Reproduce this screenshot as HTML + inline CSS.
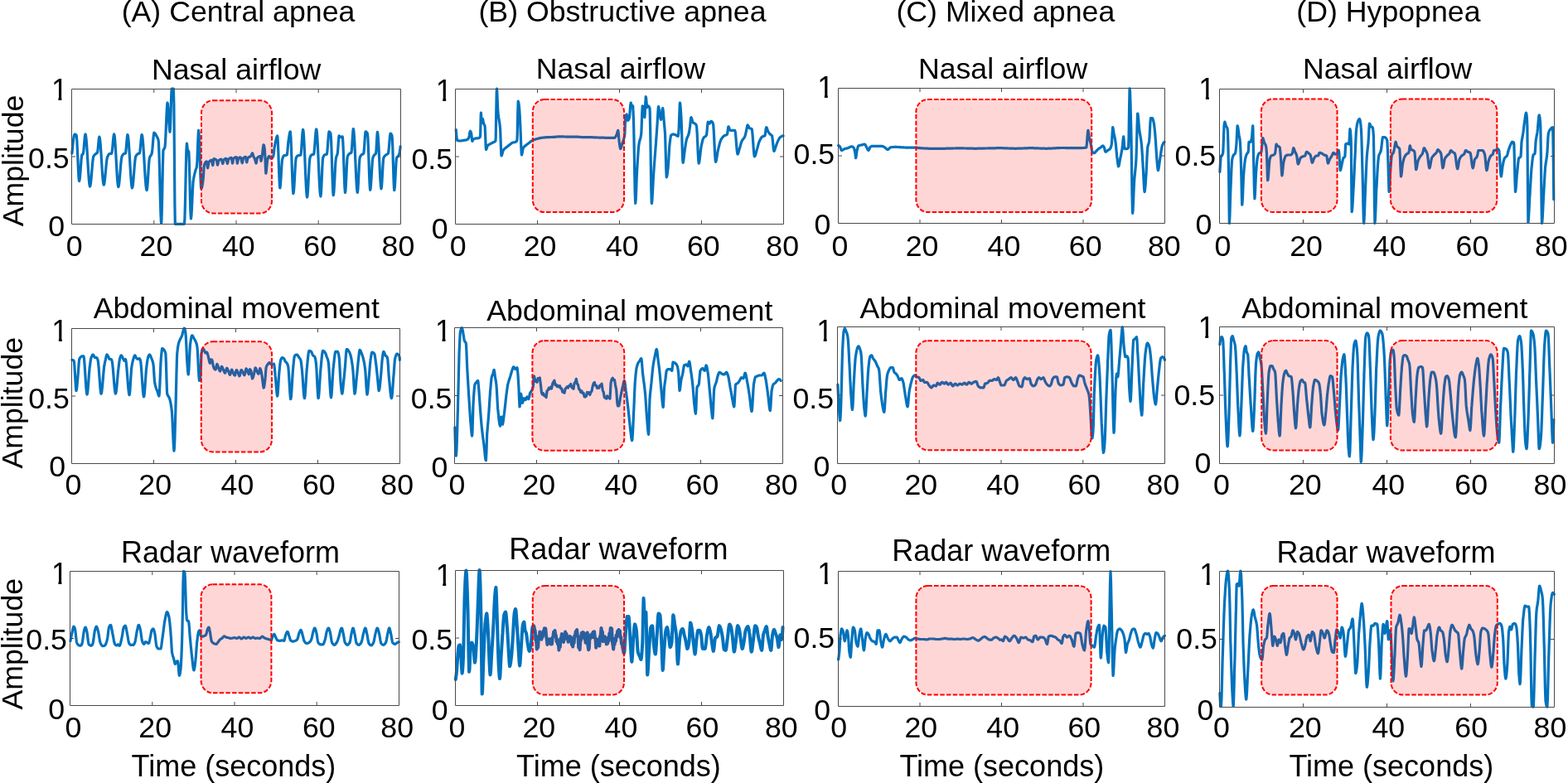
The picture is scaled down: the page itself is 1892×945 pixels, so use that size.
<!DOCTYPE html><html><head><meta charset="utf-8"><title>Apnea waveforms</title><style>html,body{margin:0;padding:0;background:#fff;}svg{display:block;}text{font-family:"Liberation Sans",sans-serif;font-size:35.7px;fill:#000;}</style></head><body>
<svg width="1892" height="945" viewBox="0 0 1892 945">
<rect width="1892" height="945" fill="#fff"/>
<g><path d="M86.9,185.2 87.4,179.5 87.9,174.4 88.4,170.0 88.9,166.4 89.4,163.8 89.9,162.3 90.2,162.0 90.4,162.0 90.9,162.2 91.4,162.4 91.9,162.8 92.0,163.0 92.4,164.4 92.9,170.9 93.4,180.9 93.9,192.4 94.4,203.7 94.9,212.8 95.4,218.0 95.6,218.5 95.9,217.9 96.4,214.3 96.9,208.5 97.4,201.8 97.9,195.2 98.4,189.9 98.9,187.1 98.9,187.0 99.4,186.5 99.9,186.0 100.2,185.6 100.4,185.0 100.9,181.4 101.4,175.9 101.9,169.8 102.4,164.8 102.9,162.1 103.0,162.0 103.4,162.9 103.9,166.4 104.4,171.9 104.9,178.9 105.4,187.0 105.9,195.4 106.4,203.7 106.9,211.4 107.4,217.8 107.9,222.5 108.4,224.8 108.5,225.0 108.9,224.4 109.4,221.7 109.9,217.2 110.4,211.6 110.9,205.5 111.4,199.6 111.9,194.4 112.4,190.6 112.8,188.9 112.9,188.7 113.4,187.9 113.9,187.2 114.4,186.6 114.9,186.2 115.4,185.7 115.6,185.6 115.9,185.3 116.4,185.1 116.9,184.8 117.4,184.3 117.4,184.3 117.9,182.2 118.4,177.3 118.9,171.6 119.4,166.9 119.8,165.2 119.9,165.2 120.4,166.8 120.9,170.8 121.4,176.7 121.9,183.9 122.4,191.8 122.9,199.8 123.4,207.5 123.9,214.2 124.4,219.4 124.9,222.5 125.2,223.1 125.4,223.0 125.9,221.2 126.4,217.6 126.9,212.8 127.4,207.4 127.9,201.8 128.4,196.7 128.9,192.6 129.4,190.1 129.4,189.8 129.9,188.9 130.4,187.8 130.9,186.9 131.4,186.2 131.9,185.7 132.2,185.6 132.4,185.5 132.9,185.4 133.4,185.4 133.9,185.3 134.4,185.3 134.6,185.2 134.9,184.8 135.4,181.6 135.9,176.5 136.4,170.7 136.9,165.6 137.4,162.5 137.6,162.0 137.9,162.5 138.4,165.7 138.9,171.5 139.4,179.0 139.9,187.7 140.4,196.9 140.9,205.8 141.4,213.8 141.9,220.2 142.4,224.3 142.8,225.6 142.9,225.5 143.4,223.9 143.9,220.2 144.4,215.1 144.9,209.1 145.4,202.9 145.9,197.2 146.4,192.5 146.9,189.5 147.0,188.9 147.4,188.2 147.9,187.3 148.4,186.5 148.9,185.9 149.4,185.6 149.4,185.6 149.9,185.5 150.4,185.4 150.9,185.3 151.3,185.2 151.4,185.1 151.9,182.4 152.4,176.9 152.9,170.5 153.4,165.1 153.9,162.6 153.9,162.6 154.4,163.9 154.9,167.7 155.4,173.6 155.9,181.0 156.4,189.3 156.9,197.9 157.4,206.4 157.9,214.0 158.4,220.4 158.9,224.8 159.4,226.8 159.4,226.9 159.9,225.9 160.4,222.7 160.9,217.8 161.4,211.8 161.9,205.4 162.4,199.2 162.9,193.9 163.4,190.2 163.7,188.9 163.9,188.6 164.4,187.7 164.9,187.0 165.4,186.4 165.9,186.0 166.4,185.6 166.5,185.6 166.9,185.4 167.4,185.2 167.9,185.1 168.3,184.8 168.4,184.8 168.9,182.5 169.4,177.7 169.9,171.9 170.4,166.6 170.9,163.1 171.1,162.6 171.4,162.9 171.9,165.5 172.4,170.2 172.9,176.5 173.4,184.1 173.9,192.3 174.4,200.8 174.9,209.0 175.4,216.4 175.9,222.7 176.4,227.1 176.9,229.4 177.0,229.6 177.4,228.7 177.9,224.3 178.4,217.3 178.9,209.1 179.4,201.1 179.9,194.5 180.4,190.8 180.4,190.7 180.9,189.4 181.4,188.5 181.9,187.8 182.4,187.1 182.9,186.0 183.1,185.2 183.4,184.2 183.9,179.9 184.4,173.9 184.9,167.7 185.4,162.6 185.9,160.2 185.9,160.2 186.4,160.3 186.9,160.8 187.4,161.5 187.9,162.4 188.4,163.3 188.7,163.9 188.9,164.1 189.4,165.0 189.9,165.8 190.4,167.0 190.9,168.5 191.1,169.4 191.4,171.6 191.9,182.7 192.4,200.1 192.9,220.5 193.4,240.7 193.9,257.5 194.4,267.8 194.6,269.4 194.9,267.4 195.4,251.0 195.9,225.6 196.4,200.1 196.9,183.5 197.0,181.5 197.4,180.6 197.9,179.7 198.4,179.0 198.9,177.9 198.9,177.8 199.4,173.5 199.9,164.2 200.4,152.4 200.9,140.2 201.4,130.2 201.9,124.6 202.0,124.1 202.4,125.2 202.9,130.6 203.4,138.7 203.9,147.5 204.4,154.9 204.9,159.0 205.0,159.3 205.4,155.7 205.9,142.1 206.4,124.8 206.9,110.9 207.2,107.0 207.4,107.0 207.9,107.0 208.4,107.0 208.9,107.0 209.4,107.0 209.4,107.0 209.9,127.3 210.4,186.3 210.9,246.7 211.3,270.4 211.4,270.4 211.9,270.4 212.4,270.4 212.9,270.4 213.4,270.4 213.9,270.4 214.4,270.4 214.9,270.4 215.4,270.4 215.9,270.4 216.4,270.4 216.9,270.4 217.4,270.4 217.9,270.4 218.4,270.4 218.9,270.4 219.4,270.4 219.9,270.4 220.4,270.4 220.9,270.4 221.4,270.4 221.9,270.4 222.4,270.4 222.4,270.4 222.9,264.5 223.4,247.0 223.9,223.6 224.4,199.7 224.9,181.0 225.4,173.2 225.4,173.1 225.9,176.3 226.4,181.8 226.7,183.3 226.9,183.2 227.4,182.6 227.6,182.4 227.9,184.4 228.4,197.3 228.9,217.5 229.4,239.1 229.9,256.4 230.4,263.9 230.4,263.9 230.9,260.8 231.4,252.5 231.9,241.6 232.4,230.5 232.9,221.7 233.1,218.5 233.4,217.1 233.9,214.1 234.4,211.6 234.9,209.5 235.4,207.6 235.9,205.8 235.9,205.6 236.4,204.3 236.9,203.0 237.4,201.2 237.4,200.9 237.9,194.9 238.4,182.4 238.9,168.8 239.4,159.1 239.6,157.4 239.9,158.4 240.4,166.8 240.9,181.0 241.4,197.5 241.9,213.1 242.4,224.3 242.8,227.8 242.9,227.8 243.4,226.9 243.9,224.9 244.4,222.2 244.9,218.8 245.0,217.6 245.4,213.8 245.9,205.1 246.3,199.6 246.4,199.6 246.9,198.1 247.4,196.9 247.9,196.0 248.4,195.3 248.9,195.0 249.3,194.9 249.4,195.0 249.9,198.2 250.4,202.2 250.6,202.8 250.9,202.1 251.4,198.8 251.9,196.0 251.9,195.9 252.4,195.3 252.9,194.7 253.4,194.2 253.9,193.8 254.4,193.5 254.9,193.3 255.3,193.3 255.4,193.3 255.9,195.4 256.4,198.7 256.7,199.6 256.9,199.2 257.4,195.4 257.9,191.9 258.0,191.7 258.4,191.7 258.9,191.8 259.4,192.0 259.9,192.2 260.4,192.6 260.9,193.0 261.2,193.3 261.4,193.7 261.9,196.5 262.4,198.9 262.5,199.1 262.9,198.2 263.4,195.5 263.8,193.8 263.9,193.8 264.4,193.3 264.9,192.9 265.4,192.6 265.9,192.4 266.4,192.3 266.9,192.2 267.0,192.2 267.4,192.8 267.9,194.6 268.4,196.6 268.8,197.5 268.9,197.5 269.4,196.0 269.9,193.6 270.2,192.8 270.4,192.6 270.9,192.2 271.4,191.8 271.9,191.6 272.4,191.5 272.8,191.4 272.9,191.4 273.4,193.1 273.9,195.9 274.4,197.5 274.4,197.5 274.9,196.1 275.4,193.4 275.7,192.2 275.9,192.1 276.4,191.6 276.9,191.2 277.4,190.9 277.9,190.6 278.4,190.5 278.9,190.4 279.2,190.4 279.4,190.8 279.9,194.0 280.4,196.8 280.5,197.0 280.9,196.0 281.4,193.1 281.8,191.4 281.9,191.4 282.4,190.9 282.9,190.5 283.4,190.1 283.9,189.9 284.4,189.7 284.9,189.6 285.2,189.6 285.4,189.8 285.9,194.3 286.3,197.2 286.4,197.2 286.9,195.1 287.4,192.0 287.6,191.2 287.9,190.9 288.4,190.5 288.9,190.2 289.4,189.9 289.9,189.8 290.0,189.8 290.4,190.2 290.9,191.9 291.4,194.0 291.9,195.9 292.4,196.7 292.4,196.7 292.9,194.5 293.4,191.4 293.4,191.2 293.9,190.7 294.4,190.2 294.9,189.8 295.4,189.5 295.9,189.4 296.3,189.3 296.4,189.3 296.9,191.5 297.4,195.0 297.7,195.9 297.9,195.7 298.4,193.4 298.9,190.9 299.0,190.6 299.4,190.3 299.9,189.9 300.4,189.6 300.9,189.4 301.4,189.2 301.9,189.0 302.4,188.6 302.4,188.5 302.9,187.9 303.4,186.8 303.9,185.6 304.4,184.9 304.6,184.8 304.9,185.3 305.4,187.2 305.9,189.0 305.9,189.0 306.4,189.9 306.9,190.6 307.2,191.2 307.4,191.6 307.9,193.4 308.4,195.5 308.9,196.8 309.0,197.0 309.4,196.2 309.9,193.0 310.4,190.7 310.4,190.6 310.9,190.1 311.4,189.6 311.9,189.3 312.4,189.0 312.9,188.7 313.4,188.6 313.9,188.5 314.1,188.5 314.4,190.2 314.9,194.3 314.9,194.3 315.4,193.2 315.9,190.5 316.2,188.5 316.4,187.5 316.9,183.0 317.4,178.2 317.9,175.1 318.0,174.8 318.4,175.2 318.9,177.3 319.4,180.5 319.4,180.6 319.9,189.4 320.4,202.5 320.8,209.2 320.9,209.2 321.4,206.3 321.9,200.3 322.4,194.9 322.5,193.8 322.9,192.6 323.4,190.8 323.9,189.5 324.4,188.7 324.7,188.5 324.9,188.6 325.4,189.0 325.9,189.7 326.4,190.4 326.9,191.0 327.3,191.2 327.4,191.2 327.9,191.0 328.4,190.7 328.9,190.1 329.4,189.2 329.9,188.2 329.9,188.0 330.4,185.2 330.9,180.2 330.9,179.6 331.4,176.8 331.9,174.0 332.2,172.2 332.4,171.6 332.9,169.3 333.4,167.0 333.9,165.2 334.4,164.1 334.6,163.9 334.9,164.8 335.4,172.3 335.9,185.0 336.4,199.8 336.9,213.7 337.4,223.7 337.8,226.9 337.9,226.8 338.4,223.4 338.9,216.5 339.4,207.9 339.9,199.6 340.4,193.8 340.6,192.6 340.9,191.5 341.4,189.8 341.9,188.6 342.4,188.0 342.4,188.0 342.9,187.8 343.4,187.6 343.9,187.6 344.4,187.5 344.9,187.4 345.4,187.3 345.9,187.2 346.1,187.0 346.4,186.3 346.9,182.2 347.4,176.4 347.9,171.2 348.0,170.4 348.4,167.7 348.9,164.2 349.4,161.2 349.9,159.3 350.2,158.9 350.4,159.3 350.9,165.3 351.4,176.5 351.9,190.7 352.4,205.7 352.9,219.4 353.4,229.4 353.9,233.7 353.9,233.7 354.4,231.6 354.9,225.5 355.4,217.0 355.9,207.7 356.4,199.2 356.9,192.9 357.2,190.7 357.4,190.4 357.9,189.4 358.4,188.6 358.9,188.1 359.1,188.0 359.4,187.8 359.9,187.7 360.4,187.6 360.9,187.5 361.4,187.5 361.9,187.4 362.4,187.2 362.8,187.0 362.9,186.9 363.4,183.5 363.9,176.7 364.4,168.6 364.9,161.3 365.4,156.9 365.6,156.5 365.9,157.3 366.4,162.0 366.9,170.1 367.4,180.5 367.9,192.3 368.4,204.4 368.9,216.0 369.4,226.1 369.9,233.6 370.4,237.6 370.6,238.0 370.9,237.0 371.4,231.6 371.9,223.1 372.4,213.1 372.9,203.2 373.4,195.3 373.9,190.9 373.9,190.7 374.4,189.4 374.9,188.2 375.4,187.4 375.7,187.0 375.9,187.0 376.4,186.8 376.9,186.6 377.4,186.5 377.9,186.4 378.4,186.2 378.5,186.1 378.9,185.0 379.4,180.6 379.9,174.2 380.4,167.1 380.9,160.8 381.4,156.8 381.7,155.9 381.9,156.2 382.4,159.8 382.9,166.7 383.4,176.1 383.9,187.0 384.4,198.7 384.9,210.1 385.4,220.6 385.9,229.2 386.4,234.9 386.9,237.0 387.4,233.3 387.9,224.1 388.4,212.4 388.9,201.0 389.4,192.8 389.6,190.7 389.9,190.0 390.4,188.7 390.9,187.7 391.4,187.1 391.5,187.0 391.9,186.9 392.4,186.7 392.9,186.6 393.4,186.5 393.9,186.3 394.3,186.1 394.4,186.0 394.9,182.7 395.4,176.5 395.9,169.3 396.4,163.0 396.9,159.2 397.0,158.9 397.4,159.0 397.9,159.4 398.4,160.1 398.9,161.0 398.9,161.1 399.4,165.8 399.9,177.2 400.4,192.6 400.9,209.0 401.4,223.5 401.9,233.3 402.2,235.7 402.4,235.5 402.9,231.5 403.4,223.7 403.9,214.0 404.4,204.0 404.9,195.7 405.4,190.8 405.4,190.7 405.9,189.0 406.4,187.9 406.9,186.6 407.2,185.2 407.4,184.4 407.9,178.2 408.4,170.3 408.9,164.6 409.1,163.9 409.4,164.0 409.9,164.6 410.4,165.3 410.9,165.7 410.9,165.7 411.4,165.7 411.9,165.4 412.4,165.1 412.9,164.9 413.1,164.8 413.4,165.5 413.9,172.6 414.4,184.9 414.9,199.7 415.4,214.4 415.9,226.1 416.4,232.1 416.5,232.4 416.9,230.4 417.4,222.7 417.9,211.9 418.4,200.8 418.9,192.2 419.3,188.9 419.4,188.7 419.9,187.6 420.4,186.8 420.9,186.2 421.4,185.7 421.9,185.3 422.0,185.2 422.4,185.0 422.9,184.8 423.4,184.6 423.9,184.3 423.9,184.3 424.4,181.2 424.9,173.8 425.4,165.1 425.9,158.1 426.3,155.6 426.4,155.6 426.9,158.2 427.4,164.4 427.9,173.2 428.4,183.8 428.9,195.3 429.4,206.6 429.9,216.9 430.4,225.2 430.9,230.7 431.3,232.4 431.4,232.4 431.9,228.4 432.4,219.8 432.9,209.1 433.4,199.1 433.9,192.1 434.1,190.7 434.4,189.9 434.9,188.6 435.4,187.8 435.9,187.1 435.9,187.0 436.4,186.7 436.9,186.4 437.4,186.2 437.9,185.9 438.4,185.6 438.7,185.2 438.9,184.7 439.4,180.0 439.9,172.5 440.4,164.9 440.9,159.7 441.1,158.9 441.4,158.9 441.9,159.2 442.4,159.6 442.9,160.3 443.3,161.1 443.4,161.2 443.9,166.2 444.4,177.2 444.9,191.5 445.4,206.4 445.9,219.3 446.4,227.6 446.7,229.3 446.9,228.9 447.4,225.0 447.9,217.9 448.4,209.3 448.9,200.8 449.4,194.1 449.8,190.7 449.9,190.6 450.4,189.3 450.9,188.2 451.4,187.5 451.7,187.0 451.9,186.8 452.4,186.4 452.9,186.0 453.4,185.5 453.5,185.2 453.9,182.5 454.4,173.7 454.9,164.0 455.4,159.3 455.4,159.3 455.9,161.3 456.4,167.2 456.9,175.8 457.4,186.2 457.9,197.2 458.4,207.9 458.9,217.2 459.4,224.1 459.9,227.6 460.0,227.8 460.4,226.2 460.9,219.9 461.4,210.8 461.9,201.3 462.4,193.8 462.8,190.7 462.9,190.6 463.4,189.5 463.9,188.8 464.4,188.1 464.9,187.7 465.4,187.2 465.6,187.0 465.9,186.8 466.4,186.5 466.9,186.3 467.4,186.0 467.9,185.7 468.3,185.2 468.4,185.2 468.9,182.6 469.4,177.3 469.9,171.1 470.4,165.3 470.9,161.7 471.1,161.1 471.4,161.2 471.9,161.6 472.4,162.5 472.9,163.6 473.0,163.9 473.4,168.2 473.9,180.9 474.4,197.7 474.9,214.3 475.4,226.2 475.7,229.6 475.9,229.5 476.4,225.1 476.9,216.6 477.4,206.5 477.9,197.3 478.4,191.5 478.5,190.7 478.9,190.0 479.4,189.3 479.9,188.9 480.4,188.4 480.9,187.8 481.3,187.0 481.4,186.9 481.9,185.1 482.4,182.3 482.9,179.0 483.1,176.9" fill="none" stroke="#0072BD" stroke-width="3.2" stroke-linejoin="round" stroke-linecap="round"/><rect x="243.0" y="121.2" width="85.0" height="136.2" rx="14" ry="15" fill="#ff0000" fill-opacity="0.16" stroke="#ff0000" stroke-width="2" stroke-dasharray="5.5 2.2"/><path d="M86.5,107.5H483.5V270.5H86.5ZM185.8,270.5v-4.5M185.8,107.5v4.5M285.0,270.5v-4.5M285.0,107.5v4.5M384.2,270.5v-4.5M384.2,107.5v4.5M86.5,189.0h4.5M483.5,189.0h-4.5" fill="none" stroke="#4a4a4a" stroke-width="1"/><text x="79.80" y="308.50">0</text><text x="168.60" y="308.50">20</text><text x="267.90" y="308.50">40</text><text x="366.30" y="308.50">60</text><text x="460.62" y="308.50">80</text><text transform="translate(61.88,121.10) scale(1,1.05)" clip-path="url(#one)">1</text><text x="34.10" y="202.97">0.5</text><text x="58.30" y="285.27">0</text></g>
<g><path d="M550.2,156.5 550.7,162.3 551.2,167.3 551.7,169.4 551.7,169.5 552.2,169.6 552.7,169.7 553.2,169.8 553.7,169.9 554.2,170.0 554.7,170.0 555.2,170.0 555.4,170.0 555.7,170.0 556.2,170.0 556.7,169.9 557.2,169.8 557.7,169.7 558.2,169.6 558.7,169.5 559.1,169.4 559.2,169.4 559.7,169.4 560.2,169.3 560.7,169.2 561.2,169.2 561.7,169.1 562.2,169.0 562.7,168.9 562.8,168.9 563.2,168.8 563.7,168.5 564.2,168.2 564.7,167.7 565.2,167.2 565.6,166.7 565.7,166.4 566.2,164.0 566.7,160.9 567.2,158.6 567.4,158.3 567.7,158.5 568.2,159.5 568.7,161.0 568.7,161.1 569.2,165.4 569.7,170.1 569.9,170.4 570.2,170.0 570.7,168.8 571.1,168.1 571.2,168.1 571.7,167.8 572.2,167.5 572.7,167.3 573.2,167.2 573.7,167.1 573.9,167.0 574.2,167.0 574.7,166.9 575.2,166.9 575.7,166.9 576.2,166.8 576.7,166.8 577.2,166.7 577.6,166.7 577.7,166.6 578.2,166.4 578.7,166.0 579.2,165.3 579.5,164.8 579.7,159.7 580.2,139.0 580.4,136.1 580.7,139.3 581.2,147.7 581.3,148.1 581.7,146.8 582.2,144.0 582.4,143.5 582.7,144.2 583.2,147.4 583.6,149.1 583.7,149.5 584.2,150.3 584.7,151.0 585.0,151.9 585.2,153.6 585.7,165.3 586.2,177.7 586.5,180.6 586.7,180.4 587.2,179.2 587.7,177.5 588.2,176.2 588.4,175.9 588.7,175.5 589.2,175.1 589.7,174.7 590.2,174.4 590.7,174.2 591.2,173.9 591.5,173.7 591.7,173.6 592.2,173.3 592.7,173.0 593.2,172.8 593.7,172.5 594.2,172.3 594.3,172.2 594.7,172.0 595.2,171.8 595.7,171.6 596.2,171.5 596.7,171.2 597.2,170.8 597.7,170.4 598.0,170.0 598.2,165.9 598.7,139.2 599.2,111.6 599.5,107.1 599.7,108.5 600.2,120.6 600.7,132.6 600.8,133.3 601.2,137.9 601.7,141.7 602.2,144.7 602.7,147.9 603.2,151.9 603.6,155.6 603.7,158.3 604.2,171.8 604.7,184.8 605.0,188.0 605.2,187.9 605.7,186.7 606.2,184.9 606.7,182.9 607.2,181.5 607.3,181.5 607.7,180.8 608.2,180.2 608.7,179.7 609.2,179.2 609.7,178.8 610.2,178.4 610.7,178.0 611.0,177.8 611.2,177.6 611.7,177.2 612.2,176.8 612.7,176.4 613.2,176.0 613.7,175.7 614.2,175.3 614.7,175.0 614.7,175.0 615.2,174.6 615.7,174.1 616.2,173.7 616.7,173.3 617.2,172.9 617.7,172.5 618.2,172.3 618.4,172.2 618.7,172.1 619.2,172.0 619.7,171.9 620.2,171.8 620.7,171.7 621.2,171.6 621.7,171.4 622.1,171.3 622.2,171.2 622.7,171.0 623.2,170.5 623.7,169.8 623.9,169.4 624.2,162.8 624.7,137.6 625.2,122.2 625.7,123.6 626.2,127.1 626.7,131.5 626.7,131.7 627.2,139.3 627.7,149.8 628.0,155.6 628.2,160.6 628.7,174.5 629.2,185.2 629.5,187.0 629.7,186.7 630.2,184.4 630.7,181.3 631.2,179.0 631.3,178.7 631.7,178.1 632.2,177.4 632.7,176.9 633.2,176.4 633.7,176.0 634.2,175.6 634.7,175.3 635.0,175.0 635.2,174.8 635.7,174.4 636.2,174.1 636.7,173.7 637.2,173.3 637.7,173.0 638.2,172.6 638.7,172.2 638.7,172.2 639.2,171.8 639.7,171.4 640.2,171.0 640.7,170.6 641.2,170.2 641.7,169.9 642.2,169.6 642.4,169.4 642.7,169.3 643.2,169.1 643.7,168.9 644.2,168.7 644.7,168.5 645.2,168.4 645.7,168.2 646.2,168.1 646.7,167.9 647.2,167.8 647.7,167.7 648.0,167.6 648.2,167.5 648.7,167.4 649.2,167.3 649.7,167.1 650.2,167.0 650.7,166.9 651.2,166.7 651.7,166.6 652.2,166.5 652.7,166.4 653.2,166.3 653.6,166.3 653.7,166.3 654.2,166.2 654.7,166.1 655.2,166.1 655.7,166.0 656.2,166.0 656.7,165.9 657.2,165.9 657.7,165.8 658.2,165.8 658.7,165.8 659.1,165.7 659.2,165.7 659.7,165.7 660.2,165.7 660.7,165.7 661.2,165.6 661.7,165.6 662.2,165.6 662.7,165.6 663.2,165.6 663.7,165.5 664.2,165.5 664.7,165.5 665.2,165.5 665.7,165.5 666.2,165.5 666.7,165.4 667.2,165.4 667.7,165.4 668.2,165.4 668.4,165.4 668.7,165.3 669.2,165.3 669.7,165.3 670.2,165.2 670.7,165.2 671.2,165.1 671.7,165.1 672.2,165.0 672.7,165.0 673.2,164.9 673.7,164.9 674.2,164.9 674.7,164.8 675.2,164.8 675.7,164.8 675.8,164.8 676.2,164.8 676.7,164.8 677.2,164.8 677.7,164.8 678.2,164.9 678.7,164.9 679.2,164.9 679.7,164.9 680.2,164.9 680.7,165.0 681.2,165.0 681.7,165.0 682.2,165.0 682.7,165.1 683.2,165.1 683.7,165.1 684.2,165.1 684.7,165.1 685.2,165.2 685.7,165.2 686.2,165.2 686.7,165.2 686.9,165.2 687.2,165.2 687.7,165.2 688.2,165.2 688.7,165.2 689.2,165.2 689.7,165.2 690.2,165.2 690.7,165.2 691.2,165.2 691.7,165.2 692.2,165.2 692.7,165.2 693.2,165.2 693.7,165.2 694.2,165.2 694.7,165.2 695.2,165.2 695.7,165.2 696.1,165.2 696.2,165.2 696.7,165.2 697.2,165.2 697.7,165.2 698.2,165.3 698.7,165.3 699.2,165.3 699.7,165.4 700.2,165.4 700.7,165.5 701.2,165.5 701.7,165.5 702.2,165.6 702.7,165.6 703.2,165.7 703.7,165.7 704.2,165.7 704.7,165.7 705.2,165.7 705.4,165.7 705.7,165.7 706.2,165.7 706.7,165.7 707.2,165.7 707.7,165.7 708.2,165.7 708.7,165.7 709.2,165.7 709.7,165.7 710.2,165.7 710.7,165.7 711.2,165.7 711.7,165.7 712.2,165.7 712.7,165.7 713.2,165.7 713.7,165.7 714.2,165.7 714.7,165.7 714.7,165.7 715.2,165.7 715.7,165.8 716.2,165.8 716.7,165.8 717.2,165.8 717.7,165.8 718.2,165.8 718.7,165.9 719.2,165.9 719.7,165.9 720.2,165.9 720.7,166.0 721.2,166.0 721.7,166.0 722.2,166.0 722.7,166.1 723.2,166.1 723.7,166.1 723.9,166.1 724.2,166.1 724.7,166.1 725.2,166.1 725.7,166.2 726.2,166.2 726.7,166.2 727.2,166.2 727.7,166.2 728.2,166.2 728.7,166.2 729.2,166.2 729.7,166.3 730.2,166.3 730.7,166.3 731.2,166.3 731.7,166.3 732.2,166.3 732.7,166.3 733.2,166.3 733.2,166.3 733.7,166.3 734.2,166.3 734.7,166.3 735.2,166.3 735.7,166.3 736.2,166.3 736.7,166.3 737.2,166.3 737.7,166.3 738.2,166.3 738.7,166.3 739.2,166.3 739.7,166.3 740.2,166.3 740.7,166.3 741.2,166.3 741.5,166.3 741.7,166.3 742.2,165.9 742.7,165.2 743.2,164.3 743.7,163.4 743.9,163.0 744.2,162.2 744.7,160.3 745.2,158.4 745.7,157.4 745.8,157.4 746.2,160.2 746.7,166.7 747.1,170.4 747.2,171.4 747.7,175.1 748.2,178.2 748.7,179.6 748.8,179.6 749.2,179.1 749.7,177.5 750.2,175.5 750.6,174.1 750.7,173.8 751.2,172.4 751.7,170.9 752.2,169.4 752.5,168.5 752.7,167.7 753.2,166.0 753.7,163.3 753.8,163.0 754.2,154.4 754.7,142.4 754.9,140.7 755.2,139.6 755.7,138.4 756.2,138.0 756.2,138.0 756.7,140.7 757.2,144.6 757.5,145.4 757.7,145.3 758.2,144.9 758.7,144.0 759.2,142.9 759.3,142.6 759.7,139.9 760.2,133.3 760.7,126.7 761.2,124.1 761.2,124.1 761.7,125.7 762.2,128.4 762.7,129.6 762.7,129.6 763.2,128.4 763.6,127.8 763.7,128.4 764.2,138.2 764.5,146.3 764.7,153.1 765.2,178.4 765.7,208.6 766.2,234.1 766.7,245.4 766.7,245.4 767.2,240.6 767.7,228.8 768.2,215.3 768.6,207.4 768.7,205.2 769.2,196.9 769.7,189.0 770.2,181.9 770.7,176.4 771.0,174.1 771.2,172.6 771.7,170.3 772.2,168.5 772.7,166.9 773.2,164.8 773.7,161.6 773.8,161.1 774.2,152.1 774.7,136.7 775.2,127.8 775.3,127.8 775.7,128.2 776.2,129.5 776.6,130.6 776.7,131.5 777.2,136.9 777.7,141.4 777.9,141.7 778.2,137.8 778.7,125.9 779.2,117.1 779.3,116.7 779.7,118.9 780.2,125.1 780.7,129.5 780.8,129.6 781.2,129.2 781.7,128.2 782.1,127.8 782.2,127.8 782.7,128.1 783.2,128.8 783.7,129.9 784.0,130.6 784.2,134.8 784.7,158.6 785.2,192.7 785.7,225.2 786.2,244.1 786.4,245.4 786.7,243.7 787.2,237.0 787.7,227.4 788.2,217.3 788.6,211.1 788.7,209.3 789.2,202.4 789.7,195.7 790.2,189.2 790.7,182.7 791.2,176.1 791.4,174.1 791.7,169.2 792.2,162.3 792.7,155.3 793.2,148.1 793.7,139.0 794.2,130.5 794.5,128.7 794.7,129.0 795.2,131.2 795.7,134.5 796.0,136.1 796.2,137.5 796.7,141.1 797.2,144.0 797.5,144.4 797.7,144.0 798.2,140.8 798.7,136.3 799.2,132.2 799.7,130.6 799.7,130.6 800.2,133.7 800.7,140.2 801.2,146.3 801.2,146.7 801.7,151.8 802.2,157.4 802.5,161.1 802.7,166.5 803.2,183.9 803.7,202.6 804.2,213.4 804.3,213.9 804.7,213.1 805.2,210.2 805.7,206.1 806.2,201.9 806.2,201.5 806.7,194.7 807.2,185.8 807.7,177.7 808.0,174.1 808.2,172.5 808.7,168.4 809.2,165.1 809.7,163.2 809.9,163.0 810.2,162.8 810.7,162.5 811.2,162.3 811.7,162.1 812.2,162.1 812.7,162.0 812.7,162.0 813.2,162.1 813.7,162.2 814.2,162.4 814.7,162.6 815.2,162.9 815.4,163.0 815.7,163.1 816.2,163.4 816.7,163.8 817.2,164.1 817.7,164.3 818.2,164.4 818.7,161.1 819.1,155.6 819.2,154.4 819.7,140.1 820.2,126.1 820.4,124.1 820.7,125.0 821.2,130.1 821.7,137.6 821.9,140.7 822.2,146.8 822.7,162.0 823.2,178.8 823.7,192.0 824.1,196.3 824.2,196.3 824.7,194.1 825.2,190.0 825.7,185.4 826.0,183.3 826.2,181.8 826.7,178.4 827.2,175.0 827.7,171.8 828.2,169.3 828.4,168.5 828.7,167.4 829.2,166.1 829.7,165.0 830.2,163.9 830.7,162.7 831.2,161.1 831.2,161.0 831.7,158.4 832.2,155.0 832.7,151.9 832.7,151.4 833.2,146.6 833.7,142.3 834.0,141.7 834.2,141.9 834.7,143.1 835.2,144.9 835.7,146.7 836.2,148.0 836.4,148.1 836.7,148.4 837.2,148.5 837.7,148.7 838.2,148.9 838.6,149.1 838.7,149.2 839.2,149.6 839.7,150.3 840.2,151.3 840.4,151.9 840.7,153.7 841.2,161.6 841.7,172.8 842.2,184.4 842.7,193.5 843.2,197.2 843.7,195.9 844.2,192.6 844.7,188.2 845.2,183.6 845.7,179.5 846.0,177.8 846.2,176.6 846.7,174.1 847.2,171.8 847.7,169.7 848.2,168.0 848.7,166.8 848.8,166.7 849.2,166.0 849.7,165.6 850.2,165.2 850.7,164.9 851.2,164.6 851.7,164.1 852.2,163.4 852.5,163.0 852.7,161.9 853.2,156.9 853.7,151.0 854.2,147.4 854.3,147.2 854.7,147.4 855.2,148.1 855.7,148.8 856.2,149.1 856.2,149.1 856.7,148.5 857.2,147.4 857.7,146.5 858.0,146.3 858.2,146.3 858.7,146.6 859.2,147.0 859.7,147.7 860.2,148.6 860.4,149.1 860.7,150.6 861.2,157.1 861.7,166.7 862.2,177.4 862.7,187.1 863.2,193.7 863.6,195.4 863.7,195.3 864.2,194.0 864.7,191.5 865.2,188.3 865.7,185.0 866.2,182.1 866.4,181.5 866.7,180.0 867.2,177.9 867.7,175.9 868.2,173.9 868.7,172.1 869.2,170.6 869.7,169.3 870.1,168.5 870.2,168.2 870.7,167.4 871.2,166.6 871.7,165.9 872.2,165.3 872.7,164.8 873.2,164.3 873.7,163.9 873.8,163.9 874.2,163.6 874.7,163.4 875.2,163.2 875.7,163.1 876.2,162.9 876.7,162.7 877.2,162.3 877.5,162.0 877.7,161.2 878.2,157.2 878.7,153.4 879.0,152.8 879.2,153.0 879.7,154.0 880.2,155.6 880.7,156.9 881.2,157.4 881.2,157.4 881.7,157.4 882.2,157.4 882.7,157.4 883.2,157.4 883.7,157.4 884.0,157.4 884.2,157.4 884.7,157.4 885.2,157.4 885.7,157.4 886.2,157.4 886.7,157.4 886.7,157.4 887.2,159.0 887.7,163.4 888.2,169.4 888.7,175.8 889.2,181.4 889.7,185.2 890.1,186.1 890.2,186.1 890.7,185.2 891.2,183.6 891.7,181.7 892.2,179.9 892.3,179.6 892.7,178.2 893.2,176.4 893.7,174.5 894.2,172.7 894.7,171.2 895.1,170.4 895.2,170.1 895.7,169.2 896.2,168.5 896.7,167.9 897.2,167.3 897.7,166.7 898.2,165.9 898.7,164.9 898.8,164.8 899.2,163.5 899.7,161.5 900.2,159.2 900.6,157.4 900.7,157.0 901.2,154.2 901.7,151.7 902.1,150.9 902.2,150.9 902.7,151.5 903.2,152.6 903.7,153.8 904.2,154.5 904.3,154.6 904.7,154.8 905.2,155.0 905.7,155.1 906.2,155.2 906.7,155.4 907.1,155.6 907.2,155.7 907.7,158.8 908.2,164.5 908.7,171.7 909.2,178.9 909.7,184.9 910.2,188.5 910.4,188.9 910.7,188.8 911.2,187.9 911.7,186.5 912.2,184.7 912.7,182.8 913.2,180.9 913.6,179.6 913.7,179.2 914.2,177.5 914.7,175.6 915.2,173.8 915.7,172.1 916.2,170.7 916.4,170.4 916.7,169.6 917.2,168.6 917.7,167.7 918.2,166.9 918.7,166.1 919.2,165.5 919.7,165.0 920.1,164.8 920.2,164.7 920.7,164.6 921.2,164.4 921.7,164.3 922.2,164.2 922.7,164.0 922.9,163.9 923.2,162.7 923.7,159.1 924.2,155.3 924.7,153.7 924.7,153.7 925.2,154.2 925.7,155.4 926.2,157.0 926.7,158.4 927.1,159.3 927.2,159.4 927.7,160.2 928.2,160.8 928.7,161.4 929.2,161.9 929.3,162.0 929.7,162.4 930.2,162.7 930.7,163.0 931.2,163.5 931.6,163.9 931.7,164.4 932.2,167.9 932.7,173.2 933.2,178.5 933.7,181.9 934.0,182.4 934.2,182.2 934.7,181.2 935.2,179.6 935.7,178.0 935.8,177.8 936.2,176.7 936.7,175.3 937.2,173.8 937.7,172.5 938.2,171.2 938.6,170.4 938.7,170.1 939.2,169.1 939.7,168.1 940.2,167.2 940.7,166.4 941.2,165.9 941.4,165.7 941.7,165.5 942.2,165.1 942.7,164.8 943.2,164.4 943.7,164.2 944.2,164.0 944.7,163.9 945.1,163.9" fill="none" stroke="#0072BD" stroke-width="3.2" stroke-linejoin="round" stroke-linecap="round"/><rect x="642.8" y="120.0" width="110.2" height="136.1" rx="14" ry="15" fill="#ff0000" fill-opacity="0.16" stroke="#ff0000" stroke-width="2" stroke-dasharray="5.5 2.2"/><path d="M549.5,107.5H945.5V270.5H549.5ZM648.5,270.5v-4.5M648.5,107.5v4.5M747.5,270.5v-4.5M747.5,107.5v4.5M846.5,270.5v-4.5M846.5,107.5v4.5M549.5,189.0h4.5M945.5,189.0h-4.5" fill="none" stroke="#4a4a4a" stroke-width="1"/><text x="542.70" y="308.50">0</text><text x="631.70" y="308.50">20</text><text x="730.90" y="308.50">40</text><text x="828.90" y="308.50">60</text><text x="924.33" y="308.50">80</text><text transform="translate(525.67,122.40) scale(1,1.05)" clip-path="url(#one)">1</text><text x="496.40" y="204.07">0.5</text><text x="520.80" y="288.48">0</text></g>
<g><path d="M1011.6,175.6 1012.0,175.7 1012.5,176.0 1013.0,176.5 1013.3,176.9 1013.5,177.0 1014.0,178.1 1014.5,179.6 1015.0,180.8 1015.5,181.5 1015.6,181.5 1016.0,181.4 1016.5,181.2 1017.0,181.0 1017.5,180.7 1018.0,180.3 1018.5,180.0 1019.0,179.7 1019.3,179.6 1019.5,179.6 1020.0,179.4 1020.5,179.3 1021.0,179.2 1021.5,179.1 1022.0,179.0 1022.5,178.8 1023.0,178.7 1023.0,178.7 1023.5,178.5 1024.0,178.3 1024.5,178.0 1025.0,177.8 1025.5,177.5 1026.0,177.3 1026.5,177.1 1027.0,176.9 1027.5,176.9 1027.6,176.9 1028.0,176.9 1028.5,177.1 1029.0,177.3 1029.5,177.7 1030.0,178.2 1030.4,178.7 1030.5,178.9 1031.0,180.5 1031.5,183.1 1031.9,185.2 1032.0,186.1 1032.5,190.5 1032.6,190.7 1033.0,189.5 1033.5,185.6 1034.0,181.9 1034.1,181.5 1034.5,179.8 1035.0,177.9 1035.5,176.5 1035.9,175.9 1036.0,175.9 1036.5,175.7 1037.0,175.5 1037.5,175.4 1038.0,175.3 1038.5,175.2 1039.0,175.1 1039.5,175.0 1039.6,175.0 1040.0,174.9 1040.5,174.7 1041.0,174.6 1041.5,174.4 1042.0,174.3 1042.5,174.2 1043.0,174.1 1043.3,174.1 1043.5,174.1 1044.0,174.6 1044.5,175.5 1045.0,176.5 1045.2,176.9 1045.5,177.4 1046.0,178.4 1046.5,179.5 1047.0,180.5 1047.5,181.2 1048.0,181.5 1048.0,181.5 1048.5,180.9 1049.0,179.6 1049.5,178.3 1049.8,177.8 1050.0,177.6 1050.5,177.2 1051.0,176.9 1051.5,176.6 1052.0,176.4 1052.5,176.3 1052.6,176.3 1053.0,176.3 1053.5,176.3 1054.0,176.3 1054.5,176.3 1055.0,176.3 1055.5,176.3 1056.0,176.3 1056.5,176.3 1057.0,176.3 1057.5,176.3 1058.0,176.3 1058.1,176.3 1058.5,176.3 1059.0,176.3 1059.5,176.3 1060.0,176.3 1060.5,176.3 1061.0,176.3 1061.5,176.3 1062.0,176.3 1062.5,176.3 1063.0,176.3 1063.5,176.3 1063.7,176.3 1064.0,176.3 1064.5,176.4 1065.0,176.6 1065.5,176.8 1066.0,177.0 1066.5,177.3 1067.0,177.5 1067.4,177.8 1067.5,177.8 1068.0,178.2 1068.5,178.6 1069.0,179.1 1069.5,179.6 1070.0,180.1 1070.5,180.4 1071.0,180.5 1071.1,180.6 1071.5,180.5 1072.0,180.2 1072.5,179.7 1073.0,179.2 1073.5,178.7 1074.0,178.2 1074.5,177.9 1074.8,177.8 1075.0,177.8 1075.5,177.7 1076.0,177.6 1076.5,177.6 1077.0,177.5 1077.5,177.5 1078.0,177.5 1078.5,177.5 1079.0,177.4 1079.5,177.4 1080.0,177.4 1080.4,177.4 1080.5,177.4 1081.0,177.4 1081.5,177.4 1082.0,177.4 1082.5,177.5 1083.0,177.5 1083.5,177.5 1084.0,177.5 1084.5,177.6 1085.0,177.6 1085.5,177.6 1086.0,177.7 1086.5,177.7 1087.0,177.7 1087.5,177.8 1087.8,177.8 1088.0,177.8 1088.5,177.8 1089.0,177.8 1089.5,177.9 1090.0,177.9 1090.5,177.9 1091.0,178.0 1091.5,178.0 1092.0,178.0 1092.5,178.1 1093.0,178.1 1093.5,178.1 1094.0,178.1 1094.5,178.1 1095.0,178.1 1095.2,178.1 1095.5,178.1 1096.0,178.1 1096.5,178.1 1097.0,178.1 1097.5,178.1 1098.0,178.1 1098.5,178.1 1099.0,178.1 1099.5,178.1 1100.0,178.1 1100.5,178.1 1101.0,178.1 1101.5,178.1 1102.0,178.1 1102.5,178.1 1102.6,178.1 1103.0,178.2 1103.5,178.2 1104.0,178.2 1104.5,178.2 1105.0,178.3 1105.5,178.3 1106.0,178.3 1106.5,178.4 1107.0,178.4 1107.5,178.5 1108.0,178.5 1108.5,178.6 1109.0,178.6 1109.5,178.7 1110.0,178.7 1110.0,178.7 1110.5,178.7 1111.0,178.8 1111.5,178.8 1112.0,178.8 1112.5,178.9 1113.0,178.9 1113.5,178.9 1114.0,179.0 1114.5,179.0 1115.0,179.0 1115.5,179.1 1116.0,179.1 1116.5,179.1 1117.0,179.1 1117.5,179.2 1118.0,179.2 1118.5,179.2 1119.0,179.2 1119.5,179.2 1120.0,179.2 1120.5,179.3 1121.0,179.3 1121.1,179.3 1121.5,179.3 1122.0,179.3 1122.5,179.3 1123.0,179.3 1123.5,179.3 1124.0,179.3 1124.5,179.3 1125.0,179.3 1125.5,179.3 1126.0,179.3 1126.5,179.3 1127.0,179.3 1127.5,179.3 1128.0,179.3 1128.5,179.3 1129.0,179.3 1129.5,179.3 1130.0,179.3 1130.5,179.3 1131.0,179.3 1131.5,179.3 1132.0,179.3 1132.5,179.3 1133.0,179.3 1133.5,179.3 1134.0,179.3 1134.5,179.3 1135.0,179.3 1135.5,179.3 1136.0,179.3 1136.5,179.3 1137.0,179.3 1137.5,179.3 1138.0,179.3 1138.5,179.3 1139.0,179.3 1139.5,179.3 1139.6,179.3 1140.0,179.3 1140.5,179.3 1141.0,179.3 1141.5,179.2 1142.0,179.2 1142.5,179.2 1143.0,179.2 1143.5,179.2 1144.0,179.2 1144.5,179.2 1145.0,179.2 1145.5,179.2 1146.0,179.2 1146.5,179.1 1147.0,179.1 1147.5,179.1 1148.0,179.1 1148.5,179.1 1149.0,179.1 1149.5,179.1 1150.0,179.0 1150.5,179.0 1151.0,179.0 1151.5,179.0 1152.0,179.0 1152.5,179.0 1153.0,179.0 1153.5,178.9 1154.0,178.9 1154.5,178.9 1155.0,178.9 1155.5,178.9 1156.0,178.9 1156.5,178.9 1157.0,178.9 1157.5,178.9 1158.0,178.9 1158.1,178.9 1158.5,178.9 1159.0,178.9 1159.5,178.9 1160.0,178.9 1160.5,178.9 1161.0,178.9 1161.5,178.9 1162.0,178.9 1162.5,178.9 1163.0,179.0 1163.5,179.0 1164.0,179.0 1164.5,179.0 1165.0,179.0 1165.5,179.0 1166.0,179.0 1166.5,179.0 1167.0,179.1 1167.5,179.1 1168.0,179.1 1168.5,179.1 1169.0,179.1 1169.5,179.1 1170.0,179.1 1170.5,179.2 1171.0,179.2 1171.5,179.2 1172.0,179.2 1172.5,179.2 1173.0,179.2 1173.5,179.2 1174.0,179.2 1174.5,179.2 1175.0,179.3 1175.5,179.3 1176.0,179.3 1176.5,179.3 1176.7,179.3 1177.0,179.3 1177.5,179.3 1178.0,179.3 1178.5,179.3 1179.0,179.2 1179.5,179.2 1180.0,179.2 1180.5,179.2 1181.0,179.2 1181.5,179.2 1182.0,179.2 1182.5,179.2 1183.0,179.2 1183.5,179.2 1184.0,179.2 1184.5,179.2 1185.0,179.1 1185.5,179.1 1186.0,179.1 1186.5,179.1 1187.0,179.1 1187.5,179.1 1188.0,179.1 1188.5,179.0 1189.0,179.0 1189.5,179.0 1190.0,179.0 1190.5,179.0 1191.0,179.0 1191.5,179.0 1192.0,179.0 1192.5,178.9 1193.0,178.9 1193.5,178.9 1194.0,178.9 1194.5,178.9 1195.0,178.9 1195.2,178.9 1195.5,178.9 1196.0,178.9 1196.5,178.9 1197.0,178.9 1197.5,178.8 1198.0,178.8 1198.5,178.8 1199.0,178.8 1199.5,178.8 1200.0,178.8 1200.5,178.8 1201.0,178.8 1201.5,178.8 1202.0,178.7 1202.5,178.7 1203.0,178.7 1203.5,178.7 1204.0,178.7 1204.5,178.7 1205.0,178.7 1205.5,178.7 1206.0,178.7 1206.3,178.7 1206.5,178.7 1207.0,178.7 1207.0,178.7 1207.5,178.7 1208.0,178.7 1208.5,178.7 1209.0,178.7 1209.5,178.7 1210.0,178.7 1210.5,178.8 1211.0,178.8 1211.5,178.8 1212.0,178.8 1212.5,178.8 1213.0,178.8 1213.5,178.9 1214.0,178.9 1214.5,178.9 1215.0,178.9 1215.5,178.9 1216.0,179.0 1216.5,179.0 1217.0,179.0 1217.5,179.0 1218.0,179.1 1218.5,179.1 1219.0,179.1 1219.5,179.1 1220.0,179.1 1220.5,179.2 1221.0,179.2 1221.5,179.2 1222.0,179.2 1222.5,179.2 1223.0,179.2 1223.5,179.2 1224.0,179.2 1224.5,179.3 1225.0,179.3 1225.5,179.3 1225.5,179.3 1226.0,179.3 1226.5,179.3 1227.0,179.2 1227.5,179.2 1228.0,179.2 1228.5,179.2 1229.0,179.2 1229.5,179.2 1230.0,179.2 1230.5,179.2 1231.0,179.1 1231.5,179.1 1232.0,179.1 1232.5,179.1 1233.0,179.1 1233.5,179.0 1234.0,179.0 1234.5,179.0 1235.0,179.0 1235.5,178.9 1236.0,178.9 1236.5,178.9 1237.0,178.9 1237.5,178.9 1238.0,178.8 1238.5,178.8 1239.0,178.8 1239.5,178.8 1240.0,178.8 1240.5,178.8 1241.0,178.7 1241.5,178.7 1242.0,178.7 1242.5,178.7 1243.0,178.7 1243.5,178.7 1244.0,178.7 1244.0,178.7 1244.5,178.7 1245.0,178.7 1245.5,178.7 1246.0,178.7 1246.5,178.7 1247.0,178.7 1247.5,178.8 1248.0,178.8 1248.5,178.8 1249.0,178.8 1249.5,178.8 1250.0,178.8 1250.5,178.9 1251.0,178.9 1251.5,178.9 1252.0,178.9 1252.5,178.9 1253.0,179.0 1253.5,179.0 1254.0,179.0 1254.5,179.0 1255.0,179.1 1255.5,179.1 1256.0,179.1 1256.5,179.1 1257.0,179.1 1257.5,179.2 1258.0,179.2 1258.5,179.2 1259.0,179.2 1259.5,179.2 1260.0,179.2 1260.5,179.2 1261.0,179.2 1261.5,179.3 1262.0,179.3 1262.5,179.3 1262.6,179.3 1263.0,179.3 1263.5,179.3 1264.0,179.2 1264.5,179.2 1265.0,179.2 1265.5,179.2 1266.0,179.2 1266.5,179.2 1267.0,179.2 1267.5,179.1 1268.0,179.1 1268.5,179.1 1269.0,179.1 1269.5,179.0 1270.0,179.0 1270.5,179.0 1271.0,178.9 1271.5,178.9 1272.0,178.9 1272.5,178.8 1273.0,178.8 1273.5,178.8 1274.0,178.8 1274.5,178.7 1275.0,178.7 1275.5,178.7 1276.0,178.7 1276.5,178.6 1277.0,178.6 1277.5,178.6 1278.0,178.6 1278.5,178.6 1279.0,178.5 1279.5,178.5 1280.0,178.5 1280.5,178.5 1281.0,178.5 1281.1,178.5 1281.5,178.5 1282.0,178.5 1282.5,178.5 1283.0,178.5 1283.5,178.5 1284.0,178.5 1284.5,178.5 1285.0,178.5 1285.5,178.5 1286.0,178.6 1286.5,178.6 1287.0,178.6 1287.5,178.6 1288.0,178.6 1288.5,178.6 1289.0,178.6 1289.5,178.6 1290.0,178.6 1290.5,178.6 1291.0,178.6 1291.5,178.6 1292.0,178.6 1292.5,178.6 1293.0,178.6 1293.5,178.7 1294.0,178.7 1294.5,178.7 1295.0,178.7 1295.5,178.7 1296.0,178.7 1296.5,178.7 1297.0,178.7 1297.5,178.7 1298.0,178.7 1298.5,178.7 1299.0,178.7 1299.5,178.7 1299.6,178.7 1300.0,178.7 1300.5,178.7 1301.0,178.7 1301.5,178.7 1302.0,178.7 1302.5,178.7 1303.0,178.7 1303.5,178.7 1304.0,178.6 1304.5,178.6 1305.0,178.6 1305.5,178.6 1306.0,178.6 1306.5,178.5 1307.0,178.5 1307.5,178.5 1308.0,178.4 1308.5,178.4 1309.0,178.3 1309.5,178.3 1310.0,178.2 1310.5,178.2 1310.7,178.1 1311.0,177.2 1311.5,172.3 1312.0,165.4 1312.5,159.6 1312.9,157.4 1313.0,157.4 1313.5,159.7 1314.0,163.7 1314.4,166.7 1314.5,167.0 1315.0,169.2 1315.5,171.0 1316.0,172.9 1316.3,174.1 1316.5,175.2 1317.0,178.2 1317.5,181.1 1318.0,183.1 1318.1,183.3 1318.5,183.8 1319.0,184.3 1319.5,184.7 1320.0,184.8 1320.0,184.8 1320.5,184.7 1321.0,184.3 1321.5,183.8 1322.0,183.2 1322.5,182.7 1322.7,182.4 1323.0,182.2 1323.5,181.7 1324.0,181.1 1324.5,180.6 1325.0,180.1 1325.5,179.7 1325.5,179.6 1326.0,179.3 1326.5,178.9 1327.0,178.6 1327.5,178.3 1328.0,178.0 1328.3,177.8 1328.5,177.6 1329.0,177.2 1329.5,176.7 1330.0,176.2 1330.5,176.0 1330.7,175.9 1331.0,176.0 1331.5,176.6 1332.0,177.5 1332.5,178.5 1332.6,178.7 1333.0,180.3 1333.5,182.6 1333.9,183.3 1334.0,183.3 1334.5,183.2 1335.0,182.8 1335.5,182.4 1336.0,182.0 1336.5,181.6 1336.6,181.5 1337.0,181.3 1337.5,181.0 1338.0,180.7 1338.5,180.4 1339.0,180.1 1339.4,179.6 1339.5,179.5 1340.0,178.7 1340.5,177.3 1341.0,175.4 1341.3,174.1 1341.5,172.0 1342.0,163.3 1342.5,155.2 1342.7,153.7 1343.0,154.2 1343.5,157.2 1344.0,160.8 1344.0,161.1 1344.5,163.3 1345.0,165.5 1345.5,167.9 1345.9,170.4 1346.0,171.0 1346.5,175.7 1347.0,181.2 1347.5,186.6 1347.7,188.9 1348.0,190.9 1348.5,195.2 1349.0,198.9 1349.5,200.9 1349.6,200.9 1350.0,200.3 1350.5,198.1 1351.0,195.2 1351.4,192.6 1351.5,192.4 1352.0,190.0 1352.5,187.6 1353.0,185.1 1353.5,182.4 1354.0,179.4 1354.2,177.8 1354.5,175.5 1355.0,169.8 1355.5,165.4 1355.7,164.8 1356.0,166.6 1356.5,174.4 1357.0,179.6 1357.0,179.6 1357.5,179.6 1358.0,179.6 1358.5,179.6 1359.0,179.6 1359.5,179.6 1359.8,179.6 1360.0,179.6 1360.5,179.4 1361.0,178.9 1361.5,178.1 1361.6,177.8 1362.0,167.2 1362.5,133.9 1363.0,108.0 1363.1,106.9 1363.5,110.2 1364.0,124.4 1364.5,143.8 1364.8,155.6 1365.0,165.1 1365.5,198.8 1366.0,234.3 1366.5,256.0 1366.6,257.4 1367.0,254.7 1367.5,244.2 1368.0,231.0 1368.5,220.4 1369.0,214.0 1369.5,209.0 1370.0,204.3 1370.5,198.6 1370.9,192.6 1371.0,190.8 1371.5,174.5 1372.0,154.3 1372.5,139.5 1372.7,137.0 1373.0,137.7 1373.5,142.1 1374.0,148.6 1374.5,154.6 1374.6,155.6 1375.0,158.4 1375.5,161.5 1376.0,164.3 1376.5,167.3 1377.0,170.7 1377.4,174.1 1377.5,175.2 1378.0,181.7 1378.5,189.6 1379.0,198.0 1379.2,201.9 1379.5,206.4 1380.0,216.8 1380.5,226.3 1381.0,231.3 1381.1,231.5 1381.5,229.9 1382.0,224.7 1382.5,217.6 1382.9,211.1 1383.0,210.3 1383.5,201.0 1384.0,190.0 1384.5,180.9 1384.8,177.8 1385.0,176.6 1385.5,174.7 1386.0,173.2 1386.5,171.2 1386.6,170.4 1387.0,166.3 1387.5,156.6 1388.0,147.0 1388.5,142.6 1389.0,142.6 1389.5,142.6 1390.0,142.6 1390.3,142.6 1390.5,142.6 1391.0,143.5 1391.5,145.1 1392.0,147.2 1392.2,148.1 1392.5,149.8 1393.0,153.7 1393.5,158.7 1394.0,164.2 1394.0,164.8 1394.5,170.8 1395.0,179.1 1395.5,187.2 1395.9,192.6 1396.0,193.6 1396.5,199.5 1397.0,204.2 1397.4,205.6 1397.5,205.5 1398.0,203.9 1398.5,200.7 1399.0,196.9 1399.5,193.3 1399.6,192.6 1400.0,190.1 1400.5,186.6 1401.0,183.1 1401.5,179.9 1402.0,177.3 1402.4,175.9 1402.5,175.6 1403.0,174.4 1403.5,173.3 1404.0,172.3 1404.5,171.7 1405.0,171.3 1405.1,171.3" fill="none" stroke="#0072BD" stroke-width="3.2" stroke-linejoin="round" stroke-linecap="round"/><rect x="1105.4" y="120.0" width="211.8" height="136.1" rx="14" ry="15" fill="#ff0000" fill-opacity="0.16" stroke="#ff0000" stroke-width="2" stroke-dasharray="5.5 2.2"/><path d="M1011.5,106.5H1405.5V269.5H1011.5ZM1110.0,269.5v-4.5M1110.0,106.5v4.5M1208.5,269.5v-4.5M1208.5,106.5v4.5M1307.0,269.5v-4.5M1307.0,106.5v4.5M1011.5,188.0h4.5M1405.5,188.0h-4.5" fill="none" stroke="#4a4a4a" stroke-width="1"/><text x="1003.60" y="308.50">0</text><text x="1092.70" y="308.50">20</text><text x="1191.60" y="308.50">40</text><text x="1289.80" y="308.50">60</text><text x="1384.92" y="308.50">80</text><text transform="translate(986.27,117.90) scale(1,1.05)" clip-path="url(#one)">1</text><text x="957.60" y="198.47">0.5</text><text x="982.60" y="282.98">0</text></g>
<g><path d="M1471.9,207.4 1472.4,199.2 1472.9,192.4 1473.3,188.9 1473.4,188.8 1473.9,187.7 1474.4,187.2 1474.9,186.7 1475.4,185.8 1475.6,185.2 1475.9,181.5 1476.4,167.9 1476.9,154.5 1477.0,151.9 1477.4,149.1 1477.8,147.2 1477.9,147.2 1478.4,148.4 1478.9,150.5 1479.3,151.9 1479.4,152.1 1479.9,152.9 1480.4,153.6 1480.9,154.7 1481.1,155.6 1481.4,158.4 1481.9,174.3 1482.4,198.4 1482.6,211.1 1482.9,233.3 1483.3,269.4 1483.4,269.4 1483.9,260.9 1484.4,243.9 1484.8,229.6 1484.9,228.8 1485.4,216.4 1485.9,204.5 1486.4,195.5 1486.7,192.6 1486.9,191.7 1487.4,189.7 1487.9,188.3 1488.4,187.3 1488.5,187.0 1488.9,186.6 1489.4,186.2 1489.9,185.9 1490.4,185.2 1490.4,185.2 1490.9,183.1 1491.4,179.1 1491.9,174.1 1492.4,164.7 1492.9,154.3 1493.1,151.9 1493.4,152.1 1493.9,154.5 1494.4,158.2 1494.9,162.0 1495.0,163.0 1495.4,164.7 1495.9,167.2 1496.3,170.4 1496.4,171.0 1496.9,181.0 1497.4,196.7 1497.8,211.1 1497.9,213.8 1498.4,238.3 1498.7,247.2 1498.9,246.7 1499.4,239.0 1499.9,226.4 1500.4,214.5 1500.6,211.1 1500.9,207.3 1501.4,201.4 1501.9,196.5 1502.4,192.9 1502.4,192.6 1502.9,190.5 1503.4,188.6 1503.9,187.1 1504.3,186.1 1504.4,185.9 1504.9,185.2 1505.4,184.7 1505.9,184.0 1506.1,183.3 1506.4,180.9 1506.9,172.5 1507.0,171.3 1507.4,171.3 1507.9,171.3 1508.4,171.3 1508.9,171.3 1508.9,171.3 1509.4,170.7 1509.9,169.1 1510.4,166.8 1510.4,166.7 1510.9,161.1 1511.4,153.8 1511.7,151.9 1511.9,154.9 1512.4,180.5 1512.6,192.6 1512.9,204.2 1513.4,227.4 1513.9,239.7 1513.9,239.8 1514.4,234.6 1514.9,222.3 1515.4,211.4 1515.4,211.1 1515.9,204.4 1516.4,198.1 1516.9,193.1 1517.2,190.7 1517.4,190.1 1517.9,188.1 1518.4,186.6 1518.9,185.5 1519.1,185.2 1519.4,184.9 1519.9,184.6 1520.4,184.4 1520.9,184.2 1521.4,183.9 1521.9,183.3 1521.9,183.3 1522.4,180.0 1522.9,173.7 1523.4,168.2 1523.7,166.7 1523.9,166.7 1524.4,167.9 1524.9,169.8 1525.4,171.6 1525.6,172.2 1525.9,172.8 1526.4,173.6 1526.9,174.5 1527.4,175.7 1527.4,175.9 1527.9,178.5 1528.3,183.3 1528.4,183.6 1528.9,197.6 1529.4,214.1 1529.6,217.6 1529.9,217.1 1530.4,212.8 1530.9,206.0 1531.4,198.9 1531.9,193.6 1532.0,192.6 1532.4,191.4 1532.9,189.8 1533.4,188.6 1533.9,188.0 1533.9,188.0 1534.4,187.7 1534.9,187.6 1535.4,187.4 1535.9,187.3 1536.4,187.2 1536.7,187.0 1536.9,186.9 1537.4,186.6 1537.9,186.1 1538.4,185.5 1538.5,185.2 1538.9,183.4 1539.4,178.3 1539.9,174.4 1540.0,174.1 1540.4,174.3 1540.9,175.2 1541.3,175.9 1541.4,176.0 1541.9,176.3 1542.4,176.6 1542.9,176.8 1543.4,177.1 1543.9,177.5 1544.1,177.8 1544.4,178.9 1544.9,183.6 1545.4,190.0 1545.6,192.6 1545.9,197.3 1546.4,207.0 1546.9,212.0 1546.9,212.0 1547.4,209.7 1547.9,204.4 1548.4,198.8 1548.7,196.3 1548.9,195.6 1549.4,193.5 1549.9,191.6 1550.4,190.0 1550.9,188.8 1551.4,188.1 1551.5,188.0 1551.9,187.8 1552.4,187.5 1552.9,187.3 1553.4,187.1 1553.9,187.1 1554.3,187.0 1554.4,187.0 1554.9,187.0 1555.4,187.0 1555.9,187.0 1556.4,187.0 1556.9,187.0 1557.0,187.0 1557.4,187.0 1557.9,186.8 1558.4,186.3 1558.9,185.7 1559.3,185.2 1559.4,185.0 1559.9,182.6 1560.4,179.7 1560.7,178.7 1560.9,178.7 1561.4,179.6 1561.9,181.1 1562.4,182.7 1562.6,183.3 1562.9,183.9 1563.4,184.7 1563.9,185.6 1564.4,186.8 1564.4,187.0 1564.9,189.2 1565.4,193.1 1565.9,196.8 1566.3,198.1 1566.4,198.1 1566.9,197.5 1567.4,196.0 1567.9,194.2 1568.4,192.4 1568.9,191.1 1569.1,190.7 1569.4,190.5 1569.9,190.0 1570.4,189.7 1570.9,189.4 1571.4,189.1 1571.9,188.9 1571.9,188.9 1572.4,188.7 1572.9,188.6 1573.4,188.5 1573.9,188.3 1574.4,188.1 1574.6,188.0 1574.9,187.7 1575.4,186.2 1575.9,184.5 1576.4,183.4 1576.5,183.3 1576.9,183.4 1577.4,183.6 1577.9,184.0 1578.4,184.4 1578.9,184.8 1579.3,185.2 1579.4,185.3 1579.9,185.7 1580.4,186.1 1580.9,186.7 1581.1,187.0 1581.4,187.6 1581.9,190.0 1582.4,192.9 1582.9,195.3 1583.3,196.3 1583.4,196.3 1583.9,195.8 1584.4,194.5 1584.9,193.0 1585.4,191.5 1585.7,190.7 1585.9,190.6 1586.4,189.9 1586.9,189.2 1587.4,188.6 1587.9,188.2 1588.4,188.0 1588.5,188.0 1588.9,188.0 1589.4,188.0 1589.9,188.0 1590.4,188.0 1590.4,188.0 1590.9,187.3 1591.4,185.9 1591.9,184.6 1592.2,184.3 1592.4,184.3 1592.9,184.3 1593.4,184.5 1593.9,184.7 1594.4,184.9 1594.9,185.1 1595.0,185.2 1595.4,185.4 1595.9,185.7 1596.4,186.1 1596.9,186.5 1597.4,186.8 1597.8,187.0 1597.9,187.1 1598.4,187.2 1598.9,187.4 1599.4,187.5 1599.9,187.6 1600.4,187.8 1600.6,188.0 1600.9,188.7 1601.4,191.8 1601.9,195.3 1602.4,197.2 1602.4,197.2 1602.9,196.7 1603.4,195.3 1603.9,193.7 1604.3,192.6 1604.4,192.4 1604.9,191.5 1605.4,190.7 1605.9,189.9 1606.4,189.1 1606.9,188.3 1607.0,188.0 1607.4,187.3 1607.9,186.0 1608.4,184.8 1608.9,184.3 1608.9,184.3 1609.4,184.5 1609.9,185.2 1610.4,185.9 1610.7,186.1 1610.9,186.1 1611.4,186.1 1611.9,185.9 1612.4,185.8 1612.9,185.6 1613.4,185.3 1613.5,185.2 1613.9,184.7 1614.4,183.5 1614.9,182.1 1615.4,181.5 1615.4,181.5 1615.9,185.5 1616.4,194.6 1616.9,203.1 1617.2,205.6 1617.4,205.5 1617.9,204.1 1618.4,201.7 1618.9,199.1 1619.1,198.1 1619.4,197.0 1619.9,194.6 1620.4,192.4 1620.9,190.9 1620.9,190.7 1621.4,190.2 1621.9,189.9 1622.4,189.5 1622.8,188.9 1622.9,188.5 1623.4,178.8 1623.7,174.1 1623.9,173.9 1624.4,173.6 1624.9,173.3 1625.4,173.2 1625.9,173.1 1625.9,173.1 1626.4,173.3 1626.9,173.6 1627.4,173.9 1627.8,174.1 1627.9,173.8 1628.4,164.4 1628.9,155.6 1628.9,155.6 1629.4,157.6 1629.9,164.0 1630.2,170.4 1630.4,180.0 1630.9,240.4 1631.1,255.6 1631.4,254.8 1631.9,249.4 1632.4,240.8 1632.9,231.5 1633.0,229.6 1633.4,222.7 1633.9,212.7 1634.4,202.2 1634.8,192.6 1634.9,191.8 1635.4,180.5 1635.9,168.8 1636.4,159.2 1636.7,155.6 1636.9,154.1 1637.4,150.9 1637.9,148.4 1638.4,146.7 1638.5,146.3 1638.9,145.5 1639.4,144.5 1639.9,143.8 1640.4,143.5 1640.4,143.5 1640.9,144.4 1641.4,146.8 1641.9,150.4 1642.2,153.7 1642.4,155.3 1642.9,166.7 1643.4,184.0 1643.9,203.1 1644.1,211.1 1644.4,222.9 1644.9,248.6 1645.4,267.3 1645.6,269.4 1645.9,267.6 1646.4,257.9 1646.9,244.1 1647.4,230.9 1647.4,229.6 1647.9,219.2 1648.4,207.0 1648.9,195.8 1649.3,188.9 1649.4,187.7 1649.9,182.3 1650.4,178.0 1650.9,173.3 1651.1,170.4 1651.4,166.4 1651.9,155.7 1652.4,149.2 1652.4,149.1 1652.9,149.5 1653.4,150.8 1653.9,152.1 1654.3,152.8 1654.4,152.8 1654.9,153.1 1655.4,153.2 1655.9,153.5 1656.1,153.7 1656.4,154.3 1656.9,157.9 1657.4,164.0 1657.4,164.8 1657.9,190.7 1658.4,240.0 1658.9,269.3 1658.9,269.4 1659.4,264.8 1659.9,252.6 1660.4,238.4 1660.7,229.6 1660.9,227.7 1661.4,218.5 1661.9,209.4 1662.4,201.2 1662.9,194.4 1663.4,189.8 1663.5,188.9 1663.9,187.6 1664.4,186.1 1664.9,185.1 1665.4,184.1 1665.9,183.0 1666.3,181.5 1666.4,181.2 1666.9,177.8 1667.4,173.1 1667.9,168.6 1668.4,165.9 1668.5,165.7 1668.9,165.7 1669.4,165.7 1669.9,165.7 1670.4,165.7 1670.9,165.7 1670.9,165.7 1671.4,165.8 1671.9,166.1 1672.4,166.6 1672.9,167.4 1673.4,168.5 1673.7,169.4 1673.9,170.5 1674.4,181.0 1674.8,192.6 1674.9,194.6 1675.4,213.2 1675.9,229.2 1676.1,231.5 1676.4,229.8 1676.9,221.1 1677.4,210.7 1677.6,207.4 1677.9,203.4 1678.4,196.4 1678.9,190.6 1679.4,187.2 1679.4,187.0 1679.9,186.1 1680.4,185.5 1680.9,185.0 1681.3,184.3 1681.4,184.0 1681.9,182.2 1682.4,179.7 1682.7,177.8 1682.9,177.2 1683.4,174.0 1683.9,171.5 1684.0,171.3 1684.4,171.9 1684.9,174.1 1685.3,175.9 1685.4,176.0 1685.9,176.7 1686.4,177.3 1686.8,177.8 1686.9,177.8 1687.4,178.2 1687.9,178.6 1688.4,179.1 1688.7,179.6 1688.9,180.8 1689.4,190.5 1689.9,203.4 1690.4,212.2 1690.5,213.0 1690.9,212.0 1691.4,207.8 1691.9,202.4 1692.4,198.2 1692.4,198.1 1692.9,195.7 1693.4,193.5 1693.9,191.8 1694.2,190.7 1694.4,190.4 1694.9,189.3 1695.4,188.4 1695.9,187.5 1696.4,186.8 1696.9,186.3 1697.0,186.1 1697.4,185.8 1697.9,185.5 1698.4,185.3 1698.9,185.1 1699.4,184.7 1699.8,184.3 1699.9,184.1 1700.4,181.2 1700.9,177.4 1701.3,175.9 1701.4,176.0 1701.9,177.8 1702.4,180.2 1702.6,180.6 1702.9,180.7 1703.4,180.9 1703.9,181.0 1704.4,181.1 1704.9,181.3 1705.3,181.5 1705.4,181.5 1705.9,181.9 1706.4,182.5 1706.8,183.3 1706.9,183.4 1707.4,188.3 1707.9,196.3 1708.4,203.1 1708.7,204.6 1708.9,204.5 1709.4,202.7 1709.9,199.9 1710.4,196.8 1710.9,194.6 1710.9,194.4 1711.4,193.2 1711.9,192.1 1712.4,191.1 1712.9,190.2 1713.4,189.4 1713.7,188.9 1713.9,188.6 1714.4,188.0 1714.9,187.4 1715.4,186.8 1715.9,186.2 1716.4,185.4 1716.4,185.2 1716.9,183.9 1717.4,181.6 1717.9,179.5 1718.3,178.7 1718.4,178.7 1718.9,179.1 1719.4,179.9 1719.9,180.9 1720.1,181.5 1720.4,181.8 1720.9,182.7 1721.4,183.6 1721.9,184.8 1722.0,185.2 1722.4,186.7 1722.9,190.3 1723.4,194.7 1723.9,198.8 1724.4,201.8 1724.8,202.8 1724.9,202.8 1725.4,201.6 1725.9,199.3 1726.4,196.4 1726.9,193.5 1727.4,191.3 1727.6,190.7 1727.9,190.2 1728.4,189.4 1728.9,188.7 1729.4,188.1 1729.9,187.6 1730.3,187.0 1730.4,187.0 1730.9,186.5 1731.4,186.0 1731.9,185.6 1732.4,185.1 1732.9,184.6 1733.1,184.3 1733.4,183.8 1733.9,182.6 1734.4,181.3 1734.9,180.6 1735.0,180.6 1735.4,180.7 1735.9,181.2 1736.4,181.8 1736.8,182.4 1736.9,182.5 1737.4,183.0 1737.9,183.7 1738.4,184.5 1738.7,185.2 1738.9,185.9 1739.4,190.0 1739.9,195.5 1740.4,200.4 1740.9,202.8 1740.9,202.8 1741.4,201.9 1741.9,199.4 1742.4,196.2 1742.9,193.3 1743.3,191.7 1743.4,191.6 1743.9,190.6 1744.4,189.9 1744.9,189.3 1745.4,188.7 1745.9,188.2 1746.1,188.0 1746.4,187.7 1746.9,187.2 1747.4,186.7 1747.9,186.3 1748.4,185.8 1748.9,185.2 1748.9,185.2 1749.4,184.2 1749.9,182.8 1750.4,181.8 1750.7,181.5 1750.9,181.5 1751.4,181.9 1751.9,182.5 1752.4,183.1 1752.6,183.3 1752.9,183.6 1753.4,183.8 1753.9,184.1 1754.4,184.4 1754.9,184.7 1755.3,185.2 1755.4,185.2 1755.9,186.8 1756.4,189.9 1756.9,193.7 1757.4,197.7 1757.9,201.1 1758.4,203.3 1758.7,203.7 1758.9,203.5 1759.4,201.6 1759.9,198.3 1760.4,195.0 1760.9,192.7 1760.9,192.6 1761.4,191.5 1761.9,190.5 1762.4,189.6 1762.9,188.9 1763.4,188.3 1763.7,188.0 1763.9,187.8 1764.4,187.4 1764.9,187.2 1765.4,186.9 1765.9,186.6 1766.4,186.2 1766.4,186.1 1766.9,185.4 1767.4,184.1 1767.9,182.7 1768.4,181.7 1768.7,181.5 1768.9,181.5 1769.4,181.8 1769.9,182.2 1770.4,182.8 1770.9,183.2 1771.1,183.3 1771.4,183.4 1771.9,183.6 1772.4,183.7 1772.9,183.8 1773.4,184.0 1773.9,184.3 1773.9,184.3 1774.4,185.6 1774.9,188.6 1775.4,192.4 1775.9,196.5 1776.4,200.0 1776.9,202.3 1777.2,202.8 1777.4,202.6 1777.9,200.9 1778.4,197.9 1778.9,194.8 1779.4,192.7 1779.4,192.6 1779.9,191.8 1780.4,191.2 1780.9,190.7 1781.4,190.2 1781.9,189.5 1782.2,188.9 1782.4,188.4 1782.9,186.1 1783.4,183.4 1783.9,181.7 1784.0,181.5 1784.4,181.5 1784.9,181.5 1785.4,181.5 1785.9,181.5 1785.9,181.5 1786.4,181.5 1786.9,181.5 1787.4,181.5 1787.9,181.5 1788.4,181.5 1788.7,181.5 1788.9,181.5 1789.4,181.8 1789.9,182.5 1790.4,183.4 1790.9,184.5 1791.4,185.9 1791.4,186.1 1791.9,188.4 1792.4,193.3 1792.9,199.0 1793.4,203.6 1793.9,205.6 1793.9,205.6 1794.4,204.4 1794.9,201.6 1795.4,198.3 1795.9,195.3 1796.1,194.4 1796.4,193.6 1796.9,192.1 1797.4,190.8 1797.9,189.6 1798.4,188.7 1798.9,188.0 1798.9,188.0 1799.4,187.5 1799.9,187.2 1800.4,186.9 1800.9,186.6 1801.3,186.1 1801.4,185.9 1801.9,183.9 1802.4,181.8 1802.6,181.5 1802.9,181.5 1803.4,181.5 1803.9,181.5 1804.4,181.5 1804.4,181.5 1804.9,181.3 1805.4,180.9 1805.9,180.3 1806.4,179.8 1806.8,179.6 1806.9,179.6 1807.4,179.8 1807.9,180.3 1808.4,181.0 1808.7,181.5 1808.9,182.2 1809.4,187.6 1809.9,195.8 1810.4,204.5 1810.9,211.0 1811.3,213.0 1811.4,212.9 1811.9,210.5 1812.4,206.1 1812.9,201.7 1813.1,200.0 1813.4,198.8 1813.9,196.4 1814.4,194.2 1814.9,192.4 1815.4,191.0 1815.5,190.7 1815.9,190.3 1816.4,189.8 1816.9,189.4 1817.4,189.0 1817.9,188.6 1818.3,188.0 1818.4,187.9 1818.9,186.5 1819.4,184.5 1819.9,182.5 1820.1,181.5 1820.4,180.9 1820.9,179.3 1821.4,177.9 1821.9,176.5 1822.4,175.3 1822.9,174.2 1822.9,174.1 1823.4,173.2 1823.9,172.2 1824.4,171.5 1824.8,171.3 1824.9,171.3 1825.4,171.4 1825.9,171.6 1826.4,172.0 1826.6,172.2 1826.9,174.7 1827.4,192.5 1827.9,215.7 1828.4,230.7 1828.5,231.5 1828.9,229.9 1829.4,224.3 1829.9,217.1 1830.3,211.1 1830.4,210.9 1830.9,205.7 1831.4,200.4 1831.9,195.6 1832.4,192.1 1832.7,190.7 1832.9,190.6 1833.4,190.1 1833.9,189.9 1834.4,189.6 1834.9,189.1 1835.0,188.9 1835.4,183.2 1835.9,172.6 1835.9,172.2 1836.4,168.6 1836.9,165.9 1837.4,163.4 1837.7,161.1 1837.9,160.3 1838.4,156.3 1838.9,152.0 1839.4,148.0 1839.6,146.3 1839.9,144.5 1840.4,140.8 1840.9,137.7 1841.4,136.2 1841.4,136.1 1841.9,137.4 1842.4,142.2 1842.7,148.1 1842.9,153.1 1843.4,219.5 1843.9,268.5 1843.9,268.5 1844.4,264.8 1844.9,255.9 1845.4,245.4 1845.7,238.9 1845.9,236.5 1846.4,227.8 1846.9,219.1 1847.4,211.0 1847.9,204.5 1847.9,203.7 1848.4,199.4 1848.9,194.6 1849.4,190.6 1849.9,187.9 1850.1,187.0 1850.4,186.7 1850.9,186.3 1851.4,186.0 1851.9,185.5 1852.0,185.2 1852.4,182.0 1852.9,173.6 1853.1,170.4 1853.4,168.5 1853.9,165.5 1854.4,162.9 1854.9,160.0 1855.0,159.3 1855.4,155.7 1855.9,149.8 1856.4,143.9 1856.9,139.8 1857.2,138.9 1857.4,139.1 1857.9,141.5 1858.4,146.2 1858.7,150.0 1858.9,155.3 1859.4,190.5 1859.9,236.2 1860.4,266.9 1860.5,269.4 1860.9,267.6 1861.4,259.9 1861.9,249.2 1862.4,239.2 1862.4,238.9 1862.9,230.4 1863.4,221.0 1863.9,212.1 1864.4,204.7 1864.6,201.9 1864.9,199.4 1865.4,195.7 1865.9,192.7 1866.4,189.3 1866.8,185.2 1866.9,184.8 1867.4,176.2 1867.9,166.2 1868.3,161.1 1868.4,160.9 1868.9,159.3 1869.4,158.0 1869.9,157.1 1870.4,156.4 1870.9,155.8 1871.1,155.6 1871.4,155.2 1871.9,154.7 1872.4,154.2 1872.9,153.9 1873.4,153.7 1873.5,153.7 1873.9,164.1 1874.4,201.3 1874.8,240.7" fill="none" stroke="#0072BD" stroke-width="3.2" stroke-linejoin="round" stroke-linecap="round"/><rect x="1521.9" y="119.4" width="91.6" height="136.7" rx="14" ry="15" fill="#ff0000" fill-opacity="0.16" stroke="#ff0000" stroke-width="2" stroke-dasharray="5.5 2.2"/><rect x="1677.9" y="119.4" width="128.4" height="136.7" rx="14" ry="15" fill="#ff0000" fill-opacity="0.16" stroke="#ff0000" stroke-width="2" stroke-dasharray="5.5 2.2"/><path d="M1471.5,107.5H1875.5V269.5H1471.5ZM1572.5,269.5v-4.5M1572.5,107.5v4.5M1673.5,269.5v-4.5M1673.5,107.5v4.5M1774.5,269.5v-4.5M1774.5,107.5v4.5M1471.5,188.5h4.5M1875.5,188.5h-4.5" fill="none" stroke="#4a4a4a" stroke-width="1"/><text x="1465.40" y="308.50">0</text><text x="1556.20" y="308.50">20</text><text x="1656.80" y="308.50">40</text><text x="1756.60" y="308.50">60</text><text x="1851.92" y="308.50">80</text><text transform="translate(1446.28,119.50) scale(1,1.05)" clip-path="url(#one)">1</text><text x="1417.60" y="200.18">0.5</text><text x="1442.60" y="282.98">0</text></g>
<g><path d="M86.9,434.4 87.4,434.5 87.9,434.6 88.4,434.9 88.9,435.2 89.1,435.4 89.4,436.4 89.9,441.9 90.4,450.0 90.9,459.0 91.4,466.7 91.9,471.1 92.0,471.5 92.4,470.6 92.9,466.7 93.4,460.9 93.9,455.2 93.9,454.8 94.4,449.1 94.9,441.9 95.4,435.9 95.7,433.5 95.9,433.2 96.4,432.2 96.9,431.4 97.4,430.9 97.6,430.7 97.9,430.5 98.4,430.2 98.9,429.9 99.4,429.8 99.4,429.8 99.9,429.8 100.4,429.8 100.7,429.8 100.9,429.9 101.4,432.4 101.9,437.6 102.4,444.7 102.9,452.7 103.4,460.7 103.9,467.8 104.4,473.2 104.9,475.9 105.0,476.1 105.4,475.3 105.9,471.6 106.4,465.9 106.9,459.2 107.4,452.3 107.9,446.4 108.1,443.7 108.4,442.1 108.9,438.1 109.4,434.6 109.9,432.1 110.0,431.7 110.4,430.7 110.9,429.6 111.4,428.7 111.9,428.1 112.2,428.0 112.4,428.0 112.9,428.6 113.4,429.6 113.9,430.8 114.4,431.5 114.6,431.7 114.9,431.7 115.4,431.7 115.9,431.7 116.4,431.7 116.5,431.7 116.9,431.9 117.4,432.8 117.9,434.1 118.0,434.4 118.4,436.4 118.9,441.0 119.4,447.1 119.9,454.1 120.4,461.2 120.9,467.5 121.4,472.4 121.9,475.0 122.0,475.2 122.4,474.7 122.9,471.9 123.4,467.4 123.9,461.8 124.4,455.8 124.9,449.9 125.4,444.8 125.7,441.9 125.9,441.2 126.4,438.3 126.9,435.8 127.4,433.6 127.6,432.6 127.9,431.4 128.4,429.2 128.9,428.0 128.9,428.0 129.4,428.2 129.9,429.0 130.4,429.8 130.4,429.8 130.9,430.8 131.4,432.2 131.9,433.2 132.2,433.5 132.4,433.5 132.9,433.5 133.4,433.5 133.9,433.5 134.1,433.5 134.4,433.8 134.9,434.9 135.0,435.4 135.4,436.9 135.9,440.8 136.4,446.1 136.9,452.2 137.4,458.5 137.9,464.6 138.4,469.7 138.9,473.4 139.4,475.1 139.4,475.2 139.9,474.3 140.4,471.2 140.9,466.5 141.4,460.8 141.9,454.9 142.4,449.4 142.8,445.6 142.9,445.0 143.4,440.9 143.9,437.0 144.4,433.8 144.6,432.6 144.9,431.8 145.4,430.1 145.9,429.1 146.1,428.9 146.4,429.0 146.9,429.6 147.4,430.5 147.9,431.5 148.0,431.7 148.4,432.4 148.9,433.5 149.4,434.5 149.9,435.2 150.2,435.4 150.4,435.3 150.9,434.2 151.3,433.5 151.4,433.5 151.9,435.1 152.4,438.8 152.9,444.1 153.4,450.4 153.9,457.1 154.4,463.6 154.9,469.4 155.4,473.8 155.9,476.3 156.1,476.7 156.4,476.0 156.9,471.2 157.4,463.4 157.9,454.7 158.4,447.2 158.7,443.7 158.9,442.7 159.4,439.7 159.9,437.2 160.4,435.2 160.6,434.4 160.9,433.4 161.4,431.7 161.9,430.2 162.4,429.2 162.8,428.9 162.9,428.9 163.4,429.7 163.9,430.9 164.3,431.7 164.4,431.8 164.9,432.4 165.4,432.9 165.9,433.3 166.4,433.5 166.5,433.5 166.9,433.4 167.4,432.9 167.9,432.6 168.0,432.6 168.4,432.8 168.9,433.6 169.3,434.4 169.4,434.7 169.9,437.8 170.4,443.1 170.9,449.8 171.4,457.3 171.9,464.7 172.4,471.2 172.9,476.2 173.4,478.7 173.5,478.9 173.9,478.0 174.4,474.1 174.9,467.9 175.4,460.6 175.9,453.2 176.4,446.7 176.7,443.7 176.9,442.2 177.4,438.3 177.9,434.8 178.4,432.3 178.5,431.7 178.9,430.7 179.4,429.3 179.9,428.4 180.4,428.0 180.4,428.0 180.9,428.3 181.4,429.1 181.9,430.2 182.4,431.5 182.8,432.6 182.9,432.8 183.4,434.0 183.9,435.3 184.4,437.0 184.9,439.2 185.0,440.0 185.4,443.6 185.9,451.9 186.4,459.3 186.5,460.4 186.9,462.6 187.4,465.1 187.9,467.1 188.4,468.7 188.7,469.6 188.9,470.0 189.4,470.9 189.6,471.5 189.9,472.1 190.4,473.9 190.9,475.8 191.4,477.3 191.9,478.0 192.4,473.8 192.9,463.7 193.4,450.9 193.9,439.1 194.3,432.6 194.4,431.6 194.9,426.0 195.4,421.8 195.7,420.6 195.9,420.6 196.4,420.7 196.9,421.1 197.4,421.7 197.9,422.3 198.0,422.4 198.4,422.9 198.9,423.9 199.4,425.2 199.8,427.0 199.9,427.3 200.4,437.6 200.9,455.3 201.4,470.8 201.7,475.2 201.9,475.9 202.4,477.2 202.9,478.0 203.4,478.7 203.9,479.4 204.4,480.5 204.4,480.7 204.9,482.0 205.4,484.0 205.9,486.4 206.4,489.3 206.9,492.7 207.2,495.6 207.4,496.8 207.9,505.0 208.4,516.4 208.9,528.3 209.4,538.3 209.9,543.7 210.0,544.1 210.4,541.0 210.9,528.5 211.4,511.0 211.9,493.7 212.4,474.6 212.9,452.7 213.4,434.4 213.7,427.0 213.9,425.4 214.4,420.7 214.9,417.3 215.4,414.9 215.6,414.1 215.9,413.1 216.4,411.7 216.9,410.6 217.4,409.6 217.4,409.4 217.9,408.5 218.4,407.6 218.9,406.6 219.3,405.7 219.4,405.5 219.9,403.9 220.4,401.9 220.9,399.8 221.4,397.9 221.9,396.5 222.4,396.1 222.4,396.1 222.9,396.6 223.4,398.8 223.9,401.8 223.9,402.0 224.4,407.9 224.9,418.4 225.4,429.6 225.7,436.3 225.9,437.8 226.4,444.9 226.9,450.5 227.2,452.0 227.4,451.7 227.9,446.0 228.4,435.7 228.9,424.7 229.4,416.8 229.4,415.9 229.9,412.9 230.4,409.5 230.9,406.8 231.4,405.1 231.7,404.8 231.9,404.9 232.4,405.3 232.9,406.1 233.4,407.1 233.9,408.1 234.1,408.5 234.4,409.0 234.9,409.8 235.4,410.7 235.9,411.7 236.4,412.8 236.5,413.1 236.9,414.1 237.4,415.8 237.8,417.8 237.9,418.2 238.4,424.3 238.9,433.8 239.4,444.3 239.9,453.5 240.4,458.9 240.6,459.4 240.9,459.0 241.4,456.7 241.9,452.8 242.0,451.1 242.4,443.9 242.9,428.7 243.0,427.2 243.4,424.8 243.9,422.4 244.4,421.0 244.8,420.6 244.9,420.6 245.4,421.0 245.9,421.9 246.4,422.9 246.7,423.5 246.9,423.9 247.4,425.0 247.9,425.9 248.1,426.1 248.4,426.0 248.9,425.3 249.3,425.0 249.4,425.0 249.9,425.6 250.4,426.9 250.7,428.0 250.9,428.3 251.4,430.7 251.9,433.1 252.4,435.4 252.9,437.5 253.3,438.3 253.4,438.3 253.9,436.3 254.4,434.0 254.4,433.9 254.9,433.9 255.4,434.2 255.9,434.6 255.9,434.6 256.4,436.3 256.9,439.6 257.0,440.6 257.4,441.8 257.9,443.5 258.4,444.8 258.5,445.0 258.9,445.4 259.4,445.9 259.9,446.1 260.0,446.1 260.4,445.5 260.9,443.2 261.4,440.6 261.9,439.4 262.4,440.1 262.9,441.6 263.4,443.3 263.7,444.3 263.9,444.6 264.4,445.9 264.9,447.1 265.4,447.9 265.6,448.0 265.9,447.6 266.4,445.8 266.9,443.6 267.4,442.4 267.4,442.4 267.9,442.7 268.4,443.7 268.9,444.9 269.3,445.7 269.4,445.9 269.9,447.1 270.4,448.4 270.9,449.6 271.4,450.2 271.5,450.2 271.9,449.7 272.4,448.2 272.9,446.2 273.4,444.7 273.7,444.3 273.9,444.3 274.4,445.0 274.9,446.2 275.4,447.5 275.6,448.0 275.9,448.7 276.4,450.3 276.9,451.7 277.4,452.4 277.4,452.4 277.9,451.8 278.4,450.0 278.9,447.9 279.4,446.4 279.6,446.1 279.9,446.3 280.4,447.4 280.9,448.8 281.1,449.4 281.4,449.9 281.9,451.0 282.4,452.1 282.9,452.9 283.3,453.1 283.4,453.1 283.9,452.0 284.4,449.7 284.9,447.5 285.3,446.5 285.4,446.5 285.9,446.9 286.4,447.9 286.9,449.1 287.0,449.4 287.4,450.2 287.9,451.8 288.4,453.2 288.9,453.9 288.9,453.9 289.4,453.1 289.9,450.9 290.4,448.5 290.9,446.8 291.1,446.5 291.4,446.6 291.9,447.2 292.4,448.2 292.9,449.2 293.0,449.4 293.4,450.2 293.9,451.4 294.4,452.4 294.8,452.8 294.9,452.8 295.4,451.6 295.9,449.3 296.4,446.8 296.9,445.2 297.0,445.0 297.4,445.2 297.9,446.1 298.4,447.4 298.9,448.6 298.9,448.7 299.4,449.8 299.9,451.1 300.4,451.7 300.4,451.7 300.9,449.3 301.4,446.0 301.5,445.7 301.9,445.9 302.4,446.6 302.9,447.7 303.0,448.0 303.4,450.0 303.9,454.1 304.4,456.8 304.4,456.9 304.9,456.5 305.4,455.2 305.9,453.4 306.4,451.4 306.7,450.2 306.9,449.4 307.4,446.7 307.9,444.4 308.1,443.9 308.4,444.0 308.9,444.9 309.4,446.3 309.9,447.6 310.0,448.0 310.4,448.7 310.9,449.9 311.4,450.9 311.9,451.3 312.4,450.1 312.9,447.6 313.4,445.3 313.7,444.6 313.9,444.7 314.4,445.7 314.9,447.4 315.2,448.7 315.4,449.4 315.9,452.5 316.4,456.1 316.7,458.3 316.9,459.7 317.4,463.9 317.9,467.3 318.1,468.0 318.4,467.8 318.9,465.7 319.4,462.2 319.9,458.1 320.0,456.9 320.4,452.6 320.9,445.5 321.1,443.5 321.4,442.7 321.9,441.5 322.4,440.6 322.9,440.0 323.0,439.8 323.4,439.3 323.9,438.6 324.4,438.0 324.9,437.7 325.2,437.6 325.4,437.6 325.9,438.1 326.4,438.8 326.9,439.5 327.4,439.8 327.4,439.8 327.9,439.8 328.4,439.6 328.9,439.5 329.4,439.3 329.9,439.1 330.4,439.1 330.4,439.1 330.9,440.7 331.4,445.0 331.9,450.3 332.2,453.9 332.4,455.1 332.9,461.0 333.4,467.6 333.9,473.6 334.4,477.3 334.6,478.0 334.9,477.4 335.4,472.4 335.9,464.4 336.4,455.9 336.9,449.3 337.4,444.2 337.9,439.5 338.4,435.9 338.7,434.4 338.9,434.1 339.4,433.0 339.9,432.1 340.4,431.7 340.6,431.7 340.9,431.7 341.4,431.9 341.9,432.2 342.4,432.5 342.4,432.6 342.9,433.2 343.4,434.4 343.9,435.6 344.3,436.3 344.4,436.4 344.9,436.9 345.4,437.3 345.9,437.8 346.1,438.1 346.4,438.5 346.9,439.6 347.4,441.0 347.6,441.9 347.9,443.5 348.4,449.4 348.9,457.6 349.4,466.6 349.9,474.6 350.4,480.2 350.7,481.7 350.9,481.5 351.4,478.3 351.9,471.7 352.4,463.3 352.9,454.7 353.4,447.4 353.5,445.6 353.9,442.0 354.4,436.6 354.9,432.1 355.4,429.8 355.4,429.8 355.9,429.2 356.4,428.7 356.9,428.4 357.4,428.1 357.9,428.0 358.1,428.0 358.4,428.0 358.9,428.4 359.4,429.0 359.9,429.9 360.4,430.7 360.9,431.6 360.9,431.7 361.4,432.2 361.9,432.8 362.4,433.5 362.8,434.4 362.9,434.7 363.4,437.5 363.9,441.8 364.3,445.6 364.4,446.4 364.9,452.3 365.4,459.4 365.9,466.9 366.4,473.6 366.9,478.5 367.4,480.7 367.4,480.7 367.9,478.9 368.4,473.4 368.9,465.6 369.4,457.2 369.9,449.5 370.2,445.6 370.4,443.9 370.9,438.6 371.4,433.2 371.9,428.5 372.4,425.1 372.9,423.4 373.0,423.3 373.4,423.4 373.9,423.5 374.4,423.7 374.9,423.9 375.4,424.2 375.4,424.3 375.9,424.9 376.4,426.1 376.9,427.4 377.4,428.5 377.6,428.9 377.9,429.2 378.4,429.5 378.9,429.8 379.4,430.2 379.8,430.7 379.9,430.8 380.4,432.4 380.9,435.1 381.3,438.1 381.4,438.6 381.9,445.1 382.4,454.8 382.9,465.4 383.4,474.6 383.9,480.1 384.1,480.7 384.4,480.0 384.9,475.5 385.4,468.4 385.9,460.0 386.4,451.9 386.9,445.6 387.4,440.4 387.9,435.0 388.4,430.0 388.9,426.0 389.4,423.7 389.6,423.3 389.9,423.4 390.4,423.6 390.9,423.9 391.4,424.4 391.9,425.0 392.0,425.2 392.4,425.7 392.9,426.7 393.4,428.1 393.9,429.6 394.3,430.7 394.4,431.0 394.9,432.2 395.4,433.5 395.9,435.2 396.1,436.3 396.4,437.9 396.9,443.9 397.4,452.1 397.9,461.3 398.4,470.0 398.9,476.6 399.4,479.7 399.4,479.8 399.9,478.0 400.4,472.1 400.9,463.8 401.4,454.9 401.9,447.6 402.0,445.6 402.4,442.5 402.9,437.6 403.4,432.9 403.9,428.8 404.4,425.8 404.9,424.3 405.0,424.3 405.4,424.3 405.9,424.3 406.4,424.3 406.9,424.3 407.2,424.3 407.4,424.3 407.9,425.2 408.4,427.0 408.9,429.5 409.1,430.7 409.4,433.3 409.9,441.5 410.4,451.4 410.9,459.5 410.9,460.4 411.4,465.1 411.9,470.2 412.4,474.0 412.8,475.2 412.9,475.1 413.4,472.9 413.9,468.4 414.4,463.1 414.6,460.4 414.9,458.3 415.4,453.4 415.9,448.3 416.1,445.6 416.4,442.8 416.9,435.9 417.4,428.9 417.9,423.5 418.3,421.5 418.4,421.5 418.9,421.6 419.4,422.0 419.9,422.5 420.4,423.2 420.9,423.9 421.1,424.3 421.4,424.6 421.9,425.7 422.4,427.0 422.9,428.5 423.0,428.9 423.4,430.4 423.9,432.7 424.4,435.5 424.9,438.7 425.4,442.4 425.7,445.6 425.9,446.6 426.4,453.7 426.9,462.7 427.4,470.7 427.9,475.0 428.0,475.2 428.4,474.2 428.9,470.8 429.4,465.8 429.9,460.2 430.4,455.0 430.4,454.8 430.9,450.1 431.4,444.8 431.9,439.7 432.2,436.3 432.4,435.1 432.9,430.2 433.4,425.6 433.9,422.8 434.1,422.4 434.4,422.5 434.9,423.1 435.4,424.2 435.9,425.4 436.4,426.7 436.5,427.0 436.9,428.0 437.4,429.4 437.9,431.1 438.4,433.0 438.7,434.4 438.9,435.1 439.4,437.6 439.9,440.5 440.4,444.0 440.6,445.6 440.9,448.7 441.4,456.2 441.9,464.8 442.4,472.1 442.9,476.0 443.0,476.1 443.4,475.0 443.9,470.8 444.4,464.9 444.9,458.6 445.2,454.8 445.4,453.0 445.9,447.0 446.4,441.0 446.9,435.9 447.0,434.4 447.4,432.2 447.9,428.9 448.4,426.3 448.9,425.2 448.9,425.2 449.4,425.2 449.9,425.4 450.4,425.7 450.9,426.1 451.4,426.7 451.7,427.0 451.9,427.4 452.4,429.7 452.9,433.1 453.4,436.9 453.5,438.1 453.9,440.7 454.4,445.2 454.9,450.0 455.4,454.6 455.4,454.8 455.9,460.0 456.4,465.8 456.9,470.3 457.2,471.5 457.4,471.4 457.9,469.4 458.4,465.6 458.9,460.8 459.4,455.7 459.4,454.8 459.9,450.0 460.4,443.0 460.9,437.0 460.9,436.3 461.4,432.5 461.9,428.3 462.4,425.2 462.8,424.3 462.9,424.3 463.4,424.9 463.9,426.1 464.4,427.5 464.9,428.6 465.0,428.9 465.4,429.3 465.9,429.8 466.4,430.2 466.9,430.7 467.4,431.5 467.4,431.7 467.9,434.8 468.4,441.7 468.9,449.6 469.3,454.8 469.4,455.8 469.9,461.2 470.4,466.7 470.9,471.9 471.4,476.3 471.9,479.4 472.4,480.7 472.4,480.7 472.9,479.2 473.4,474.5 473.9,467.9 474.4,460.8 474.8,454.8 474.9,454.4 475.4,447.7 475.9,440.4 476.4,434.7 476.7,432.6 476.9,431.9 477.4,430.1 477.9,428.7 478.4,427.6 478.9,427.1 479.1,427.0 479.4,427.1 479.9,427.3 480.4,427.7 480.9,428.3 481.3,428.9 481.4,429.0 481.9,430.3 482.3,432.4 482.3,434.4" fill="none" stroke="#0072BD" stroke-width="3.2" stroke-linejoin="round" stroke-linecap="round"/><rect x="242.8" y="412.2" width="85.2" height="133.2" rx="14" ry="15" fill="#ff0000" fill-opacity="0.16" stroke="#ff0000" stroke-width="2" stroke-dasharray="5.5 2.2"/><path d="M86.5,396.5H482.5V559.5H86.5ZM185.5,559.5v-4.5M185.5,396.5v4.5M284.5,559.5v-4.5M284.5,396.5v4.5M383.5,559.5v-4.5M383.5,396.5v4.5M86.5,478.0h4.5M482.5,478.0h-4.5" fill="none" stroke="#4a4a4a" stroke-width="1"/><text x="78.50" y="597.30">0</text><text x="167.30" y="597.30">20</text><text x="266.60" y="597.30">40</text><text x="365.00" y="597.30">60</text><text x="459.32" y="597.30">80</text><text transform="translate(62.28,412.00) scale(1,1.05)" clip-path="url(#one)">1</text><text x="34.20" y="492.98">0.5</text><text x="59.30" y="574.58">0</text></g>
<g><path d="M548.9,515.9 549.4,534.9 549.9,546.5 550.3,550.2 550.4,550.2 550.9,544.1 551.4,530.0 551.9,512.5 552.2,501.1 552.4,495.4 552.9,474.5 553.4,452.0 553.9,432.5 554.0,427.0 554.4,418.8 554.9,407.3 555.3,401.1 555.4,401.0 555.9,398.6 556.4,396.8 556.9,395.8 557.2,395.6 557.4,395.7 557.9,397.0 558.4,399.3 558.9,402.0 559.0,403.0 559.4,405.0 559.9,408.8 560.3,411.3 560.4,411.3 560.9,412.2 561.4,412.7 561.9,413.3 562.2,414.1 562.4,415.2 562.9,424.2 563.4,436.8 563.7,443.7 563.9,447.1 564.4,455.9 564.9,464.4 565.4,472.5 565.5,475.2 565.9,480.6 566.4,488.7 566.9,496.5 567.4,503.7 567.7,508.5 567.9,509.8 568.4,516.2 568.9,522.0 569.4,525.6 569.6,526.1 569.9,523.5 570.4,508.6 570.9,491.4 571.1,486.3 571.4,481.7 571.9,473.9 572.4,467.8 572.9,464.3 572.9,464.1 573.4,463.1 573.9,462.3 574.4,461.8 574.8,461.3 574.9,461.2 575.4,460.5 575.9,459.9 576.4,459.5 576.6,459.4 576.9,460.2 577.4,465.4 577.6,467.8 577.9,471.3 578.4,478.3 578.9,485.8 579.4,493.0 579.4,493.7 579.9,499.5 580.4,505.8 580.9,511.7 581.3,515.9 581.4,516.8 581.9,521.3 582.4,525.4 582.9,529.2 583.4,532.9 583.9,536.7 584.0,538.1 584.4,541.0 584.9,546.1 585.4,551.1 585.9,554.7 586.3,555.7 586.4,555.5 586.9,546.6 587.4,532.2 587.7,523.3 587.9,521.6 588.4,515.2 588.9,509.7 589.4,504.1 589.6,501.1 589.9,497.4 590.4,489.6 590.9,481.6 591.4,474.5 591.4,473.3 591.9,468.3 592.4,462.4 592.9,457.5 593.3,454.8 593.4,454.6 593.9,453.2 594.4,452.2 594.8,451.1 594.9,450.9 595.4,448.7 595.9,446.7 596.1,446.5 596.4,447.2 596.9,450.7 597.4,454.7 597.4,454.8 597.9,457.6 598.4,460.4 598.9,464.1 599.4,470.7 599.9,480.0 600.4,489.0 600.7,493.7 600.9,495.2 601.4,500.4 601.9,505.3 602.4,509.5 602.9,512.5 603.4,514.0 603.5,514.1 603.9,511.9 604.4,505.8 604.8,503.0 604.9,503.0 605.4,506.1 605.9,510.5 606.3,512.2 606.4,512.2 606.9,510.4 607.4,507.0 607.9,503.0 608.1,501.1 608.4,499.3 608.9,495.2 609.4,490.7 609.9,486.0 610.4,481.5 610.9,477.3 610.9,477.0 611.4,473.4 611.9,469.6 612.4,466.2 612.7,464.1 612.9,463.6 613.4,461.6 613.9,459.9 614.4,458.3 614.9,456.9 615.4,455.4 615.5,454.8 615.9,453.7 616.4,451.9 616.9,450.2 617.4,448.6 617.7,447.4 617.9,447.1 618.4,445.4 618.9,443.9 619.4,442.9 619.6,442.8 619.9,442.9 620.4,443.4 620.9,444.3 621.4,445.1 621.9,445.5 622.0,445.6 622.4,445.4 622.9,444.7 623.4,444.0 623.9,443.7 624.4,445.9 624.9,451.5 625.4,458.8 625.7,464.1 625.9,466.7 626.4,479.9 626.9,490.2 627.0,490.9 627.4,488.7 627.9,481.3 628.4,475.5 628.5,475.2 628.9,476.3 629.4,480.2 629.9,484.4 630.3,486.3 630.4,486.3 630.9,485.2 631.4,483.1 631.9,481.2 632.2,480.7 632.4,480.8 632.9,481.3 633.4,482.0 633.9,482.5 634.0,482.6 634.4,482.3 634.9,481.1 635.4,479.6 635.9,478.9 635.9,478.9 636.4,479.3 636.9,480.4 637.4,481.4 637.7,481.7 637.9,481.6 638.4,480.1 638.9,477.4 639.4,475.0 639.6,474.3 639.9,473.8 640.4,473.0 640.9,472.4 641.4,471.7 641.4,471.5 641.9,470.7 642.4,469.5 642.9,467.9 643.3,465.9 643.4,465.5 643.9,457.7 644.2,453.9 644.4,454.0 644.9,455.6 645.4,458.2 645.9,460.1 646.1,460.4 646.4,460.4 646.9,460.4 647.4,460.4 647.9,460.4 647.9,460.4 648.0,461.4 649.1,456.6 650.2,457.8 651.3,455.9 652.4,464.3 653.5,474.0 654.6,476.2 655.7,474.7 656.8,477.7 657.9,477.1 659.0,479.7 660.1,471.7 661.2,470.8 662.3,468.1 663.4,469.4 664.5,467.2 665.6,469.0 666.7,463.2 667.8,461.1 668.9,459.2 670.0,464.6 671.1,464.2 672.2,466.6 673.3,465.5 674.4,467.0 675.5,465.8 676.6,468.8 677.7,468.8 678.8,473.1 679.9,473.0 681.0,474.3 682.1,469.2 683.2,468.3 684.3,466.6 685.4,468.1 686.5,465.6 687.6,465.7 688.7,463.5 689.8,467.3 690.9,468.4 692.0,469.3 693.1,462.6 694.2,461.2 695.3,457.4 696.4,463.0 697.5,464.5 698.6,469.6 699.7,470.4 700.8,473.4 701.9,471.9 703.0,474.6 704.1,474.4 705.2,478.9 706.3,478.9 707.4,478.2 708.5,473.3 709.6,474.7 710.7,473.7 711.8,476.5 712.9,473.0 714.0,472.3 715.1,466.3 716.2,462.7 717.3,461.5 718.4,465.1 719.5,465.3 720.6,468.5 721.7,467.0 722.8,468.2 723.9,465.1 725.0,465.0 726.1,463.1 727.2,471.0 728.3,473.6 729.4,479.8 730.5,479.5 731.6,481.2 732.7,477.8 733.8,480.2 734.9,479.5 736.0,481.2 737.1,462.1 738.2,457.7 739.3,456.3 740.4,458.7 741.5,458.5 742.6,465.1 743.7,470.3 744.8,486.3 745.4,489.7 745.5,490.0 745.9,490.0 746.4,490.0 746.5,490.0 746.9,489.4 747.4,487.2 747.9,484.1 748.4,480.8 748.7,478.9 748.9,478.2 749.4,475.7 749.9,473.3 750.4,470.9 750.9,468.6 751.4,466.4 751.5,465.9 751.9,464.3 752.4,462.0 752.9,460.2 753.3,459.4 753.4,459.4 753.9,461.0 754.4,464.6 754.9,468.9 755.2,471.5 755.4,472.7 755.9,476.4 756.4,480.3 756.9,484.3 757.4,488.5 757.9,492.7 758.0,493.7 758.4,497.2 758.9,502.0 759.4,507.0 759.9,511.9 760.4,516.5 760.7,519.6 760.9,520.5 761.4,524.8 761.9,528.8 762.4,531.3 762.6,531.7 762.9,530.6 763.4,523.9 763.9,513.7 764.4,502.9 764.4,501.1 764.9,492.3 765.4,479.8 765.9,468.0 766.3,460.4 766.4,459.7 766.9,453.8 767.4,449.0 767.9,445.3 768.1,443.7 768.4,442.8 768.9,441.0 769.4,439.6 769.9,438.5 770.0,438.1 770.4,437.5 770.9,436.7 771.4,436.1 771.9,435.4 772.4,434.5 772.9,433.5 773.4,432.8 773.7,432.6 773.9,432.8 774.4,436.5 774.9,442.7 775.4,449.0 775.6,451.1 775.9,453.6 776.4,457.5 776.9,461.1 777.4,464.7 777.9,468.8 778.3,473.3 778.4,473.5 778.9,479.8 779.4,487.3 779.9,495.2 780.4,502.3 780.6,504.8 780.9,508.4 781.4,514.8 781.9,520.4 782.4,523.8 782.6,524.3 782.9,520.6 783.4,501.0 783.9,483.2 783.9,482.6 784.4,476.5 784.9,471.7 785.4,467.6 785.7,464.1 785.9,462.9 786.4,457.6 786.9,452.1 787.4,447.0 787.9,442.7 788.0,441.9 788.4,439.3 788.9,436.3 789.4,433.7 789.9,431.3 790.4,429.0 790.4,428.9 790.9,426.4 791.4,423.9 791.9,422.0 792.2,421.5 792.4,421.6 792.9,423.9 793.4,428.1 793.9,432.6 794.1,434.4 794.4,436.5 794.9,440.3 795.4,444.3 795.9,448.6 795.9,449.3 796.4,453.6 796.9,459.3 797.4,465.1 797.8,469.6 797.9,470.4 798.4,476.1 798.9,482.1 799.4,487.3 799.9,490.7 800.2,491.5 800.4,490.6 800.9,480.8 801.4,469.5 801.5,467.8 801.9,464.6 802.4,461.3 802.8,458.5 802.9,458.0 803.4,453.5 803.9,449.3 804.3,447.4 804.4,447.2 804.9,446.5 805.4,445.9 805.9,445.6 806.1,445.6 806.4,445.6 806.9,445.6 807.4,445.6 807.9,445.6 808.4,445.6 808.9,445.6 808.9,445.6 809.4,445.8 809.9,446.5 810.4,447.2 810.7,447.4 810.9,447.2 811.4,442.8 811.9,437.8 812.0,437.2 812.4,437.2 812.9,437.4 813.4,437.6 813.9,437.8 814.4,438.1 814.4,438.1 814.9,438.4 815.4,438.8 815.9,439.4 816.4,440.1 816.9,441.0 817.2,441.9 817.4,442.2 817.9,444.5 818.4,448.1 818.7,451.1 818.9,452.9 819.4,462.8 819.9,470.9 820.0,471.5 820.4,470.5 820.9,466.9 821.4,462.2 821.9,458.5 822.4,456.3 822.9,454.4 823.4,452.6 823.7,451.1 823.9,450.4 824.4,447.1 824.9,443.7 825.4,441.3 825.6,440.9 825.9,440.7 826.4,440.4 826.9,440.2 827.4,440.1 827.9,440.0 828.0,440.0 828.4,440.2 828.9,440.9 829.4,441.6 829.8,441.9 829.9,441.8 830.4,440.7 830.9,438.6 831.4,436.7 831.7,436.3 831.9,436.5 832.4,438.7 832.9,442.3 833.4,446.2 833.5,447.4 833.9,449.6 834.4,453.0 834.9,456.7 835.4,460.6 835.7,464.1 835.9,465.2 836.4,471.1 836.9,477.8 837.4,483.9 837.6,486.3 837.9,488.7 838.4,493.4 838.9,497.3 839.4,499.2 839.4,499.3 839.9,493.7 840.4,479.0 840.9,468.2 840.9,467.8 841.4,466.7 841.9,466.0 842.4,465.5 842.9,464.8 843.1,464.1 843.4,463.1 843.9,458.2 844.4,452.2 844.9,447.9 845.0,447.4 845.4,446.8 845.9,446.0 846.4,445.4 846.9,445.0 847.4,444.7 847.8,444.6 847.9,444.6 848.4,445.0 848.9,445.8 849.4,446.6 849.9,447.3 850.2,447.4 850.4,447.3 850.9,445.5 851.4,442.9 851.9,441.1 852.0,440.9 852.4,441.2 852.9,442.8 853.4,445.4 853.9,448.5 854.3,451.1 854.4,451.7 854.9,456.0 855.4,461.3 855.9,466.8 856.1,469.6 856.4,472.2 856.9,477.8 857.4,483.6 857.9,489.1 858.3,493.7 858.4,493.9 858.9,498.8 859.4,503.1 859.8,504.8 859.9,504.8 860.4,498.3 860.9,485.6 861.4,473.6 861.7,469.6 861.9,468.6 862.4,466.4 862.9,464.8 863.4,463.5 863.9,462.2 864.4,460.7 864.4,460.4 864.9,458.7 865.4,456.5 865.9,454.4 866.3,453.0 866.4,452.8 866.9,451.4 867.4,450.2 867.9,449.4 868.1,449.3 868.4,449.3 868.9,449.5 869.4,449.9 869.9,450.3 870.4,450.7 870.9,451.1 870.9,451.1 871.4,451.3 871.9,451.5 872.4,451.7 872.9,451.9 873.4,452.0 873.7,452.0 873.9,452.0 874.4,451.7 874.9,451.0 875.4,450.3 875.9,449.6 876.4,449.3 876.5,449.3 876.9,449.5 877.4,450.3 877.9,451.6 878.3,453.0 878.4,453.0 878.9,454.9 879.4,457.4 879.9,460.3 880.4,463.3 880.9,466.3 881.1,467.8 881.4,469.1 881.9,471.8 882.4,474.6 882.9,477.3 883.4,479.9 883.5,480.7 883.9,482.6 884.4,485.6 884.9,488.4 885.4,490.4 885.7,490.9 885.9,490.7 886.4,484.3 886.9,473.9 887.4,465.6 887.6,464.1 887.9,463.8 888.4,463.3 888.9,463.1 889.4,462.8 889.9,462.6 890.4,462.2 890.4,462.2 890.9,461.7 891.4,460.9 891.9,460.1 892.4,459.2 892.8,458.5 892.9,458.4 893.4,457.5 893.9,456.5 894.4,455.9 894.6,455.7 894.9,455.8 895.4,456.0 895.9,456.3 896.4,456.5 896.9,456.7 897.4,455.8 897.9,453.9 898.4,451.8 898.9,450.4 899.1,450.2 899.4,450.4 899.9,451.8 900.4,454.2 900.9,456.9 901.4,459.7 901.5,460.4 901.9,462.3 902.4,465.1 902.9,468.1 903.4,471.2 903.9,474.4 904.3,477.0 904.4,477.7 904.9,481.7 905.4,486.3 905.9,490.8 906.4,494.3 906.9,496.3 907.0,496.5 907.4,495.2 907.9,489.0 908.4,480.1 908.9,471.1 909.4,464.8 909.4,464.1 909.9,461.6 910.4,458.9 910.9,456.7 911.4,455.3 911.7,454.8 911.9,454.7 912.4,454.4 912.9,454.2 913.4,454.1 913.9,453.9 913.9,453.9 914.4,453.7 914.9,453.4 915.4,453.2 915.9,453.0 916.3,453.0 916.4,453.0 916.9,453.0 917.4,453.0 917.9,453.0 918.4,453.0 918.9,453.0 919.1,453.0 919.4,452.9 919.9,452.4 920.4,451.7 920.9,451.0 921.4,450.4 921.9,450.2 922.4,450.9 922.9,452.7 923.4,455.0 923.7,456.7 923.9,457.4 924.4,460.1 924.9,463.4 925.4,466.9 925.9,470.6 926.4,474.3 926.5,475.2 926.9,478.1 927.4,482.8 927.9,487.6 928.4,491.8 928.9,494.7 929.3,495.6 929.4,495.4 929.9,490.5 930.4,481.9 930.9,473.9 931.1,471.5 931.4,470.1 931.9,467.5 932.4,465.5 932.9,464.2 933.0,464.1 933.4,463.6 933.9,463.2 934.4,462.9 934.9,462.6 935.4,462.2 935.4,462.2 935.9,461.7 936.4,461.0 936.9,460.3 937.4,459.7 937.6,459.4 937.9,459.2 938.4,458.6 938.9,458.1 939.4,457.7 939.8,457.6 939.9,457.6 940.4,457.7 940.9,457.9 941.4,458.3 941.9,458.9 942.2,459.4" fill="none" stroke="#0072BD" stroke-width="3.2" stroke-linejoin="round" stroke-linecap="round"/><rect x="642.4" y="411.3" width="110.9" height="132.4" rx="14" ry="15" fill="#ff0000" fill-opacity="0.16" stroke="#ff0000" stroke-width="2" stroke-dasharray="5.5 2.2"/><path d="M548.5,395.5H944.5V559.5H548.5ZM647.5,559.5v-4.5M647.5,395.5v4.5M746.5,559.5v-4.5M746.5,395.5v4.5M845.5,559.5v-4.5M845.5,395.5v4.5M548.5,477.5h4.5M944.5,477.5h-4.5" fill="none" stroke="#4a4a4a" stroke-width="1"/><text x="541.40" y="597.30">0</text><text x="630.40" y="597.30">20</text><text x="729.60" y="597.30">40</text><text x="827.60" y="597.30">60</text><text x="923.03" y="597.30">80</text><text transform="translate(524.98,412.30) scale(1,1.05)" clip-path="url(#one)">1</text><text x="495.80" y="492.98">0.5</text><text x="520.40" y="575.67">0</text></g>
<g><path d="M1010.9,464.1 1011.4,475.8 1011.9,485.9 1012.3,493.7 1012.4,494.0 1012.9,501.2 1013.4,506.6 1013.6,507.6 1013.9,506.4 1014.4,497.5 1014.9,484.5 1014.9,482.6 1015.4,468.1 1015.9,446.5 1016.4,428.4 1016.4,427.0 1016.9,416.8 1017.4,407.2 1017.9,401.3 1017.9,401.1 1018.4,398.6 1018.9,396.9 1019.2,396.5 1019.4,396.5 1019.9,397.2 1020.4,398.3 1020.9,399.7 1021.0,400.2 1021.4,401.0 1021.9,402.3 1022.4,404.1 1022.9,406.5 1022.9,406.7 1023.4,411.2 1023.9,419.4 1024.4,429.0 1024.7,436.3 1024.9,438.3 1025.4,448.6 1025.9,459.6 1026.4,469.4 1026.6,473.3 1026.9,477.3 1027.4,485.0 1027.9,491.4 1028.4,494.5 1028.4,494.6 1028.9,491.5 1029.4,481.8 1029.9,469.6 1030.3,460.4 1030.4,459.4 1030.9,450.9 1031.4,442.6 1031.9,435.6 1032.1,432.6 1032.4,430.9 1032.9,427.2 1033.4,424.2 1033.9,422.0 1034.0,421.5 1034.4,420.4 1034.9,419.1 1035.4,418.1 1035.9,417.8 1035.9,417.8 1036.4,418.2 1036.9,419.2 1037.4,420.5 1037.7,421.5 1037.9,421.9 1038.4,423.6 1038.9,426.1 1039.0,427.0 1039.4,431.2 1039.9,441.4 1040.4,453.5 1040.9,464.1 1040.9,464.1 1041.4,472.7 1041.9,480.9 1042.4,488.0 1042.7,491.9 1042.9,493.3 1043.4,497.9 1043.9,501.3 1044.2,502.0 1044.4,501.6 1044.9,496.0 1045.4,486.5 1045.9,476.5 1046.0,473.3 1046.4,468.1 1046.9,459.1 1047.4,450.6 1047.9,444.1 1047.9,443.7 1048.4,439.3 1048.9,435.1 1049.4,432.0 1049.7,430.7 1049.9,430.5 1050.4,429.8 1050.9,429.2 1051.4,428.9 1051.6,428.9 1051.9,429.0 1052.4,429.9 1052.9,431.3 1053.4,432.4 1053.4,432.6 1053.9,433.2 1054.4,433.8 1054.9,434.4 1055.4,435.0 1055.9,435.7 1056.2,436.3 1056.4,436.5 1056.9,437.6 1057.4,438.8 1057.9,440.0 1058.4,441.2 1058.6,441.9 1058.9,442.3 1059.4,443.1 1059.9,443.9 1060.4,445.1 1060.5,445.6 1060.9,448.0 1061.4,454.1 1061.9,461.9 1062.4,469.3 1062.7,473.3 1062.9,474.7 1063.4,479.1 1063.9,483.1 1064.4,486.6 1064.9,489.6 1064.9,490.0 1065.4,492.3 1065.9,494.9 1066.4,496.8 1066.8,497.4 1066.9,497.3 1067.4,493.4 1067.9,485.6 1068.4,477.2 1068.6,473.3 1068.9,470.6 1069.4,464.1 1069.9,458.0 1070.4,453.7 1070.5,453.0 1070.9,451.4 1071.4,449.7 1071.9,448.4 1072.3,447.4 1072.4,447.4 1072.9,446.3 1073.4,445.3 1073.9,444.4 1074.4,443.9 1074.7,443.7 1074.9,443.7 1075.4,443.7 1075.9,443.7 1076.4,443.7 1076.9,443.7 1077.1,443.7 1077.4,443.9 1077.9,445.3 1078.4,447.3 1078.9,449.0 1079.0,449.3 1079.4,449.7 1079.9,450.1 1080.4,450.4 1080.9,450.8 1081.2,451.1 1081.4,451.3 1081.9,451.9 1082.4,452.7 1082.9,453.5 1083.1,453.9 1083.4,454.5 1083.9,455.8 1084.4,457.1 1084.9,458.2 1085.3,458.5 1085.4,458.5 1085.9,458.3 1086.4,457.8 1086.9,457.2 1087.4,456.8 1087.7,456.7 1087.9,456.7 1088.4,457.3 1088.9,458.4 1089.4,459.8 1089.6,460.4 1089.9,461.4 1090.4,464.0 1090.9,467.2 1091.4,470.7 1091.9,474.1 1092.3,477.0 1092.4,477.1 1092.9,480.2 1093.4,483.5 1093.9,486.7 1094.4,489.2 1094.9,490.7 1095.1,490.9 1095.4,490.3 1095.9,485.9 1096.4,479.6 1096.9,474.1 1097.0,473.3 1097.4,471.0 1097.9,468.3 1098.4,465.9 1098.9,463.7 1099.4,461.8 1099.7,460.4 1099.9,460.0 1100.4,458.1 1100.9,456.5 1101.4,455.2 1101.6,454.8 1101.9,454.5 1102.4,453.9 1102.9,453.4 1103.4,453.1 1103.8,453.0 1103.9,453.0 1104.4,453.2 1104.9,453.6 1105.4,454.1 1105.9,454.6 1106.2,454.8 1106.4,454.9 1106.9,455.0 1107.4,455.2 1107.9,455.3 1108.4,455.4 1108.9,455.7 1109.0,455.7 1109.4,456.2 1109.9,457.5 1110.4,458.8 1110.9,459.4 1111.4,459.4 1111.9,459.2 1112.4,458.9 1112.9,458.7 1113.4,458.5 1113.6,458.5 1113.9,458.6 1114.4,459.5 1114.9,460.6 1115.4,461.3 1115.5,461.3 1115.9,461.3 1116.4,461.3 1116.9,461.3 1117.4,461.3 1117.9,461.3 1118.3,461.3 1118.4,461.3 1118.9,461.6 1119.4,462.3 1119.9,463.1 1120.4,464.0 1120.9,464.8 1121.0,465.0 1121.4,465.4 1121.9,466.0 1122.4,466.7 1122.9,467.3 1123.4,467.6 1123.8,467.8 1123.9,467.8 1124.4,467.5 1124.9,466.9 1125.4,466.2 1125.9,465.5 1126.4,465.1 1126.6,465.0 1126.9,465.0 1127.4,465.2 1127.9,465.4 1128.4,465.6 1128.9,465.8 1129.4,465.9 1129.4,465.9 1129.9,465.3 1130.4,463.9 1130.9,462.6 1131.2,462.2 1131.4,462.2 1131.9,462.5 1132.4,462.9 1132.9,463.4 1133.4,463.8 1133.9,464.1 1134.0,464.1 1134.4,464.0 1134.9,463.5 1135.4,462.7 1135.9,462.0 1136.4,461.5 1136.8,461.3 1136.9,461.3 1137.4,461.5 1137.9,461.9 1138.4,462.4 1138.9,462.9 1139.4,463.1 1139.6,463.1 1139.9,463.0 1140.4,462.4 1140.9,461.7 1141.4,461.3 1141.4,461.3 1141.9,461.5 1142.4,462.0 1142.9,462.8 1143.4,463.5 1143.9,464.0 1144.2,464.1 1144.4,464.1 1144.9,463.8 1145.4,463.4 1145.9,462.9 1146.4,462.5 1146.9,462.2 1147.0,462.2 1147.4,462.4 1147.9,463.1 1148.4,464.1 1148.9,465.0 1149.4,465.7 1149.7,465.9 1149.9,465.9 1150.4,465.6 1150.9,464.9 1151.4,464.2 1151.9,463.6 1152.4,463.2 1152.5,463.1 1152.9,463.2 1153.4,463.5 1153.9,464.0 1154.4,464.5 1154.9,464.9 1155.3,465.0 1155.4,465.0 1155.9,464.8 1156.4,464.4 1156.9,463.9 1157.4,463.5 1157.9,463.2 1158.1,463.1 1158.4,463.2 1158.9,463.3 1159.4,463.6 1159.9,463.8 1160.4,464.0 1160.9,464.1 1161.4,463.9 1161.9,463.5 1162.4,463.0 1162.9,462.6 1163.4,462.3 1163.6,462.2 1163.9,462.3 1164.4,462.5 1164.9,463.0 1165.4,463.5 1165.9,463.9 1166.4,464.1 1166.4,464.1 1166.9,463.9 1167.4,463.3 1167.9,462.6 1168.4,461.9 1168.9,461.4 1169.2,461.3 1169.4,461.3 1169.9,461.6 1170.4,462.0 1170.9,462.5 1171.4,462.9 1171.9,463.1 1172.0,463.1 1172.4,463.1 1172.9,462.8 1173.4,462.4 1173.9,461.9 1174.4,461.5 1174.7,461.3 1174.9,461.3 1175.4,461.0 1175.9,460.8 1176.4,460.7 1176.9,460.5 1177.4,460.4 1177.9,460.4 1177.9,460.4 1178.4,460.8 1178.9,462.1 1179.4,463.7 1179.9,465.1 1180.3,465.9 1180.4,466.0 1180.9,466.5 1181.4,467.0 1181.9,467.3 1182.4,467.6 1182.9,467.8 1183.1,467.8 1183.4,467.8 1183.9,467.8 1184.4,467.8 1184.9,467.8 1185.4,467.8 1185.9,467.8 1186.4,467.8 1186.8,467.8 1186.9,467.8 1187.4,466.8 1187.9,465.1 1188.4,463.6 1188.6,463.1 1188.9,463.0 1189.4,462.8 1189.9,462.7 1190.4,462.6 1190.9,462.4 1191.4,462.2 1191.4,462.2 1191.9,461.9 1192.4,461.3 1192.9,460.6 1193.4,460.0 1193.9,459.5 1194.2,459.4 1194.4,459.4 1194.9,459.4 1195.4,459.4 1195.9,459.4 1196.4,459.4 1196.9,459.4 1197.0,459.4 1197.4,459.3 1197.9,459.0 1198.4,458.5 1198.9,458.0 1199.4,457.7 1199.7,457.6 1199.9,457.6 1200.4,457.7 1200.9,457.9 1201.4,458.2 1201.9,458.4 1202.4,458.5 1202.5,458.5 1202.9,458.3 1203.4,457.3 1203.9,456.3 1204.4,455.7 1204.4,455.7 1204.9,456.3 1205.4,457.7 1205.9,459.3 1206.2,460.4 1206.4,460.7 1206.9,462.3 1207.4,463.8 1207.9,464.8 1208.1,465.0 1208.4,465.0 1208.9,465.0 1209.4,465.0 1209.9,465.0 1210.4,465.0 1210.9,465.0 1211.4,465.0 1211.6,465.0 1211.9,464.9 1212.4,464.2 1212.9,463.0 1213.4,461.6 1213.9,460.4 1214.4,459.5 1214.4,459.4 1214.9,459.0 1215.4,458.7 1215.9,458.4 1216.4,458.1 1216.9,457.8 1217.2,457.6 1217.4,457.5 1217.9,457.1 1218.4,456.6 1218.9,456.2 1219.4,455.9 1219.9,455.7 1220.0,455.7 1220.4,455.9 1220.9,456.4 1221.4,457.1 1221.9,457.8 1222.4,458.4 1222.7,458.5 1222.9,458.5 1223.4,458.2 1223.9,457.5 1224.4,456.8 1224.9,456.1 1225.4,455.8 1225.5,455.7 1225.9,455.9 1226.4,456.8 1226.9,458.0 1227.4,459.4 1227.7,460.4 1227.9,460.6 1228.4,461.9 1228.9,463.4 1229.4,464.7 1229.9,465.6 1230.1,465.9 1230.4,466.0 1230.9,466.3 1231.4,466.5 1231.9,466.7 1232.4,466.8 1232.9,466.9 1232.9,466.9 1233.4,465.9 1233.9,463.2 1234.4,460.2 1234.8,458.5 1234.9,458.4 1235.4,457.3 1235.9,456.4 1236.4,455.8 1236.6,455.7 1236.9,455.8 1237.4,456.1 1237.9,456.5 1238.4,457.0 1238.9,457.4 1239.4,457.6 1239.4,457.6 1239.9,457.5 1240.4,457.3 1240.9,457.1 1241.4,456.9 1241.9,456.7 1242.2,456.7 1242.4,456.8 1242.9,458.3 1243.4,460.7 1243.9,462.7 1244.0,463.1 1244.4,463.6 1244.9,464.4 1245.4,465.0 1245.9,465.5 1246.4,465.8 1246.8,465.9 1246.9,465.9 1247.4,465.8 1247.9,465.6 1248.4,465.3 1248.9,464.9 1249.4,464.3 1249.6,464.1 1249.9,463.6 1250.4,462.1 1250.9,460.2 1251.4,458.7 1251.4,458.5 1251.9,457.8 1252.4,456.9 1252.9,456.2 1253.4,455.8 1253.7,455.7 1253.9,455.8 1254.4,456.1 1254.9,456.6 1255.4,457.2 1255.9,457.5 1256.1,457.6 1256.4,457.5 1256.9,457.2 1257.4,456.8 1257.9,456.3 1258.4,455.9 1258.9,455.7 1259.4,456.2 1259.9,457.3 1260.4,458.6 1260.9,459.9 1261.1,460.4 1261.4,460.9 1261.9,461.8 1262.4,462.6 1262.9,463.3 1263.4,463.9 1263.5,464.1 1263.9,464.4 1264.4,464.9 1264.9,465.3 1265.4,465.6 1265.9,465.9 1266.3,465.9 1266.4,465.9 1266.9,465.7 1267.4,465.2 1267.9,464.5 1268.1,464.1 1268.4,463.5 1268.9,461.7 1269.4,459.5 1269.9,457.8 1270.0,457.6 1270.4,457.0 1270.9,456.3 1271.4,455.6 1271.9,455.2 1272.4,454.9 1272.7,454.8 1272.9,454.8 1273.4,454.8 1273.9,454.8 1274.4,454.8 1274.9,454.8 1275.1,454.8 1275.4,455.0 1275.9,456.6 1276.4,459.2 1276.9,461.6 1277.4,463.1 1277.4,463.1 1277.9,463.7 1278.4,464.2 1278.9,464.5 1279.4,464.8 1279.9,465.0 1280.1,465.0 1280.4,465.0 1280.9,464.9 1281.4,464.8 1281.9,464.6 1282.4,464.4 1282.9,464.1 1282.9,464.1 1283.4,462.8 1283.9,459.9 1284.4,457.0 1284.8,455.7 1284.9,455.7 1285.4,455.4 1285.9,455.2 1286.4,455.0 1286.9,454.9 1287.4,454.8 1287.6,454.8 1287.9,454.8 1288.4,454.9 1288.9,455.0 1289.4,455.2 1289.9,455.5 1290.3,455.7 1290.4,455.8 1290.9,456.4 1291.4,457.6 1291.9,459.0 1292.4,460.4 1292.9,461.7 1293.1,462.2 1293.4,462.6 1293.9,463.5 1294.4,464.4 1294.9,465.2 1295.4,465.7 1295.9,465.9 1295.9,465.9 1296.4,465.9 1296.9,465.9 1297.4,465.9 1297.9,465.9 1298.1,465.9 1298.4,465.7 1298.9,464.2 1299.4,461.9 1299.9,459.3 1300.4,457.2 1300.5,456.7 1300.9,455.8 1301.4,454.4 1301.9,453.4 1302.4,453.0 1302.4,453.0 1302.9,453.0 1303.4,453.2 1303.9,453.4 1304.4,453.7 1304.8,453.9 1304.9,453.9 1305.4,454.1 1305.9,454.2 1306.4,454.4 1306.9,454.7 1307.0,454.8 1307.4,455.5 1307.9,457.6 1308.4,460.1 1308.9,462.2 1309.4,463.7 1309.9,465.1 1310.4,466.3 1310.9,467.6 1311.4,468.9 1311.6,469.6 1311.9,470.2 1312.4,471.5 1312.9,472.7 1313.4,474.2 1313.9,476.1 1314.0,477.0 1314.4,479.4 1314.9,485.4 1315.4,493.0 1315.9,500.6 1315.9,501.1 1316.4,509.1 1316.9,518.9 1317.4,526.6 1317.7,528.9 1317.9,528.8 1318.4,526.5 1318.9,521.8 1319.0,519.6 1319.4,512.0 1319.9,490.8 1320.3,473.3 1320.4,472.9 1320.9,461.7 1321.4,451.7 1321.9,443.4 1322.4,437.3 1322.7,434.4 1322.9,433.9 1323.4,431.7 1323.9,430.0 1324.4,429.0 1324.6,428.9 1324.9,429.4 1325.4,432.7 1325.9,438.1 1326.4,444.4 1326.4,445.6 1326.9,452.1 1327.4,463.2 1327.9,476.2 1328.4,489.8 1328.9,502.5 1329.2,510.4 1329.4,512.9 1329.9,523.6 1330.4,534.1 1330.9,542.4 1331.4,546.4 1331.4,546.5 1331.9,545.3 1332.4,541.1 1332.9,535.4 1332.9,534.4 1333.4,526.4 1333.9,511.8 1334.4,495.3 1334.8,482.6 1334.9,480.6 1335.4,467.6 1335.9,454.9 1336.4,442.8 1336.6,436.3 1336.9,430.9 1337.4,417.9 1337.9,407.6 1338.1,404.8 1338.4,403.4 1338.9,400.9 1339.4,399.2 1339.9,398.4 1340.0,398.3 1340.4,401.8 1340.9,414.0 1341.4,430.6 1341.8,445.6 1341.9,446.7 1342.4,465.9 1342.9,488.8 1343.4,509.3 1343.9,521.3 1344.0,522.4 1344.4,519.5 1344.9,506.1 1345.4,488.5 1345.9,474.1 1345.9,473.3 1346.4,464.0 1346.9,455.1 1347.4,451.1 1347.4,451.1 1347.9,452.3 1348.4,454.3 1348.7,454.8 1348.9,454.5 1349.4,450.8 1349.9,444.7 1350.4,438.2 1350.5,436.3 1350.9,432.6 1351.4,426.9 1351.9,421.0 1352.4,415.1 1352.9,409.3 1352.9,408.5 1353.4,402.9 1353.9,396.5 1354.2,394.8 1354.4,394.9 1354.9,399.6 1355.4,407.5 1355.9,415.3 1356.1,417.8 1356.4,420.4 1356.9,425.1 1357.4,428.9 1357.9,430.7 1357.9,430.7 1358.4,430.6 1358.9,430.3 1359.4,429.9 1359.8,429.8 1359.9,429.8 1360.4,430.4 1360.9,431.8 1361.1,432.6 1361.4,435.9 1361.9,449.2 1362.4,463.7 1362.6,467.8 1362.9,472.4 1363.4,479.6 1363.9,484.0 1364.0,484.4 1364.4,482.3 1364.9,472.5 1365.4,458.9 1365.9,446.3 1365.9,445.6 1366.4,435.0 1366.9,422.9 1367.4,413.5 1367.7,410.4 1367.9,410.2 1368.4,409.6 1368.9,409.3 1369.4,409.0 1369.9,408.6 1370.0,408.5 1370.4,408.0 1370.9,407.2 1371.4,406.7 1371.4,406.7 1371.9,409.6 1372.4,418.1 1372.7,425.2 1372.9,427.0 1373.4,436.2 1373.9,446.1 1374.4,455.9 1374.6,460.4 1374.9,465.2 1375.4,474.8 1375.9,483.9 1376.4,490.9 1376.4,491.9 1376.9,495.9 1377.4,499.9 1377.7,501.1 1377.9,500.8 1378.4,494.0 1378.9,481.8 1379.4,469.0 1379.6,464.1 1379.9,459.5 1380.4,450.4 1380.9,441.8 1381.4,434.2 1381.9,428.3 1382.0,427.0 1382.4,424.2 1382.9,420.5 1383.4,417.3 1383.9,415.0 1384.4,414.1 1384.4,414.1 1384.9,414.3 1385.4,414.9 1385.9,415.8 1386.4,417.0 1386.6,417.8 1386.9,418.6 1387.4,421.3 1387.9,425.2 1388.4,429.6 1388.5,430.7 1388.9,434.7 1389.4,441.4 1389.9,448.5 1390.3,454.8 1390.4,455.0 1390.9,461.1 1391.4,467.2 1391.9,472.8 1392.4,477.4 1392.6,478.9 1392.9,480.9 1393.4,484.3 1393.9,486.9 1394.4,488.1 1394.4,488.1 1394.9,486.3 1395.4,481.0 1395.9,474.4 1396.3,469.6 1396.4,468.7 1396.9,463.5 1397.4,458.2 1397.9,453.1 1398.4,448.3 1398.7,445.6 1398.9,444.0 1399.4,439.6 1399.9,435.6 1400.4,433.0 1400.5,432.6 1400.9,432.1 1401.4,431.6 1401.9,431.1 1402.4,430.9 1402.9,430.7 1402.9,430.7 1403.4,430.9 1403.9,431.3 1404.4,432.0 1404.9,432.9 1405.4,434.0 1405.4,434.4" fill="none" stroke="#0072BD" stroke-width="3.2" stroke-linejoin="round" stroke-linecap="round"/><rect x="1105.3" y="411.3" width="211.3" height="132.0" rx="14" ry="15" fill="#ff0000" fill-opacity="0.16" stroke="#ff0000" stroke-width="2" stroke-dasharray="5.5 2.2"/><path d="M1010.5,394.5H1405.5V559.5H1010.5ZM1109.2,559.5v-4.5M1109.2,394.5v4.5M1208.0,559.5v-4.5M1208.0,394.5v4.5M1306.8,559.5v-4.5M1306.8,394.5v4.5M1010.5,477.0h4.5M1405.5,477.0h-4.5" fill="none" stroke="#4a4a4a" stroke-width="1"/><text x="1002.30" y="597.30">0</text><text x="1091.40" y="597.30">20</text><text x="1190.30" y="597.30">40</text><text x="1288.50" y="597.30">60</text><text x="1383.62" y="597.30">80</text><text transform="translate(985.17,412.30) scale(1,1.05)" clip-path="url(#one)">1</text><text x="956.40" y="493.48">0.5</text><text x="981.50" y="575.17">0</text></g>
<g><path d="M1471.9,415.8 1472.4,410.8 1472.8,408.4 1472.9,408.2 1473.4,407.2 1473.9,406.6 1474.1,406.5 1474.4,406.7 1474.9,407.6 1475.4,409.3 1475.6,410.2 1475.9,413.3 1476.4,424.5 1476.9,438.6 1477.0,443.6 1477.4,452.4 1477.9,468.4 1478.4,484.5 1478.9,498.3 1478.9,499.1 1479.4,510.1 1479.9,522.1 1480.4,532.0 1480.9,538.0 1481.1,538.9 1481.4,537.8 1481.9,529.8 1482.4,516.8 1482.9,502.2 1483.0,499.1 1483.4,486.2 1483.9,465.9 1484.4,446.6 1484.4,443.6 1484.9,429.7 1485.4,414.2 1485.7,408.4 1485.9,407.9 1486.4,406.4 1486.9,405.7 1487.0,405.6 1487.4,405.9 1487.9,407.5 1488.4,409.6 1488.5,410.2 1488.9,411.3 1489.4,412.9 1489.9,414.8 1490.4,417.5 1490.4,417.6 1490.9,423.4 1491.4,432.9 1491.9,443.6 1492.4,455.4 1492.9,468.9 1493.4,482.0 1493.7,489.9 1493.9,492.9 1494.4,503.7 1494.9,514.1 1495.4,522.2 1495.9,525.9 1495.9,526.0 1496.4,522.8 1496.9,513.0 1497.4,500.2 1497.8,489.9 1497.9,488.2 1498.4,475.3 1498.9,461.3 1499.4,448.8 1499.6,443.6 1499.9,440.0 1500.4,432.4 1500.9,426.1 1501.4,422.0 1501.5,421.3 1501.9,419.9 1502.4,418.4 1502.9,417.7 1503.0,417.6 1503.4,419.0 1503.9,422.7 1504.3,425.0 1504.4,425.3 1504.9,426.2 1505.4,427.2 1505.6,427.8 1505.9,430.3 1506.4,439.0 1506.9,449.4 1507.0,452.8 1507.4,458.2 1507.9,466.9 1508.4,475.5 1508.9,483.7 1509.3,489.9 1509.4,491.2 1509.9,499.4 1510.4,507.7 1510.9,514.9 1511.4,519.5 1511.7,520.4 1511.9,519.9 1512.4,514.2 1512.9,504.5 1513.4,493.4 1513.5,489.9 1513.9,481.5 1514.4,465.7 1514.9,450.3 1515.4,440.1 1515.4,439.9 1515.9,435.0 1516.4,430.9 1516.9,428.1 1517.2,426.9 1517.4,426.6 1517.9,425.6 1518.4,425.1 1518.5,425.0 1518.9,425.5 1519.4,427.3 1519.9,429.8 1520.4,432.4 1520.4,432.4 1520.9,434.5 1521.4,436.7 1521.9,439.9 1521.9,439.9 1522.4,445.7 1522.9,454.6 1523.4,464.6 1523.7,471.3 1523.9,474.1 1524.4,484.4 1524.9,494.8 1525.4,503.7 1525.6,506.5 1525.9,510.2 1526.4,516.3 1526.9,521.0 1527.4,523.2 1527.4,523.2 1527.9,518.6 1528.4,505.9 1528.9,490.7 1529.3,480.6 1529.4,478.8 1529.9,468.5 1530.4,458.8 1530.9,451.4 1531.1,449.1 1531.4,447.6 1531.9,444.8 1532.4,442.7 1532.9,441.7 1533.0,441.7 1533.4,441.7 1533.9,441.7 1534.4,441.7 1534.8,441.7 1534.9,441.7 1535.4,442.2 1535.9,443.4 1536.4,444.7 1536.7,445.4 1536.9,445.8 1537.4,446.5 1537.9,447.3 1538.4,448.6 1538.5,449.1 1538.9,451.8 1539.4,460.1 1539.9,470.7 1540.4,480.3 1540.4,480.6 1540.9,488.4 1541.4,496.3 1541.9,503.7 1542.2,508.4 1542.4,509.9 1542.9,516.3 1543.4,522.0 1543.9,525.5 1544.1,526.0 1544.4,524.4 1544.9,515.4 1545.4,502.7 1545.9,491.2 1545.9,489.9 1546.4,482.5 1546.9,474.0 1547.4,466.7 1547.8,462.1 1547.9,461.4 1548.4,457.6 1548.9,454.4 1549.4,451.9 1549.6,451.0 1549.9,450.3 1550.4,448.9 1550.9,447.8 1551.4,447.3 1551.5,447.3 1551.9,447.5 1552.4,448.6 1552.9,449.9 1553.3,451.0 1553.4,451.0 1553.9,451.9 1554.4,452.8 1554.9,453.5 1555.2,453.7 1555.4,453.8 1555.9,454.0 1556.4,454.1 1556.9,454.2 1557.4,454.4 1557.9,454.6 1558.0,454.7 1558.4,456.0 1558.9,460.2 1559.4,465.9 1559.8,471.3 1559.9,471.8 1560.4,478.7 1560.9,487.0 1561.4,495.0 1561.7,499.1 1561.9,501.3 1562.4,507.7 1562.9,513.3 1563.4,516.5 1563.5,516.7 1563.9,515.0 1564.4,507.9 1564.9,498.4 1565.4,490.1 1565.4,489.9 1565.9,483.8 1566.4,477.7 1566.9,472.5 1567.2,469.5 1567.4,468.6 1567.9,465.3 1568.4,462.6 1568.9,460.7 1569.1,460.2 1569.4,459.8 1569.9,459.1 1570.4,458.6 1570.9,458.4 1570.9,458.4 1571.4,458.7 1571.9,459.6 1572.4,460.6 1572.8,461.1 1572.9,461.2 1573.4,461.4 1573.9,461.6 1574.4,461.9 1574.6,462.1 1574.9,462.7 1575.4,466.9 1575.9,473.1 1576.4,479.3 1576.5,480.6 1576.9,484.2 1577.4,489.0 1577.9,493.8 1578.4,498.3 1578.9,502.5 1578.9,502.8 1579.4,506.9 1579.9,511.4 1580.4,514.8 1580.7,515.8 1580.9,515.6 1581.4,510.9 1581.9,502.4 1582.4,493.4 1582.6,489.9 1582.9,486.4 1583.4,479.4 1583.9,473.1 1584.4,468.3 1584.4,467.6 1584.9,465.1 1585.4,462.3 1585.9,460.0 1586.4,458.6 1586.7,458.4 1586.9,458.4 1587.4,458.6 1587.9,458.8 1588.4,459.2 1588.5,459.3 1588.9,459.5 1589.4,459.8 1589.9,460.2 1590.4,460.7 1590.9,461.4 1591.3,462.1 1591.4,462.2 1591.9,464.0 1592.4,467.0 1592.9,470.7 1593.1,473.2 1593.4,475.3 1593.9,482.6 1594.4,491.0 1594.9,497.8 1595.0,499.1 1595.4,501.8 1595.9,505.3 1596.4,508.5 1596.9,511.0 1597.4,512.5 1597.8,513.0 1597.9,513.0 1598.4,511.0 1598.9,506.8 1599.4,501.8 1599.6,499.1 1599.9,496.9 1600.4,490.8 1600.9,484.2 1601.4,478.2 1601.5,476.9 1601.9,473.4 1602.4,469.0 1602.9,465.2 1603.3,462.1 1603.4,462.0 1603.9,458.9 1604.4,456.1 1604.9,454.2 1605.2,453.7 1605.4,453.7 1605.9,453.8 1606.4,454.0 1606.9,454.3 1607.4,454.6 1607.4,454.7 1607.9,456.5 1608.4,461.0 1608.9,466.8 1609.3,471.3 1609.4,472.3 1609.9,478.1 1610.4,484.4 1610.9,490.6 1611.1,493.6 1611.4,496.2 1611.9,501.6 1612.4,506.4 1612.6,508.4 1612.9,510.4 1613.4,514.4 1613.9,517.8 1614.4,519.4 1614.4,519.5 1614.9,517.1 1615.4,509.1 1615.9,498.7 1616.3,489.9 1616.4,488.8 1616.9,478.6 1617.4,467.4 1617.9,457.4 1618.1,452.8 1618.4,450.1 1618.9,444.1 1619.4,439.0 1619.9,435.1 1620.0,434.3 1620.4,432.5 1620.9,430.2 1621.4,428.5 1621.9,427.8 1621.9,427.8 1622.4,430.5 1622.9,437.3 1623.4,446.3 1623.7,452.8 1623.9,455.7 1624.4,468.0 1624.9,482.6 1625.4,497.3 1625.6,502.8 1625.9,511.0 1626.4,525.3 1626.9,537.0 1627.0,539.9 1627.4,543.8 1627.9,548.9 1628.3,551.0 1628.4,551.0 1628.9,544.1 1629.4,528.5 1629.9,510.0 1630.2,499.1 1630.4,494.1 1630.9,477.9 1631.4,461.6 1631.9,447.6 1632.0,443.6 1632.4,437.3 1632.9,427.9 1633.4,420.4 1633.9,415.9 1633.9,415.8 1634.4,413.9 1634.9,412.4 1635.4,411.4 1635.7,411.1 1635.9,411.2 1636.4,413.1 1636.9,416.9 1637.4,422.2 1637.6,425.0 1637.9,429.4 1638.4,443.2 1638.9,460.8 1639.4,477.8 1639.4,480.6 1639.9,492.3 1640.4,506.4 1640.9,520.2 1641.3,532.4 1641.4,534.1 1641.9,551.1 1642.2,557.4 1642.4,557.1 1642.9,550.5 1643.4,538.2 1643.9,523.8 1644.1,517.6 1644.4,509.4 1644.9,491.5 1645.4,472.3 1645.9,455.0 1645.9,452.8 1646.4,439.6 1646.9,424.0 1647.4,411.7 1647.8,406.5 1647.9,406.2 1648.4,404.2 1648.9,402.8 1649.4,402.0 1649.6,401.9 1649.9,402.0 1650.4,402.5 1650.9,403.6 1651.4,405.1 1651.5,405.6 1651.9,409.0 1652.4,418.5 1652.9,431.1 1653.3,443.6 1653.4,444.0 1653.9,458.5 1654.4,475.0 1654.9,490.7 1655.2,499.1 1655.4,502.8 1655.9,514.3 1656.4,524.3 1656.9,530.1 1657.0,530.6 1657.4,529.1 1657.9,522.0 1658.4,511.4 1658.9,499.9 1658.9,499.1 1659.4,486.7 1659.9,470.0 1660.4,453.7 1660.7,443.6 1660.9,441.1 1661.4,430.4 1661.9,420.5 1662.4,412.4 1662.9,407.2 1663.0,406.5 1663.4,404.6 1663.9,402.4 1664.4,400.7 1664.9,399.5 1665.4,399.1 1665.4,399.1 1665.9,399.3 1666.4,399.8 1666.9,400.6 1667.4,401.7 1667.8,402.8 1667.9,403.0 1668.4,405.8 1668.9,410.3 1669.4,416.2 1669.9,422.9 1670.0,425.0 1670.4,431.2 1670.9,443.1 1671.4,457.1 1671.9,471.1 1672.2,480.6 1672.4,483.9 1672.9,498.5 1673.4,510.7 1673.7,513.9 1673.9,513.4 1674.4,505.8 1674.9,493.0 1675.3,480.6 1675.4,480.2 1675.9,466.7 1676.4,451.8 1676.9,439.3 1677.2,434.3 1677.4,432.7 1677.9,428.5 1678.4,425.3 1678.9,423.5 1679.0,423.2 1679.4,422.9 1679.9,422.6 1680.4,422.3 1680.9,422.3 1680.9,422.3 1681.4,423.6 1681.9,427.4 1682.2,430.6 1682.4,432.9 1682.9,445.2 1683.4,459.2 1683.5,462.1 1683.9,469.8 1684.4,480.2 1684.9,488.7 1685.3,493.6 1685.4,493.7 1685.9,496.2 1686.4,498.2 1686.9,499.8 1687.4,500.7 1687.7,501.0 1687.9,500.8 1688.4,495.5 1688.9,485.9 1689.4,475.5 1689.6,471.3 1689.9,467.2 1690.4,458.9 1690.9,451.0 1691.4,444.5 1691.4,443.6 1691.9,439.4 1692.4,434.7 1692.9,431.1 1693.3,429.7 1693.4,429.6 1693.9,429.2 1694.4,428.9 1694.9,428.8 1695.1,428.7 1695.4,428.8 1695.9,428.9 1696.4,429.2 1696.9,429.5 1697.0,429.7 1697.4,430.1 1697.9,431.3 1698.4,432.8 1698.9,434.3 1699.4,435.5 1699.9,436.7 1700.4,438.3 1700.7,439.9 1700.9,440.9 1701.4,447.8 1701.9,457.7 1702.4,467.8 1702.6,471.3 1702.9,476.3 1703.4,484.9 1703.9,492.8 1704.4,498.6 1704.4,499.1 1704.9,502.7 1705.4,506.2 1705.9,508.6 1706.3,509.3 1706.4,509.2 1706.9,504.3 1707.4,495.1 1707.9,485.0 1708.1,480.6 1708.4,476.7 1708.9,468.1 1709.4,459.9 1709.9,453.7 1710.0,452.8 1710.4,450.0 1710.9,446.8 1711.4,444.5 1711.8,443.6 1711.9,443.5 1712.4,443.2 1712.9,443.0 1713.4,442.8 1713.9,442.7 1714.4,442.6 1714.6,442.6 1714.9,442.6 1715.4,442.8 1715.9,443.1 1716.4,443.5 1716.4,443.6 1716.9,446.2 1717.4,453.9 1717.9,463.5 1718.3,471.3 1718.4,472.2 1718.9,480.0 1719.4,487.8 1719.9,495.2 1720.1,499.1 1720.4,501.8 1720.9,508.8 1721.4,513.9 1721.6,514.9 1721.9,514.2 1722.4,508.5 1722.9,499.2 1723.4,489.1 1723.9,480.6 1723.9,480.6 1724.4,473.7 1724.9,467.1 1725.4,461.4 1725.7,458.4 1725.9,457.3 1726.4,453.8 1726.9,450.9 1727.4,449.3 1727.6,449.1 1727.9,449.1 1728.4,449.1 1728.9,449.1 1729.4,449.1 1729.4,449.1 1729.9,449.4 1730.4,450.3 1730.9,451.6 1731.3,452.8 1731.4,453.1 1731.9,454.9 1732.4,457.3 1732.9,460.3 1733.1,462.1 1733.4,464.2 1733.9,470.7 1734.4,478.9 1734.9,487.8 1735.4,496.0 1735.9,502.4 1735.9,502.8 1736.4,507.5 1736.9,512.5 1737.4,517.0 1737.9,520.6 1738.4,522.8 1738.7,523.2 1738.9,522.7 1739.4,517.7 1739.9,509.0 1740.4,499.0 1740.9,490.4 1740.9,489.9 1741.4,483.2 1741.9,476.0 1742.4,469.6 1742.7,465.8 1742.9,464.9 1743.4,460.8 1743.9,457.4 1744.4,455.2 1744.6,454.7 1744.9,454.4 1745.4,454.0 1745.9,453.8 1746.1,453.7 1746.4,453.8 1746.9,454.4 1747.4,455.5 1747.9,456.9 1748.3,458.4 1748.4,458.6 1748.9,462.0 1749.4,466.9 1749.8,471.3 1749.9,472.1 1750.4,477.5 1750.9,483.6 1751.4,489.8 1751.9,495.7 1752.4,501.0 1752.6,502.8 1752.9,505.4 1753.4,510.0 1753.9,514.5 1754.4,518.8 1754.9,522.6 1755.4,525.5 1755.9,527.3 1756.3,527.8 1756.4,527.7 1756.9,523.0 1757.4,514.0 1757.9,503.8 1758.1,499.1 1758.4,494.8 1758.9,484.8 1759.4,474.9 1759.9,467.1 1760.0,465.8 1760.4,461.8 1760.9,457.3 1761.4,453.8 1761.8,451.9 1761.9,451.8 1762.4,450.6 1762.9,449.7 1763.4,449.2 1763.7,449.1 1763.9,449.2 1764.4,449.9 1764.9,451.1 1765.4,452.4 1765.5,452.8 1765.9,453.6 1766.4,454.7 1766.9,456.2 1767.4,458.3 1767.4,458.4 1767.9,464.1 1768.4,474.2 1768.9,484.5 1769.2,489.9 1769.4,491.1 1769.9,495.3 1770.4,498.8 1770.9,501.8 1771.4,504.6 1771.9,507.5 1772.0,508.4 1772.4,510.9 1772.9,514.8 1773.4,518.1 1773.9,519.5 1773.9,519.5 1774.4,515.8 1774.9,507.3 1775.4,497.4 1775.7,491.7 1775.9,489.7 1776.4,483.1 1776.9,476.6 1777.4,470.5 1777.9,464.8 1778.4,459.6 1778.5,458.4 1778.9,455.0 1779.4,450.6 1779.9,446.6 1780.4,443.0 1780.9,440.0 1780.9,439.9 1781.4,437.3 1781.9,434.8 1782.4,433.0 1782.7,432.4 1782.9,432.5 1783.4,434.0 1783.9,436.8 1784.0,438.0 1784.4,440.5 1784.9,446.4 1785.4,453.8 1785.9,461.5 1785.9,462.1 1786.4,470.0 1786.9,479.8 1787.4,489.2 1787.7,495.4 1787.9,497.0 1788.4,504.4 1788.9,511.7 1789.4,518.3 1789.9,523.2 1790.4,525.8 1790.5,526.0 1790.9,524.2 1791.4,516.5 1791.9,505.9 1792.4,495.7 1792.4,495.4 1792.9,486.7 1793.4,477.1 1793.9,468.0 1794.2,462.1 1794.4,460.1 1794.9,452.4 1795.4,445.0 1795.9,438.9 1796.4,434.8 1796.4,434.3 1796.9,432.5 1797.4,430.7 1797.9,429.2 1798.4,428.2 1798.9,427.8 1798.9,427.8 1799.4,428.1 1799.9,428.8 1800.4,430.0 1800.9,431.6 1801.1,432.4 1801.4,434.6 1801.9,442.7 1802.4,452.7 1802.6,456.5 1802.9,461.9 1803.4,471.8 1803.9,481.8 1804.4,490.8 1804.4,491.7 1804.9,499.0 1805.4,507.1 1805.9,514.5 1806.4,520.8 1806.8,525.0 1806.9,525.3 1807.4,528.9 1807.9,531.9 1808.4,533.9 1808.7,534.3 1808.9,533.5 1809.4,524.6 1809.9,510.3 1810.4,495.7 1810.5,491.7 1810.9,484.3 1811.4,473.2 1811.9,462.6 1812.4,453.1 1812.4,452.8 1812.9,443.8 1813.4,434.1 1813.9,426.0 1814.4,421.1 1814.6,420.4 1814.9,420.4 1815.4,420.5 1815.9,420.6 1816.4,420.8 1816.9,421.0 1817.4,421.3 1817.4,421.3 1817.9,421.8 1818.4,422.6 1818.9,423.8 1819.2,425.0 1819.4,425.7 1819.9,432.2 1820.4,442.4 1820.9,453.7 1821.1,458.4 1821.4,464.1 1821.9,475.3 1822.4,486.8 1822.9,497.6 1822.9,499.1 1823.4,507.4 1823.9,516.8 1824.4,525.5 1824.8,532.4 1824.9,533.7 1825.4,542.5 1825.7,545.4 1825.9,545.0 1826.4,538.5 1826.9,526.8 1827.4,513.5 1827.6,508.4 1827.9,500.5 1828.4,484.8 1828.9,468.4 1829.4,454.2 1829.4,452.8 1829.9,442.0 1830.4,429.9 1830.9,419.5 1831.4,412.3 1831.6,410.2 1831.9,409.3 1832.4,407.5 1832.9,406.2 1833.4,405.6 1833.5,405.6 1833.9,405.9 1834.4,407.3 1834.9,409.5 1835.3,412.1 1835.4,412.2 1835.9,417.3 1836.4,425.8 1836.9,436.2 1837.2,443.6 1837.4,447.7 1837.9,463.3 1838.4,480.4 1838.7,489.9 1838.9,494.9 1839.4,508.7 1839.9,521.3 1840.4,530.5 1840.5,532.4 1840.9,535.6 1841.4,539.5 1841.9,541.6 1842.0,541.7 1842.4,539.8 1842.9,531.8 1843.4,520.3 1843.9,508.4 1843.9,508.4 1844.4,495.3 1844.9,479.8 1845.4,463.7 1845.7,452.8 1845.9,448.1 1846.4,429.6 1846.9,411.6 1847.4,400.3 1847.6,399.1 1847.9,399.2 1848.4,399.7 1848.9,400.6 1849.4,401.7 1849.8,402.8 1849.9,403.0 1850.4,405.2 1850.9,408.6 1851.4,412.9 1851.6,415.8 1851.9,418.8 1852.4,429.2 1852.9,442.3 1853.4,455.3 1853.5,458.4 1853.9,466.6 1854.4,477.5 1854.9,488.4 1855.3,499.1 1855.4,499.5 1855.9,513.3 1856.4,528.2 1856.9,539.2 1857.2,541.7 1857.4,541.6 1857.9,540.0 1858.4,536.9 1858.9,532.6 1859.4,527.5 1859.4,526.9 1859.9,519.5 1860.4,506.7 1860.9,492.0 1861.3,480.6 1861.4,478.1 1861.9,463.5 1862.4,447.8 1862.9,433.0 1863.4,421.0 1863.7,415.8 1863.9,413.3 1864.4,407.0 1864.9,402.0 1865.4,399.3 1865.5,399.1 1865.9,399.2 1866.4,399.6 1866.9,400.3 1867.4,401.3 1867.9,402.6 1867.9,402.8 1868.4,407.3 1868.9,418.5 1869.4,432.4 1869.8,443.6 1869.9,445.3 1870.4,457.5 1870.9,470.1 1871.4,482.9 1871.9,495.5 1872.0,499.1 1872.4,509.1 1872.9,524.4 1873.4,533.8 1873.5,534.3 1873.9,532.0 1874.4,521.7 1874.8,506.5" fill="none" stroke="#0072BD" stroke-width="3.2" stroke-linejoin="round" stroke-linecap="round"/><rect x="1522.2" y="411.1" width="91.3" height="132.5" rx="14" ry="15" fill="#ff0000" fill-opacity="0.16" stroke="#ff0000" stroke-width="2" stroke-dasharray="5.5 2.2"/><rect x="1677.9" y="411.1" width="128.9" height="132.5" rx="14" ry="15" fill="#ff0000" fill-opacity="0.16" stroke="#ff0000" stroke-width="2" stroke-dasharray="5.5 2.2"/><path d="M1471.5,394.5H1875.5V559.5H1471.5ZM1572.5,559.5v-4.5M1572.5,394.5v4.5M1673.5,559.5v-4.5M1673.5,394.5v4.5M1774.5,559.5v-4.5M1774.5,394.5v4.5M1471.5,477.0h4.5M1875.5,477.0h-4.5" fill="none" stroke="#4a4a4a" stroke-width="1"/><text x="1464.10" y="597.30">0</text><text x="1554.90" y="597.30">20</text><text x="1655.50" y="597.30">40</text><text x="1755.30" y="597.30">60</text><text x="1850.62" y="597.30">80</text><text transform="translate(1445.67,407.90) scale(1,1.05)" clip-path="url(#one)">1</text><text x="1416.40" y="488.68">0.5</text><text x="1441.50" y="571.27">0</text></g>
<g><path d="M84.9,773.7 85.4,771.0 85.9,768.4 86.4,766.0 86.7,764.5 86.9,763.8 87.4,761.4 87.9,759.0 88.4,757.1 88.9,756.2 88.9,756.1 89.4,756.5 89.9,757.4 90.4,758.8 90.4,758.9 90.9,761.3 91.4,765.7 91.9,770.6 92.4,774.4 92.6,775.6 92.9,776.1 93.4,777.1 93.9,777.8 94.4,778.3 94.5,778.4 94.9,778.6 95.4,778.9 95.9,779.1 96.4,779.2 96.9,779.3 96.9,779.3 97.4,779.1 97.9,778.7 98.4,778.1 98.7,777.4 98.9,777.2 99.4,775.1 99.9,771.8 100.4,768.0 100.9,764.3 101.4,761.4 101.5,760.8 101.9,759.6 102.4,758.0 102.9,757.1 103.0,757.1 103.4,757.4 103.9,758.7 104.4,760.5 104.9,762.6 105.4,765.7 105.9,769.9 106.4,774.0 106.9,776.9 107.1,777.4 107.4,777.8 107.9,778.3 108.4,778.7 108.9,779.0 109.4,779.2 109.9,779.3 110.4,779.1 110.9,778.7 111.4,778.0 111.7,777.4 111.9,777.1 112.4,774.9 112.9,771.6 113.4,767.7 113.9,764.1 114.4,761.3 114.5,760.8 114.9,759.5 115.4,757.8 115.9,756.6 116.3,756.1 116.4,756.1 116.9,756.7 117.4,758.0 117.9,759.9 118.4,761.8 118.6,762.6 118.9,764.0 119.4,766.9 119.9,770.1 120.4,773.2 120.9,775.3 121.0,775.6 121.4,776.5 121.9,777.5 122.4,778.4 122.9,779.1 123.4,779.6 123.7,779.7 123.9,779.7 124.4,779.6 124.9,779.5 125.4,779.4 125.9,779.2 126.4,779.0 126.5,778.9 126.9,778.7 127.4,777.9 127.9,776.7 128.4,775.2 128.9,773.5 129.3,771.9 129.4,771.7 129.9,768.7 130.4,764.6 130.9,760.5 131.4,757.6 131.5,757.1 131.9,756.3 132.4,755.3 132.9,754.6 133.4,754.3 133.4,754.3 133.9,755.0 134.4,756.9 134.9,759.6 135.4,762.4 135.8,764.5 135.9,764.8 136.4,767.4 136.9,770.3 137.4,773.1 137.9,775.5 138.4,777.1 138.6,777.4 138.9,777.8 139.4,778.3 139.9,778.6 140.4,778.9 140.8,778.9 140.9,778.9 141.4,778.6 141.9,778.0 142.3,777.8 142.4,777.8 142.9,778.2 143.4,778.8 143.9,779.2 144.1,779.3 144.4,779.2 144.9,778.3 145.4,776.7 145.9,774.6 146.4,772.4 146.9,770.2 146.9,770.0 147.4,767.7 147.9,764.4 148.4,761.1 148.9,758.4 149.3,757.1 149.4,757.0 149.9,756.2 150.4,755.6 150.9,755.3 151.1,755.2 151.4,755.4 151.9,756.7 152.4,759.1 152.9,761.8 153.4,764.4 153.4,764.5 153.9,767.0 154.4,770.1 154.9,773.0 155.4,775.4 155.8,776.5 155.9,776.6 156.4,777.3 156.9,777.8 157.4,778.2 157.9,778.4 158.0,778.4 158.4,778.4 158.9,778.4 159.4,778.4 159.9,778.4 160.4,778.4 160.8,778.4 160.9,778.4 161.4,778.0 161.9,777.2 162.4,776.2 162.6,775.6 162.9,775.0 163.4,772.8 163.9,769.9 164.4,766.7 164.9,763.6 165.4,761.0 165.4,760.8 165.9,758.8 166.4,756.5 166.9,754.8 167.3,754.3 167.4,754.3 167.9,755.0 168.4,756.3 168.9,758.0 169.1,758.9 169.4,760.0 169.9,763.1 170.4,766.9 170.9,770.5 171.4,773.2 171.5,773.7 171.9,774.6 172.4,775.8 172.9,776.7 173.4,777.3 173.7,777.4 173.9,777.4 174.4,776.7 174.9,775.6 175.4,774.8 175.6,774.7 175.9,774.7 176.4,774.9 176.9,775.2 177.4,775.5 177.4,775.6 177.9,775.8 178.4,776.2 178.9,776.4 179.3,776.5 179.4,776.5 179.9,775.6 180.4,773.7 180.9,771.3 181.1,770.0 181.4,769.1 181.9,766.2 182.4,763.2 182.9,761.1 183.0,760.8 183.4,760.2 183.9,759.5 184.4,759.1 184.9,758.9 185.4,759.5 185.9,761.0 186.4,763.0 186.7,764.5 186.9,765.2 187.4,768.8 187.9,773.3 188.4,777.4 188.9,780.0 188.9,780.2 189.4,781.0 189.9,781.8 190.4,782.5 190.9,782.9 191.3,783.0 191.4,783.0 191.9,783.0 192.4,783.0 192.9,783.0 193.4,783.0 193.7,783.0 193.9,782.9 194.4,781.4 194.9,778.3 195.4,774.5 195.9,770.8 196.0,770.0 196.4,767.3 196.9,763.5 197.4,759.4 197.9,755.5 198.4,751.9 198.7,749.7 198.9,749.1 199.4,746.4 199.9,743.7 200.4,741.3 200.9,739.5 201.4,738.6 201.5,738.6 201.9,738.7 202.4,739.6 202.9,740.9 203.4,742.6 203.7,744.1 203.9,744.6 204.4,747.6 204.9,751.9 205.4,757.1 205.9,762.8 206.1,766.3 206.4,769.2 206.9,778.4 207.4,786.0 207.4,786.7 207.9,789.0 208.4,791.2 208.9,792.8 209.4,794.3 209.9,796.0 210.4,798.3 210.9,800.5 211.3,801.5 211.4,801.5 211.9,800.6 212.4,799.2 212.6,798.7 212.9,798.6 213.4,798.2 213.9,797.9 214.4,797.8 214.5,797.8 214.9,799.6 215.4,805.8 215.9,812.5 216.3,815.4 216.4,815.4 216.9,814.4 217.4,812.0 217.8,808.9 217.9,808.7 218.4,802.6 218.9,792.7 219.4,779.5 219.9,763.6 220.0,757.1 220.4,739.4 220.9,705.9 221.0,701.5 221.4,691.0 221.5,689.5 221.9,689.5 222.4,689.9 222.8,690.4 222.9,690.5 223.4,698.9 223.9,715.3 224.4,731.7 224.7,738.6 224.9,741.3 225.4,747.6 225.6,748.7 225.9,749.0 226.4,749.2 226.9,749.3 227.4,749.6 227.4,749.7 227.9,751.7 228.4,757.4 228.9,764.5 229.3,770.0 229.4,770.6 229.9,775.9 230.4,781.1 230.9,785.9 231.1,788.6 231.4,790.4 231.9,795.2 232.4,800.0 232.9,804.3 233.4,807.5 233.9,808.9 233.9,808.9 234.4,808.0 234.9,805.2 235.4,801.3 235.8,797.8 235.9,797.2 236.4,791.6 236.9,784.9 237.4,778.4 237.6,775.6 237.9,773.6 238.4,769.2 238.9,765.5 239.4,763.0 239.5,762.6 239.9,761.8 240.4,761.0 240.8,760.8 240.9,760.8 241.4,762.8 241.9,765.9 242.3,767.3 242.4,767.3 242.9,767.7 243.4,768.0 243.9,768.2 244.1,768.2 244.4,768.2 244.9,768.1 245.4,767.9 245.9,767.7 246.4,767.5 246.9,767.3 246.9,767.3 247.4,767.0 247.9,766.8 248.4,766.4 248.4,766.3 248.9,765.3 249.4,763.4 249.9,761.3 250.4,759.5 250.6,758.9 250.9,758.4 251.4,757.5 251.9,757.1 251.9,757.1 252.4,758.0 252.9,760.1 253.0,760.8 253.4,762.6 253.9,766.0 254.4,769.6 254.9,772.5 255.2,773.7 255.4,774.0 255.9,774.7 256.4,775.3 256.9,775.8 257.4,776.1 257.9,776.4 258.0,776.5 258.4,776.7 258.9,776.9 259.4,777.1 259.9,777.3 260.4,777.4 260.8,777.4 260.9,777.4 261.4,777.2 261.9,776.6 262.4,775.9 262.6,775.6 262.9,775.3 263.4,774.6 263.9,773.9 264.4,773.2 264.9,772.5 265.4,771.9 265.4,771.9 265.9,771.5 266.4,771.2 266.9,770.9 267.4,770.6 267.9,770.3 268.2,770.0 268.4,769.9 268.9,769.3 269.4,768.6 269.9,768.1 270.4,767.8 270.4,767.8 270.9,767.9 271.4,768.2 271.9,768.6 272.4,768.9 272.8,769.1 272.9,769.1 273.4,769.2 273.9,769.4 274.4,769.4 274.9,769.5 275.4,769.6 275.6,769.7 275.9,769.7 276.4,769.9 276.9,770.1 277.4,770.2 277.9,770.4 278.4,770.4 278.4,770.4 278.9,770.4 279.4,770.3 279.9,770.2 280.4,770.1 280.9,770.0 281.4,769.9 281.9,769.8 282.4,769.7 282.9,769.7 283.0,769.7 283.4,769.7 283.9,769.8 284.4,770.0 284.9,770.2 285.4,770.4 285.8,770.4 285.9,770.4 286.4,770.3 286.9,770.0 287.4,769.6 287.9,769.3 288.4,769.1 288.6,769.1 288.9,769.2 289.4,769.5 289.9,769.9 290.4,770.4 290.9,770.8 291.3,771.0 291.4,771.0 291.9,770.8 292.4,770.4 292.9,769.9 293.4,769.5 293.9,769.2 294.1,769.1 294.4,769.1 294.9,769.3 295.4,769.7 295.9,770.0 296.4,770.3 296.9,770.4 296.9,770.4 297.4,770.3 297.9,770.0 298.4,769.7 298.9,769.4 299.4,769.2 299.7,769.1 299.9,769.1 300.4,769.3 300.9,769.6 301.4,770.0 301.9,770.3 302.4,770.4 302.4,770.4 302.9,770.3 303.4,770.1 303.9,769.7 304.4,769.4 304.9,769.2 305.2,769.1 305.4,769.1 305.9,769.3 306.4,769.6 306.9,769.9 307.4,770.2 307.9,770.4 308.0,770.4 308.4,770.4 308.9,770.3 309.4,770.2 309.9,770.1 310.4,770.1 310.8,770.0 310.9,770.0 311.4,770.1 311.9,770.2 312.4,770.3 312.9,770.3 313.4,770.4 313.6,770.4 313.9,770.3 314.4,770.0 314.9,769.4 315.4,768.8 315.9,768.4 316.3,768.2 316.4,768.2 316.9,768.3 317.4,768.6 317.9,769.1 318.4,769.5 318.9,769.9 319.1,770.0 319.4,770.1 319.9,770.3 320.4,770.5 320.9,770.7 321.4,770.8 321.9,771.0 321.9,771.0 322.4,771.1 322.9,771.2 323.4,771.3 323.9,771.5 324.4,771.6 324.9,771.8 325.2,771.9 325.4,771.9 325.9,772.2 326.4,772.6 326.9,772.8 327.1,772.8 327.4,772.6 327.9,771.4 328.4,769.8 328.9,768.3 328.9,768.2 329.4,767.3 329.9,766.4 330.4,765.6 330.8,765.4 330.9,765.4 331.4,766.0 331.9,767.2 332.4,768.5 332.6,769.1 332.9,769.5 333.4,770.6 333.9,771.6 334.4,772.4 334.9,772.8 335.4,773.0 335.9,773.1 336.4,773.2 336.9,773.3 337.4,773.4 337.6,773.4 337.9,773.4 338.4,773.3 338.9,773.1 339.4,773.0 339.9,772.9 340.4,772.8 340.4,772.8 340.9,772.9 341.4,773.0 341.9,773.2 342.4,773.3 342.6,773.4 342.9,773.2 343.4,771.7 343.9,769.5 344.4,767.3 344.7,766.3 344.9,765.9 345.4,764.6 345.9,763.5 346.4,762.6 346.9,762.3 346.9,762.3 347.4,762.8 347.9,764.2 348.4,766.0 348.7,767.3 348.9,767.6 349.4,769.3 349.9,771.1 350.4,772.5 350.6,772.8 350.9,773.0 351.4,773.4 351.9,773.7 352.4,773.9 352.9,774.1 353.4,774.1 353.4,774.1 353.9,774.1 354.4,774.0 354.9,773.8 355.4,773.7 355.9,773.5 356.1,773.4 356.4,773.3 356.9,773.1 357.4,772.8 357.9,772.5 358.4,772.1 358.6,771.9 358.9,771.4 359.4,769.8 359.9,767.8 360.4,765.8 360.8,764.5 360.9,764.3 361.4,763.1 361.9,761.9 362.4,760.9 362.9,760.4 363.0,760.4 363.4,760.7 363.9,762.0 364.4,763.8 364.9,765.7 365.0,766.3 365.4,767.4 365.9,769.5 366.4,771.5 366.9,773.2 367.3,774.1 367.4,774.2 367.9,774.9 368.4,775.5 368.9,776.0 369.4,776.3 369.9,776.5 370.0,776.5 370.4,776.5 370.9,776.4 371.4,776.3 371.9,776.1 372.4,775.8 372.8,775.6 372.9,775.6 373.4,775.2 373.9,774.7 374.4,774.1 374.9,773.3 375.4,772.4 375.6,771.9 375.9,771.2 376.4,769.2 376.9,766.8 377.4,764.4 377.8,762.6 377.9,762.5 378.4,760.8 378.9,759.3 379.4,758.2 379.7,758.0 379.9,758.1 380.4,758.9 380.9,760.3 381.4,762.1 381.5,762.6 381.9,764.1 382.4,767.1 382.9,770.6 383.4,773.6 383.9,775.5 383.9,775.6 384.4,776.2 384.9,776.8 385.4,777.2 385.9,777.6 386.4,777.8 386.7,777.8 386.9,777.8 387.4,777.8 387.9,777.8 388.4,777.8 388.9,777.8 389.4,777.8 389.5,777.8 389.9,777.7 390.4,777.0 390.9,776.0 391.4,774.6 391.9,773.1 392.3,771.9 392.4,771.6 392.9,769.2 393.4,766.2 393.9,763.6 394.1,762.6 394.4,761.9 394.9,760.4 395.4,759.2 395.9,758.3 396.3,758.0 396.4,758.0 396.9,758.5 397.4,759.8 397.9,761.5 398.2,762.6 398.4,763.3 398.9,766.0 399.4,769.4 399.9,772.6 400.4,775.0 400.6,775.6 400.9,776.0 401.4,776.8 401.9,777.4 402.4,777.9 402.9,778.3 403.4,778.4 403.4,778.4 403.9,778.2 404.4,777.9 404.9,777.4 405.4,776.7 405.9,776.0 406.1,775.6 406.4,775.3 406.9,774.3 407.4,773.0 407.9,771.6 408.4,770.0 408.9,768.4 408.9,768.2 409.4,766.6 409.9,764.3 410.4,762.2 410.8,760.8 410.9,760.6 411.4,759.3 411.9,758.3 412.3,758.0 412.4,758.0 412.9,759.0 413.4,761.0 413.9,763.4 414.1,764.5 414.4,765.6 414.9,768.4 415.4,771.5 415.9,774.1 416.3,775.6 416.4,775.6 416.9,776.4 417.4,777.1 417.9,777.7 418.4,778.1 418.9,778.3 419.1,778.4 419.4,778.3 419.9,778.1 420.4,777.7 420.9,777.2 421.4,776.5 421.9,775.7 421.9,775.6 422.4,774.2 422.9,771.6 423.4,768.5 423.9,765.7 424.1,764.5 424.4,763.4 424.9,761.1 425.4,759.1 425.9,758.0 426.0,758.0 426.4,758.5 426.9,760.1 427.4,762.4 427.8,764.5 427.9,764.6 428.4,767.2 428.9,770.3 429.4,773.3 429.9,775.6 430.2,776.5 430.4,776.7 430.9,777.2 431.4,777.7 431.9,778.0 432.4,778.3 432.9,778.4 433.0,778.4 433.4,778.3 433.9,778.0 434.4,777.6 434.9,777.0 435.4,776.3 435.8,775.6 435.9,775.5 436.4,774.1 436.9,772.1 437.4,769.8 437.9,767.4 438.4,765.2 438.6,764.5 438.9,763.4 439.4,761.5 439.9,759.7 440.4,758.4 440.8,758.0 440.9,758.0 441.4,759.0 441.9,760.9 442.4,763.3 442.6,764.5 442.9,765.5 443.4,768.3 443.9,771.4 444.4,774.2 444.9,776.1 445.0,776.5 445.4,777.0 445.9,777.6 446.4,778.2 446.9,778.6 447.4,778.8 447.8,778.9 447.9,778.9 448.4,778.8 448.9,778.3 449.4,777.7 449.9,776.9 450.4,776.1 450.6,775.6 450.9,774.9 451.4,772.9 451.9,770.2 452.4,767.5 452.9,765.1 453.0,764.5 453.4,763.2 453.9,761.2 454.4,759.5 454.9,758.3 455.2,758.0 455.4,758.0 455.9,758.8 456.4,760.3 456.9,762.2 457.4,764.1 457.4,764.5 457.9,766.4 458.4,769.4 458.9,772.5 459.4,775.1 459.9,776.5 460.4,777.1 460.9,777.6 461.4,777.9 461.9,778.2 462.4,778.3 462.6,778.4 462.9,778.3 463.4,778.1 463.9,777.7 464.4,777.2 464.9,776.5 465.4,775.7 465.4,775.6 465.9,774.4 466.4,772.1 466.9,769.4 467.4,766.6 467.8,764.5 467.9,764.3 468.4,762.1 468.9,759.9 469.4,758.3 469.7,758.0 469.9,758.1 470.4,759.4 470.9,761.4 471.4,763.8 471.5,764.5 471.9,766.1 472.4,769.1 472.9,772.2 473.4,774.6 473.7,775.6 473.9,775.7 474.4,776.3 474.9,776.7 475.4,777.1 475.9,777.3 476.4,777.4 476.5,777.4 476.9,777.4 477.4,777.1 477.9,776.7 478.4,776.3 478.9,775.9 479.3,775.6 479.4,775.6 479.9,775.3 480.4,775.1 480.9,774.9 481.3,774.7 481.3,774.7" fill="none" stroke="#0072BD" stroke-width="3.2" stroke-linejoin="round" stroke-linecap="round"/><rect x="242.6" y="705.2" width="84.8" height="131.1" rx="14" ry="15" fill="#ff0000" fill-opacity="0.16" stroke="#ff0000" stroke-width="2" stroke-dasharray="5.5 2.2"/><path d="M84.5,689.5H481.5V851.5H84.5ZM183.8,851.5v-4.5M183.8,689.5v4.5M283.0,851.5v-4.5M283.0,689.5v4.5M382.2,851.5v-4.5M382.2,689.5v4.5M84.5,770.5h4.5M481.5,770.5h-4.5" fill="none" stroke="#4a4a4a" stroke-width="1"/><text x="78.50" y="890.40">0</text><text x="167.30" y="890.40">20</text><text x="266.60" y="890.40">40</text><text x="365.00" y="890.40">60</text><text x="459.32" y="890.40">80</text><text transform="translate(61.88,704.60) scale(1,1.05)" clip-path="url(#one)">1</text><text x="31.30" y="784.08">0.5</text><text x="58.20" y="867.98">0</text></g>
<g><path d="M549.8,820.0 550.0,818.3 550.5,815.0 550.8,812.6 551.0,810.5 551.5,803.0 552.0,795.3 552.1,794.1 552.5,788.9 553.0,782.9 553.5,779.4 553.6,779.3 554.0,778.9 554.5,778.5 555.0,778.4 555.0,778.4 555.5,781.3 556.0,788.8 556.3,794.1 556.5,796.3 557.0,805.5 557.5,812.2 557.6,812.6 558.0,810.9 558.5,803.8 559.0,793.3 559.1,790.4 559.5,776.4 560.0,748.1 560.5,723.4 560.6,720.0 561.0,710.3 561.5,699.1 562.0,691.3 562.4,688.6 562.5,688.6 563.0,693.6 563.5,705.1 564.0,719.8 564.3,729.3 564.5,736.0 565.0,762.5 565.5,791.2 566.0,809.3 566.1,810.8 566.5,808.1 567.0,797.1 567.5,784.5 568.0,777.5 568.0,777.4 568.5,776.4 569.0,775.7 569.3,775.6 569.5,775.7 570.0,776.6 570.5,778.2 571.0,780.4 571.1,781.1 571.5,783.8 572.0,790.2 572.5,796.6 573.0,799.7 573.0,799.7 573.5,797.2 574.0,790.7 574.5,782.2 574.9,775.6 575.0,773.2 575.5,761.8 576.0,748.4 576.5,734.8 576.7,729.3 577.0,722.0 577.5,707.2 578.0,694.3 578.5,688.0 578.6,688.0 579.0,691.9 579.5,705.7 580.0,725.4 580.4,744.1 580.5,747.9 581.0,790.7 581.5,831.7 581.7,837.6 582.0,835.6 582.5,823.9 583.0,807.3 583.5,792.2 583.6,790.4 584.0,780.6 584.5,769.1 585.0,759.3 585.4,753.4 585.5,752.6 586.0,747.6 586.5,743.4 587.0,740.8 587.3,740.4 587.5,741.1 588.0,746.4 588.5,754.9 589.0,764.1 589.1,766.3 589.5,773.7 590.0,786.5 590.5,799.5 591.0,809.9 591.5,814.5 591.5,814.5 592.0,811.5 592.5,803.5 593.0,793.6 593.4,786.7 593.5,785.0 594.0,777.3 594.5,769.5 595.0,761.3 595.2,757.1 595.5,752.1 596.0,741.0 596.5,729.9 597.0,721.2 597.1,720.0 597.5,715.2 598.0,710.4 598.4,708.9 598.5,709.3 599.0,719.2 599.5,735.9 599.9,747.8 600.0,751.6 600.5,768.0 601.0,784.9 601.5,798.9 601.7,803.4 602.0,808.1 602.5,815.7 603.0,819.1 603.0,819.1 603.5,814.6 604.0,804.2 604.5,794.1 605.0,786.3 605.5,778.7 606.0,771.3 606.3,766.3 606.5,764.2 607.0,756.2 607.5,748.7 608.0,743.4 608.2,742.3 608.5,741.3 609.0,739.9 609.5,739.0 610.0,738.6 610.0,738.6 610.5,740.2 611.0,745.2 611.5,751.7 611.9,757.1 612.0,758.3 612.5,765.7 613.0,774.2 613.5,782.7 613.7,786.7 614.0,790.6 614.5,799.4 615.0,804.2 615.0,804.3 615.5,803.4 616.0,800.9 616.5,797.3 616.9,794.1 617.0,793.4 617.5,788.0 618.0,781.2 618.5,773.8 618.7,770.0 619.0,766.2 619.5,756.8 620.0,747.6 620.5,741.2 620.6,740.4 621.0,738.2 621.5,736.0 622.0,734.9 622.1,734.9 622.5,736.6 623.0,742.5 623.5,750.3 623.9,757.1 624.0,757.8 624.5,765.6 625.0,774.0 625.5,782.3 625.8,786.7 626.0,789.9 626.5,798.2 627.0,803.2 627.1,803.4 627.5,801.0 628.0,793.8 628.5,785.8 628.6,784.9 629.0,778.8 629.5,770.7 630.0,763.0 630.5,756.7 631.0,753.4 631.0,753.3 631.5,751.8 632.0,750.8 632.3,750.6 632.5,751.3 633.0,755.9 633.5,760.4 633.6,760.8 634.0,762.0 634.5,763.0 635.0,764.3 635.0,764.5 635.5,767.2 636.0,771.5 636.5,775.4 636.5,775.6 637.0,778.4 637.5,781.5 638.0,784.0 638.5,785.5 638.7,785.8 639.0,785.6 639.5,784.5 640.0,782.4 640.5,779.9 640.6,779.3 641.0,775.6 641.5,768.0 642.0,760.6 642.4,757.1 642.5,757.0 643.0,756.0 643.5,755.4 643.9,755.2 644.0,755.2 644.5,756.7 645.0,759.4 645.0,762.1 645.7,760.9 646.4,772.4 647.1,773.4 647.8,783.4 648.5,781.9 649.2,781.4 649.9,767.8 650.6,769.6 651.3,762.6 652.0,766.8 652.7,765.6 653.4,771.8 654.1,766.9 654.8,768.9 655.5,761.8 656.2,765.6 656.9,758.2 657.6,763.4 658.3,758.6 659.0,766.2 659.7,771.8 660.4,778.0 661.1,773.5 661.8,775.8 662.5,771.5 663.2,776.1 663.9,771.3 664.6,777.6 665.3,773.2 666.0,777.2 666.7,769.3 667.4,768.2 668.1,762.5 668.8,766.0 669.5,760.9 670.2,765.8 670.9,767.2 671.6,774.5 672.3,771.8 673.0,777.5 673.7,775.9 674.4,784.5 675.1,779.6 675.8,780.8 676.5,770.2 677.2,771.4 677.9,764.9 678.6,768.7 679.3,766.0 680.0,774.9 680.7,770.6 681.4,770.2 682.1,762.6 682.8,767.0 683.5,765.0 684.2,771.2 684.9,768.0 685.6,774.8 686.3,769.3 687.0,773.8 687.7,768.1 688.4,772.7 689.1,769.2 689.8,777.9 690.5,777.4 691.2,780.5 691.9,774.3 692.6,776.2 693.3,767.2 694.0,767.9 694.7,761.9 695.4,766.0 696.1,760.0 696.8,766.9 697.5,767.9 698.2,781.7 698.9,781.8 699.6,784.2 700.3,773.7 701.0,772.5 701.7,764.0 702.4,767.1 703.1,762.9 703.8,768.4 704.5,763.8 705.2,770.9 705.9,769.3 706.6,775.7 707.3,770.9 708.0,770.4 708.7,763.4 709.4,779.0 710.1,784.2 710.8,783.0 711.5,769.8 712.2,770.8 712.9,766.0 713.6,768.8 714.3,765.0 715.0,769.2 715.7,762.8 716.4,767.0 717.1,762.2 717.8,768.9 718.5,771.4 719.2,781.7 719.9,775.3 720.6,777.0 721.3,771.5 722.0,779.0 722.7,775.9 723.4,779.6 724.1,768.2 724.8,766.2 725.5,758.0 726.2,761.8 726.9,762.6 727.6,774.1 728.3,770.7 729.0,773.8 729.7,768.3 730.4,772.9 731.1,769.4 731.8,777.5 732.5,773.7 733.2,776.8 733.9,772.0 734.6,773.4 735.3,764.4 736.0,765.6 736.7,758.1 737.4,761.2 738.1,758.4 738.8,774.2 739.5,778.4 740.2,783.5 740.9,775.5 741.6,777.7 742.3,770.2 743.0,773.9 743.7,766.5 744.4,768.7 745.1,761.7 745.8,765.9 746.5,760.0 747.2,764.2 747.9,761.3 748.6,769.7 749.3,768.6 750.0,777.2 750.7,776.0 751.2,781.1 751.5,782.6 752.0,785.2 752.5,787.5 753.0,788.5 753.0,788.6 753.5,786.0 754.0,779.0 754.5,770.4 754.9,764.5 755.0,763.3 755.5,756.3 756.0,749.4 756.5,744.8 756.7,744.1 757.0,744.1 757.5,744.1 758.0,744.1 758.5,744.1 758.6,744.1 759.0,746.3 759.5,753.9 760.0,763.7 760.4,771.9 760.5,772.4 761.0,781.3 761.5,790.7 762.0,797.3 762.3,798.7 762.5,798.2 763.0,792.3 763.5,783.1 764.0,774.1 764.1,771.9 764.5,767.7 765.0,761.0 765.5,755.7 766.0,753.4 766.0,753.4 766.5,754.0 767.0,755.9 767.5,758.5 767.9,760.8 768.0,761.8 768.5,768.8 769.0,777.9 769.5,785.1 769.7,786.7 770.0,787.8 770.5,789.3 771.0,790.3 771.5,791.3 771.9,792.3 772.0,792.4 772.5,794.0 773.0,795.4 773.4,796.0 773.5,795.9 774.0,793.5 774.5,788.1 775.0,780.4 775.3,775.6 775.5,768.7 776.0,741.6 776.5,722.3 776.6,721.9 777.0,728.4 777.5,742.7 777.9,747.8 778.0,747.6 778.5,744.2 779.0,739.9 779.3,738.6 779.5,739.9 780.0,759.9 780.5,789.9 781.0,811.9 781.2,814.5 781.5,813.1 782.0,806.3 782.5,796.6 783.0,787.5 783.0,786.7 783.5,779.7 784.0,771.2 784.5,763.5 785.0,758.3 785.3,757.1 785.5,756.7 786.0,756.0 786.5,755.5 787.0,755.2 787.1,755.2 787.5,757.3 788.0,764.5 788.5,773.2 789.0,779.3 789.0,779.4 789.5,783.3 790.0,786.7 790.5,789.0 790.8,789.5 791.0,789.1 791.5,784.7 792.0,777.1 792.5,769.0 792.7,766.3 793.0,761.5 793.5,752.3 794.0,744.2 794.5,740.4 794.5,740.4 795.0,740.5 795.5,740.9 796.0,741.6 796.4,742.3 796.5,742.7 797.0,748.6 797.5,758.8 798.0,770.4 798.2,775.6 798.5,781.8 799.0,796.5 799.5,807.5 799.7,808.9 800.0,807.4 800.5,799.5 801.0,789.9 801.2,786.7 801.5,782.6 802.0,775.5 802.5,768.8 803.0,763.5 803.4,760.8 803.5,760.5 804.0,758.7 804.5,757.4 804.9,757.1 805.0,757.1 805.5,758.5 806.0,761.3 806.5,764.7 806.7,766.3 807.0,768.1 807.5,773.2 808.0,778.2 808.5,781.0 808.6,781.1 809.0,780.8 809.5,779.7 810.0,777.8 810.4,775.6 810.5,775.4 811.0,767.4 811.5,754.9 812.0,744.6 812.3,742.3 812.5,742.5 813.0,744.7 813.5,748.3 814.0,752.2 814.1,753.4 814.5,755.4 815.0,758.4 815.5,761.8 816.0,766.1 816.0,766.3 816.5,774.9 817.0,787.7 817.5,798.5 817.9,801.5 818.0,801.3 818.5,796.8 819.0,788.6 819.5,779.7 820.0,772.7 820.1,771.9 820.5,768.6 821.0,765.0 821.5,762.2 821.9,760.8 822.0,760.7 822.5,759.9 823.0,759.3 823.5,759.0 823.8,758.9 824.0,759.1 824.5,760.7 825.0,763.2 825.5,765.7 825.6,766.3 826.0,767.7 826.5,769.6 827.0,771.6 827.5,773.7 828.0,776.6 828.5,779.9 829.0,782.4 829.3,783.0 829.5,782.9 830.0,782.0 830.5,780.1 831.0,777.4 831.5,774.2 831.6,773.7 832.0,767.8 832.5,757.7 833.0,751.6 833.0,751.5 833.5,752.1 834.0,754.0 834.5,756.6 834.9,758.9 835.0,759.5 835.5,763.4 836.0,768.3 836.5,773.3 836.7,775.6 837.0,777.7 837.5,782.7 838.0,787.0 838.5,789.4 838.6,789.5 839.0,788.0 839.5,782.8 840.0,776.6 840.4,771.9 840.5,771.6 841.0,767.6 841.5,763.9 842.0,761.3 842.3,760.8 842.5,760.8 843.0,760.8 843.5,760.8 844.0,760.8 844.1,760.8 844.5,761.0 845.0,762.2 845.5,764.1 846.0,766.3 846.0,766.3 846.5,770.3 847.0,776.4 847.5,781.5 847.9,783.0 848.0,783.0 848.5,783.0 849.0,783.0 849.5,783.0 850.0,783.0 850.5,783.0 850.6,783.0 851.0,782.3 851.5,779.2 852.0,774.9 852.5,770.3 853.0,766.6 853.0,766.3 853.5,763.9 854.0,761.1 854.5,758.8 855.0,757.3 855.3,757.1 855.5,757.2 856.0,758.2 856.5,760.0 857.0,762.1 857.1,762.6 857.5,764.6 858.0,768.2 858.5,772.2 859.0,775.6 859.0,775.7 859.5,779.2 860.0,782.7 860.5,785.2 860.8,785.8 861.0,785.5 861.5,782.6 862.0,777.7 862.5,772.9 863.0,770.1 863.0,770.0 863.5,769.5 864.0,769.2 864.5,769.0 865.0,768.7 865.4,768.2 865.5,768.1 866.0,766.1 866.5,762.6 867.0,758.8 867.5,756.0 867.9,755.2 868.0,755.3 868.5,755.8 869.0,756.9 869.5,758.3 869.7,758.9 870.0,759.8 870.5,761.9 871.0,764.5 871.5,767.4 871.9,770.0 872.0,770.4 872.5,774.6 873.0,779.4 873.5,783.0 873.8,783.9 874.0,784.1 874.5,784.5 875.0,784.7 875.5,784.8 875.6,784.9 876.0,784.2 876.5,781.4 877.0,777.3 877.5,772.9 877.9,770.0 878.0,769.1 878.5,764.9 879.0,760.3 879.5,756.3 880.0,753.8 880.3,753.4 880.5,753.4 881.0,754.1 881.5,755.2 882.0,756.7 882.1,757.1 882.5,758.7 883.0,762.0 883.5,766.1 884.0,770.0 884.0,770.2 884.5,775.3 885.0,781.2 885.5,785.7 885.8,786.7 886.0,786.5 886.5,784.5 887.0,780.9 887.5,776.9 887.7,775.6 888.0,773.0 888.5,767.7 889.0,762.1 889.5,757.6 890.0,755.3 890.1,755.2 890.5,755.5 891.0,756.3 891.5,757.6 891.9,758.9 892.0,759.1 892.5,761.8 893.0,765.7 893.5,769.8 893.8,771.9 894.0,773.3 894.5,777.2 895.0,780.8 895.5,782.9 895.6,783.0 896.0,782.6 896.5,780.8 897.0,778.2 897.5,775.6 898.0,772.4 898.5,768.5 899.0,764.6 899.5,761.6 899.7,760.8 900.0,760.0 900.5,758.8 901.0,757.7 901.5,756.9 902.0,756.3 902.5,756.1 903.0,757.1 903.5,759.3 904.0,762.3 904.3,764.5 904.5,765.5 905.0,770.5 905.5,776.7 906.0,782.4 906.5,786.1 906.7,786.7 907.0,786.4 907.5,784.0 908.0,780.2 908.5,775.8 909.0,771.9 909.0,771.8 909.5,767.4 910.0,762.5 910.5,758.1 911.0,755.5 911.2,755.2 911.5,755.3 912.0,755.6 912.5,756.2 913.0,757.0 913.0,757.1 913.5,758.7 914.0,762.1 914.5,765.7 914.9,768.2 915.0,768.6 915.5,770.8 916.0,772.7 916.5,774.6 916.7,775.6 917.0,776.6 917.5,779.1 918.0,781.6 918.5,783.6 919.0,784.8 919.1,784.9 919.5,783.5 920.0,777.9 920.5,771.1 921.0,766.4 921.0,766.3 921.5,764.4 922.0,763.0 922.5,761.7 922.9,760.8 923.0,760.4 923.5,758.8 924.0,757.2 924.5,756.3 924.7,756.1 925.0,756.7 925.5,759.7 926.0,763.9 926.5,767.7 926.6,768.2 927.0,770.5 927.5,773.1 928.0,775.5 928.4,777.4 928.5,777.8 929.0,780.4 929.5,782.9 930.0,784.6 930.3,784.9 930.5,784.2 931.0,779.5 931.5,772.7 932.0,767.2 932.1,766.3 932.5,764.4 933.0,762.1 933.5,760.5 934.0,759.9 934.0,759.9 934.5,760.5 935.0,761.8 935.5,763.5 935.8,764.5 936.0,764.9 936.5,766.3 937.0,767.7 937.5,769.3 937.7,770.0 938.0,771.8 938.5,775.6 939.0,779.3 939.5,781.1 939.5,781.1 940.0,778.8 940.5,773.3 941.0,768.0 941.4,766.3 941.5,766.4 942.0,767.7 942.5,769.9 943.0,771.6 943.2,771.9 943.5,771.1 944.0,765.8 944.5,757.7 944.5,757.1" fill="none" stroke="#0072BD" stroke-width="4.0" stroke-linejoin="round" stroke-linecap="round"/><rect x="642.8" y="707.1" width="110.2" height="131.5" rx="14" ry="15" fill="#ff0000" fill-opacity="0.16" stroke="#ff0000" stroke-width="2" stroke-dasharray="5.5 2.2"/><path d="M549.5,688.5H945.5V851.5H549.5ZM648.5,851.5v-4.5M648.5,688.5v4.5M747.5,851.5v-4.5M747.5,688.5v4.5M846.5,851.5v-4.5M846.5,688.5v4.5M549.5,770.0h4.5M945.5,770.0h-4.5" fill="none" stroke="#4a4a4a" stroke-width="1"/><text x="541.40" y="890.40">0</text><text x="630.40" y="890.40">20</text><text x="729.60" y="890.40">40</text><text x="827.60" y="890.40">60</text><text x="923.03" y="890.40">80</text><text transform="translate(525.67,706.50) scale(1,1.05)" clip-path="url(#one)">1</text><text x="496.40" y="784.08">0.5</text><text x="520.80" y="869.08">0</text></g>
<g><path d="M1011.6,796.0 1012.0,793.5 1012.5,789.5 1012.8,786.7 1013.0,784.1 1013.5,775.1 1014.0,767.2 1014.1,766.3 1014.5,763.3 1015.0,760.4 1015.5,759.0 1015.6,758.9 1016.0,759.2 1016.5,760.1 1017.0,761.4 1017.4,762.6 1017.5,762.9 1018.0,766.0 1018.5,770.1 1019.0,773.2 1019.3,773.7 1019.5,773.4 1020.0,771.0 1020.5,767.7 1020.7,766.3 1021.0,765.1 1021.5,762.3 1022.0,760.8 1022.0,760.8 1022.5,761.6 1023.0,764.1 1023.3,766.3 1023.5,767.6 1024.0,774.9 1024.5,783.1 1024.8,786.7 1025.0,787.8 1025.5,790.8 1026.0,792.8 1026.3,793.2 1026.5,792.5 1027.0,785.6 1027.5,777.0 1027.6,775.6 1028.0,770.7 1028.5,764.1 1029.0,759.0 1029.4,757.1 1029.5,757.1 1030.0,757.5 1030.5,758.4 1031.0,759.8 1031.3,760.8 1031.5,761.6 1032.0,765.6 1032.5,770.7 1033.0,774.8 1033.1,775.6 1033.5,776.8 1034.0,778.5 1034.5,779.7 1035.0,780.2 1035.0,780.2 1035.5,778.4 1036.0,773.9 1036.5,769.0 1036.9,766.3 1037.0,765.6 1037.5,762.9 1038.0,760.5 1038.5,759.1 1038.7,758.9 1039.0,759.5 1039.5,762.5 1040.0,767.0 1040.5,771.4 1040.6,771.9 1041.0,775.4 1041.5,780.0 1042.0,783.6 1042.4,784.9 1042.5,784.8 1043.0,782.1 1043.5,777.0 1044.0,771.9 1044.3,770.0 1044.5,768.9 1045.0,766.5 1045.5,764.6 1046.0,763.6 1046.1,763.6 1046.5,763.7 1047.0,764.1 1047.5,764.7 1048.0,765.4 1048.0,765.4 1048.5,766.5 1049.0,767.9 1049.5,769.3 1049.8,770.0 1050.0,770.3 1050.5,771.2 1051.0,772.0 1051.5,772.7 1052.0,773.3 1052.5,773.7 1052.6,773.7 1053.0,773.9 1053.5,774.1 1054.0,774.2 1054.5,774.3 1055.0,774.5 1055.4,774.7 1055.5,774.8 1056.0,775.5 1056.5,776.6 1057.0,777.3 1057.2,777.4 1057.5,776.6 1058.0,771.3 1058.5,764.8 1059.0,760.9 1059.1,760.8 1059.5,760.8 1060.0,760.8 1060.5,760.8 1060.9,760.8 1061.0,760.8 1061.5,763.0 1062.0,767.3 1062.5,771.8 1062.8,773.7 1063.0,774.8 1063.5,777.5 1064.0,779.8 1064.5,781.1 1064.6,781.1 1065.0,780.5 1065.5,777.8 1066.0,774.5 1066.5,771.9 1067.0,770.1 1067.5,768.3 1068.0,766.7 1068.5,765.7 1068.9,765.4 1069.0,765.4 1069.5,766.0 1070.0,767.2 1070.5,768.6 1071.0,769.8 1071.1,770.0 1071.5,770.7 1072.0,771.6 1072.5,772.4 1073.0,773.1 1073.5,773.6 1073.9,773.7 1074.0,773.7 1074.5,773.5 1075.0,773.0 1075.5,772.4 1076.0,771.7 1076.5,771.1 1076.7,771.0 1077.0,770.7 1077.5,770.3 1078.0,769.8 1078.5,769.4 1079.0,769.2 1079.4,769.1 1079.5,769.1 1080.0,769.1 1080.5,769.1 1081.0,769.1 1081.5,769.1 1082.0,769.1 1082.2,769.1 1082.5,769.3 1083.0,770.2 1083.5,771.5 1084.0,772.6 1084.1,772.8 1084.5,773.6 1085.0,774.6 1085.5,775.3 1085.9,775.6 1086.0,775.6 1086.5,775.0 1087.0,773.8 1087.5,772.5 1087.8,771.9 1088.0,771.5 1088.5,770.7 1089.0,769.8 1089.5,769.0 1090.0,768.4 1090.5,768.2 1090.6,768.2 1091.0,768.2 1091.5,768.3 1092.0,768.5 1092.5,768.7 1093.0,768.9 1093.3,769.1 1093.5,769.2 1094.0,769.6 1094.5,770.2 1095.0,770.8 1095.5,771.4 1096.0,771.8 1096.1,771.9 1096.5,772.1 1097.0,772.3 1097.5,772.5 1098.0,772.7 1098.5,772.8 1098.9,772.8 1099.0,772.8 1099.5,772.7 1100.0,772.5 1100.5,772.2 1101.0,771.9 1101.5,771.6 1101.7,771.5 1102.0,771.3 1102.5,771.0 1103.0,770.7 1103.5,770.3 1104.0,770.1 1104.4,770.0 1104.5,770.0 1105.0,770.1 1105.5,770.3 1106.0,770.5 1106.5,770.7 1107.0,770.9 1107.2,771.0 1107.5,771.0 1108.0,771.1 1108.5,771.2 1109.0,771.3 1109.5,771.4 1110.0,771.5 1110.5,771.5 1110.9,771.5 1111.0,771.5 1111.5,771.5 1112.0,771.5 1112.5,771.5 1113.0,771.5 1113.5,771.5 1114.0,771.5 1114.5,771.5 1114.6,771.5 1115.0,771.5 1115.5,771.6 1116.0,771.6 1116.5,771.7 1117.0,771.8 1117.5,771.8 1118.0,771.9 1118.3,771.9 1118.5,771.9 1119.0,771.8 1119.5,771.7 1120.0,771.5 1120.5,771.3 1121.0,771.1 1121.5,771.0 1122.0,771.0 1122.0,771.0 1122.5,771.0 1123.0,771.0 1123.5,771.0 1124.0,771.0 1124.5,771.0 1125.0,771.0 1125.5,771.0 1125.7,771.0 1126.0,771.0 1126.5,771.0 1127.0,771.1 1127.5,771.2 1128.0,771.3 1128.5,771.4 1129.0,771.5 1129.4,771.5 1129.5,771.5 1130.0,771.5 1130.5,771.5 1131.0,771.5 1131.5,771.5 1132.0,771.5 1132.5,771.5 1133.0,771.5 1133.1,771.5 1133.5,771.5 1134.0,771.5 1134.5,771.4 1135.0,771.3 1135.5,771.2 1136.0,771.1 1136.5,771.0 1136.9,771.0 1137.0,770.9 1137.5,770.9 1138.0,770.8 1138.5,770.7 1139.0,770.6 1139.5,770.5 1140.0,770.4 1140.5,770.4 1140.6,770.4 1141.0,770.4 1141.5,770.5 1142.0,770.7 1142.5,770.8 1143.0,770.9 1143.5,771.1 1144.0,771.1 1144.3,771.1 1144.5,771.1 1145.0,771.1 1145.5,771.1 1146.0,771.1 1146.5,771.1 1147.0,771.1 1147.5,771.1 1148.0,771.1 1148.0,771.1 1148.5,771.2 1149.0,771.2 1149.5,771.3 1150.0,771.4 1150.5,771.4 1151.0,771.5 1151.5,771.5 1151.7,771.5 1152.0,771.5 1152.5,771.5 1153.0,771.4 1153.5,771.3 1154.0,771.3 1154.5,771.2 1155.0,771.2 1155.4,771.1 1155.5,771.1 1156.0,771.2 1156.5,771.2 1157.0,771.3 1157.5,771.4 1158.0,771.4 1158.5,771.5 1159.0,771.5 1159.1,771.5 1159.5,771.5 1160.0,771.4 1160.5,771.3 1161.0,771.2 1161.5,771.1 1162.0,771.0 1162.5,771.0 1162.8,771.0 1163.0,771.0 1163.5,771.0 1164.0,771.1 1164.5,771.2 1165.0,771.3 1165.5,771.4 1166.0,771.5 1166.5,771.5 1167.0,771.5 1167.5,771.5 1168.0,771.4 1168.5,771.3 1169.0,771.2 1169.5,771.1 1170.0,771.0 1170.2,771.0 1170.5,770.9 1171.0,770.7 1171.5,770.5 1172.0,770.2 1172.5,770.0 1173.0,769.8 1173.5,769.7 1173.9,769.7 1174.0,769.7 1174.5,769.8 1175.0,770.0 1175.5,770.3 1176.0,770.7 1176.5,771.1 1177.0,771.5 1177.5,771.8 1177.6,771.9 1178.0,772.1 1178.5,772.4 1179.0,772.7 1179.5,773.0 1180.0,773.1 1180.4,773.2 1180.5,773.2 1181.0,773.1 1181.5,772.8 1182.0,772.4 1182.5,772.0 1183.0,771.6 1183.1,771.5 1183.5,771.3 1184.0,770.8 1184.5,770.3 1185.0,769.8 1185.5,769.4 1185.9,769.1 1186.0,769.1 1186.5,768.9 1187.0,768.7 1187.5,768.6 1188.0,768.6 1188.1,768.6 1188.5,768.6 1189.0,768.8 1189.5,769.2 1190.0,769.6 1190.5,770.0 1190.6,770.0 1191.0,770.3 1191.5,770.7 1192.0,771.1 1192.5,771.5 1193.0,771.8 1193.3,771.9 1193.5,771.9 1194.0,772.0 1194.5,772.1 1195.0,772.2 1195.5,772.2 1196.0,772.3 1196.1,772.3 1196.5,772.2 1197.0,771.8 1197.5,771.3 1198.0,770.8 1198.5,770.3 1198.9,770.0 1199.0,770.0 1199.5,769.8 1200.0,769.5 1200.5,769.3 1201.0,769.2 1201.5,769.1 1201.7,769.1 1202.0,769.1 1202.5,769.3 1203.0,769.5 1203.5,769.8 1204.0,770.1 1204.4,770.4 1204.5,770.4 1205.0,770.9 1205.5,771.4 1206.0,771.9 1206.5,772.2 1206.7,772.3 1207.0,772.2 1207.5,772.1 1208.0,772.0 1208.5,771.9 1209.0,772.2 1209.5,772.9 1210.0,773.6 1210.3,773.7 1210.5,773.7 1211.0,772.6 1211.5,770.8 1212.0,769.1 1212.5,768.2 1212.6,768.2 1213.0,768.3 1213.5,768.5 1214.0,768.8 1214.5,769.3 1215.0,769.7 1215.3,770.0 1215.5,770.2 1216.0,770.9 1216.5,771.8 1217.0,772.6 1217.5,773.4 1218.0,773.7 1218.1,773.7 1218.5,773.6 1219.0,773.1 1219.5,772.3 1220.0,771.4 1220.5,770.6 1220.9,770.0 1221.0,769.9 1221.5,769.3 1222.0,768.6 1222.5,768.0 1223.0,767.5 1223.5,767.3 1223.7,767.3 1224.0,767.3 1224.5,767.6 1225.0,768.1 1225.5,768.7 1226.0,769.4 1226.4,770.0 1226.5,770.1 1227.0,771.0 1227.5,772.3 1228.0,773.7 1228.5,774.8 1229.0,775.5 1229.2,775.6 1229.5,775.4 1230.0,774.4 1230.5,772.8 1231.0,771.1 1231.5,769.7 1232.0,769.1 1232.0,769.1 1232.5,769.2 1233.0,769.4 1233.5,769.6 1234.0,769.9 1234.5,770.0 1234.8,770.0 1235.0,770.0 1235.5,769.9 1236.0,769.7 1236.5,769.4 1237.0,769.2 1237.5,769.1 1237.6,769.1 1238.0,769.3 1238.5,769.7 1239.0,770.4 1239.5,771.1 1240.0,771.6 1240.3,771.9 1240.5,772.0 1241.0,772.2 1241.5,772.3 1242.0,772.4 1242.5,772.6 1243.0,772.8 1243.1,772.8 1243.5,773.0 1244.0,773.4 1244.5,773.9 1245.0,774.3 1245.5,774.6 1245.9,774.7 1246.0,774.6 1246.5,773.2 1247.0,770.8 1247.5,768.7 1247.7,768.2 1248.0,768.0 1248.5,767.6 1249.0,767.4 1249.5,767.3 1249.6,767.3 1250.0,767.5 1250.5,768.4 1251.0,769.6 1251.5,770.8 1252.0,771.6 1252.4,771.9 1252.5,771.9 1253.0,771.5 1253.5,770.9 1254.0,770.2 1254.5,769.5 1255.0,769.1 1255.1,769.1 1255.5,769.1 1256.0,769.1 1256.5,769.1 1257.0,769.1 1257.5,769.1 1257.9,769.1 1258.0,769.1 1258.5,769.2 1259.0,769.5 1259.5,769.8 1260.0,770.2 1260.5,770.7 1260.7,771.0 1261.0,771.4 1261.5,772.6 1262.0,774.2 1262.5,775.8 1263.0,777.0 1263.5,777.4 1264.0,775.8 1264.5,772.4 1265.0,769.2 1265.3,768.2 1265.5,768.1 1266.0,767.8 1266.5,767.6 1267.0,767.4 1267.5,767.3 1268.0,767.3 1268.1,767.3 1268.5,767.3 1269.0,767.4 1269.5,767.6 1270.0,767.8 1270.5,768.0 1270.9,768.2 1271.0,768.2 1271.5,768.4 1272.0,768.5 1272.5,768.7 1273.0,768.8 1273.5,769.0 1273.7,769.1 1274.0,769.3 1274.5,769.8 1275.0,770.3 1275.5,770.9 1276.0,771.5 1276.4,771.9 1276.5,771.9 1277.0,772.3 1277.5,772.6 1278.0,772.8 1278.5,773.2 1279.0,773.5 1279.2,773.7 1279.5,774.1 1280.0,775.0 1280.5,776.0 1281.0,776.5 1281.1,776.5 1281.5,775.6 1282.0,772.8 1282.5,769.8 1282.9,768.2 1283.0,768.1 1283.5,767.3 1284.0,766.7 1284.5,766.4 1284.8,766.3 1285.0,766.4 1285.5,766.8 1286.0,767.4 1286.5,768.2 1287.0,768.8 1287.5,769.1 1287.6,769.1 1288.0,769.0 1288.5,768.6 1289.0,768.1 1289.5,767.7 1290.0,767.3 1290.3,767.3 1290.5,767.3 1291.0,767.6 1291.5,768.4 1292.0,769.4 1292.5,770.5 1293.0,771.6 1293.1,771.9 1293.5,772.9 1294.0,774.7 1294.5,776.7 1295.0,778.6 1295.5,779.8 1295.9,780.2 1296.0,780.1 1296.5,777.5 1297.0,772.8 1297.5,767.8 1298.0,764.7 1298.1,764.5 1298.5,764.2 1299.0,763.9 1299.5,763.7 1300.0,763.6 1300.5,763.6 1300.5,763.6 1301.0,763.6 1301.5,763.7 1302.0,763.8 1302.5,764.0 1303.0,764.3 1303.3,764.5 1303.5,764.7 1304.0,766.4 1304.5,769.1 1305.0,772.4 1305.5,775.5 1306.0,778.0 1306.1,778.4 1306.5,779.8 1307.0,781.7 1307.5,783.3 1308.0,784.4 1308.5,784.9 1309.0,782.3 1309.5,776.3 1310.0,769.0 1310.5,762.7 1310.7,760.8 1311.0,758.8 1311.5,755.4 1312.0,752.4 1312.5,750.3 1312.9,749.7 1313.0,749.7 1313.5,752.0 1314.0,756.6 1314.4,760.8 1314.5,761.5 1315.0,768.1 1315.5,774.7 1315.9,777.4 1316.0,777.6 1316.5,778.2 1317.0,778.6 1317.5,778.9 1318.0,779.2 1318.1,779.3 1318.5,779.6 1319.0,780.2 1319.5,780.7 1320.0,781.1 1320.3,781.1 1320.5,781.0 1321.0,779.2 1321.5,775.8 1322.0,771.8 1322.5,767.9 1322.7,766.3 1323.0,765.0 1323.5,762.0 1324.0,759.3 1324.5,757.4 1324.6,757.1 1325.0,756.2 1325.5,755.2 1326.0,754.5 1326.4,754.3 1326.5,754.3 1327.0,762.4 1327.5,777.8 1328.0,791.1 1328.3,794.1 1328.5,793.5 1329.0,787.6 1329.5,778.4 1330.0,770.1 1330.1,768.2 1330.5,765.0 1331.0,760.3 1331.5,756.7 1332.0,755.2 1332.0,755.2 1332.5,755.4 1333.0,755.8 1333.5,756.4 1333.9,757.1 1334.0,757.6 1334.5,764.2 1335.0,774.4 1335.5,783.9 1335.7,786.7 1336.0,789.4 1336.5,794.2 1337.0,797.9 1337.5,799.6 1337.6,799.7 1338.0,788.5 1338.5,759.3 1338.9,738.6 1339.0,732.1 1339.5,703.8 1340.0,689.5 1340.0,689.5 1340.5,701.8 1341.0,726.0 1341.3,738.6 1341.5,748.4 1342.0,775.1 1342.5,800.4 1343.0,814.7 1343.1,815.4 1343.5,812.9 1344.0,803.8 1344.5,792.8 1345.0,784.9 1345.0,784.7 1345.5,779.8 1346.0,775.7 1346.5,772.2 1346.8,770.0 1347.0,769.0 1347.5,765.8 1348.0,763.0 1348.5,761.1 1348.7,760.8 1349.0,760.4 1349.5,759.8 1350.0,759.4 1350.5,759.1 1351.0,758.9 1351.1,758.9 1351.5,759.0 1352.0,759.3 1352.5,759.8 1353.0,760.4 1353.3,760.8 1353.5,761.0 1354.0,761.8 1354.5,762.8 1355.0,764.0 1355.1,764.5 1355.5,765.4 1356.0,767.1 1356.5,769.2 1357.0,771.8 1357.0,771.9 1357.5,777.1 1358.0,784.1 1358.5,787.6 1359.0,786.1 1359.5,782.8 1360.0,779.2 1360.3,777.4 1360.5,777.0 1361.0,775.6 1361.5,774.5 1362.0,773.4 1362.5,772.1 1362.6,771.9 1363.0,770.3 1363.5,768.2 1364.0,766.0 1364.4,764.5 1364.5,764.3 1365.0,762.7 1365.5,761.2 1366.0,760.2 1366.3,759.9 1366.5,759.7 1367.0,759.4 1367.5,759.1 1368.0,759.0 1368.5,758.9 1369.0,759.3 1369.5,760.3 1370.0,761.7 1370.5,763.2 1370.9,764.5 1371.0,764.8 1371.5,766.5 1372.0,768.7 1372.5,770.9 1373.0,773.1 1373.5,775.0 1373.7,775.6 1374.0,776.6 1374.5,778.3 1375.0,779.8 1375.5,780.8 1375.9,781.1 1376.0,781.1 1376.5,780.4 1377.0,778.9 1377.5,777.0 1378.0,774.9 1378.3,773.7 1378.5,773.0 1379.0,770.8 1379.5,768.4 1380.0,766.7 1380.1,766.3 1380.5,765.8 1381.0,765.1 1381.5,764.7 1382.0,764.5 1382.0,764.5 1382.5,764.6 1383.0,765.0 1383.5,765.3 1383.9,765.4 1384.0,765.4 1384.5,765.2 1385.0,764.8 1385.5,764.5 1385.7,764.5 1386.0,764.6 1386.5,765.4 1387.0,766.6 1387.5,768.0 1387.6,768.2 1388.0,769.9 1388.5,772.7 1389.0,775.6 1389.4,777.4 1389.5,777.7 1390.0,779.4 1390.5,780.9 1391.0,781.9 1391.3,782.1 1391.5,781.8 1392.0,779.5 1392.5,776.0 1393.0,772.6 1393.1,771.9 1393.5,769.8 1394.0,766.9 1394.5,764.5 1395.0,763.6 1395.0,763.6 1395.5,763.6 1396.0,763.9 1396.5,764.2 1396.8,764.5 1397.0,764.6 1397.5,765.5 1398.0,766.6 1398.5,767.8 1398.7,768.2 1399.0,769.0 1399.5,770.4 1400.0,771.9 1400.5,773.1 1401.0,773.7 1401.1,773.7 1401.5,773.4 1402.0,772.3 1402.5,770.9 1403.0,769.6 1403.3,769.1 1403.5,768.9 1404.0,768.3 1404.5,767.8 1405.0,767.5 1405.4,767.3 1405.4,767.3" fill="none" stroke="#0072BD" stroke-width="3.2" stroke-linejoin="round" stroke-linecap="round"/><rect x="1105.4" y="707.1" width="211.2" height="131.5" rx="14" ry="15" fill="#ff0000" fill-opacity="0.16" stroke="#ff0000" stroke-width="2" stroke-dasharray="5.5 2.2"/><path d="M1011.5,689.5H1405.5V852.5H1011.5ZM1110.0,852.5v-4.5M1110.0,689.5v4.5M1208.5,852.5v-4.5M1208.5,689.5v4.5M1307.0,852.5v-4.5M1307.0,689.5v4.5M1011.5,771.0h4.5M1405.5,771.0h-4.5" fill="none" stroke="#4a4a4a" stroke-width="1"/><text x="1002.30" y="890.40">0</text><text x="1091.40" y="890.40">20</text><text x="1190.30" y="890.40">40</text><text x="1288.50" y="890.40">60</text><text x="1383.62" y="890.40">80</text><text transform="translate(986.27,704.90) scale(1,1.05)" clip-path="url(#one)">1</text><text x="957.60" y="781.77">0.5</text><text x="982.20" y="868.67">0</text></g>
<g><path d="M1471.9,836.7 1472.4,847.3 1472.9,851.6 1473.3,852.4 1473.4,852.4 1473.9,844.5 1474.4,826.6 1474.9,805.9 1475.2,794.1 1475.4,789.0 1475.9,772.9 1476.4,756.8 1476.9,742.2 1477.4,730.4 1477.4,729.3 1477.9,721.1 1478.4,712.8 1478.9,705.7 1479.4,700.1 1479.6,697.8 1479.9,696.2 1480.4,692.7 1480.9,690.0 1481.4,689.0 1481.5,689.0 1481.9,689.7 1482.4,694.5 1482.9,702.0 1483.3,710.8 1483.4,711.1 1483.9,729.0 1484.4,754.6 1484.8,775.6 1484.9,776.9 1485.4,794.5 1485.9,810.6 1486.4,824.3 1486.7,831.1 1486.9,834.8 1487.4,844.4 1487.9,851.1 1488.1,852.4 1488.4,850.7 1488.9,836.0 1489.4,816.0 1489.4,812.6 1489.9,797.5 1490.4,777.1 1490.9,756.2 1491.3,738.6 1491.4,736.4 1491.9,713.8 1492.2,705.2 1492.4,705.1 1492.9,704.6 1493.4,704.3 1493.7,704.3 1493.9,704.4 1494.4,705.7 1494.9,707.0 1495.0,707.1 1495.4,705.3 1495.9,698.9 1496.4,691.9 1496.9,689.0 1497.4,691.7 1497.9,700.0 1498.4,711.3 1498.7,720.0 1498.9,724.5 1499.4,746.7 1499.9,770.2 1500.0,775.6 1500.4,786.5 1500.9,800.5 1501.4,812.4 1501.9,821.9 1502.4,830.2 1502.9,837.8 1503.4,842.9 1503.7,844.1 1503.9,843.7 1504.4,837.9 1504.9,827.7 1505.4,816.6 1505.6,812.6 1505.9,807.0 1506.4,796.7 1506.9,786.1 1507.4,776.2 1507.9,767.9 1508.0,766.3 1508.4,761.3 1508.9,755.3 1509.4,750.0 1509.9,745.6 1510.4,742.4 1510.4,742.3 1510.9,739.8 1511.4,737.6 1511.9,736.2 1512.2,735.8 1512.4,735.9 1512.9,737.4 1513.4,740.1 1513.9,743.0 1514.1,744.1 1514.4,745.2 1514.9,747.1 1515.4,748.9 1515.9,751.0 1516.3,753.4 1516.4,753.7 1516.9,758.4 1517.4,764.9 1517.9,771.7 1518.4,777.7 1518.5,779.3 1518.9,782.2 1519.4,786.5 1519.9,790.0 1520.4,792.2 1520.4,792.3 1520.9,793.4 1521.4,794.5 1521.9,795.3 1522.4,795.8 1522.8,796.0 1522.9,795.9 1523.4,792.8 1523.9,787.1 1524.4,781.4 1524.6,779.3 1524.9,778.1 1525.4,775.6 1525.9,773.5 1526.4,772.1 1526.5,771.9 1526.9,771.4 1527.4,771.1 1527.9,770.7 1528.3,770.0 1528.4,770.0 1528.9,766.2 1529.4,759.9 1529.6,757.1 1529.9,755.1 1530.4,750.5 1530.9,746.1 1531.4,742.5 1531.9,740.6 1532.0,740.4 1532.4,741.2 1532.9,745.2 1533.4,750.9 1533.9,756.7 1533.9,757.1 1534.4,763.2 1534.9,771.1 1535.4,777.4 1535.7,779.3 1535.9,779.2 1536.4,776.5 1536.9,772.1 1537.4,768.7 1537.6,768.2 1537.9,768.3 1538.4,769.1 1538.9,770.3 1539.4,771.6 1539.4,771.9 1539.9,773.5 1540.4,776.1 1540.9,778.4 1541.3,779.3 1541.4,779.3 1541.9,777.7 1542.4,774.8 1542.9,772.4 1543.1,771.9 1543.4,772.0 1543.9,773.1 1544.4,774.5 1544.9,775.5 1545.0,775.6 1545.4,774.8 1545.9,771.9 1546.4,768.4 1546.9,766.3 1546.9,766.3 1547.4,765.6 1547.9,764.9 1548.4,764.6 1548.7,764.5 1548.9,764.7 1549.4,767.6 1549.9,772.6 1550.4,777.7 1550.6,779.3 1550.9,781.5 1551.4,785.5 1551.9,788.8 1552.4,790.4 1552.4,790.4 1552.9,789.2 1553.4,786.0 1553.9,782.0 1554.3,779.3 1554.4,778.8 1554.9,775.8 1555.4,772.9 1555.9,770.7 1556.1,770.0 1556.4,769.7 1556.9,769.2 1557.4,768.9 1557.9,768.4 1558.0,768.2 1558.4,767.0 1558.9,764.3 1559.4,761.8 1559.8,760.8 1559.9,760.8 1560.4,761.2 1560.9,762.3 1561.4,763.6 1561.7,764.5 1561.9,765.1 1562.4,767.5 1562.9,770.1 1563.4,771.8 1563.5,771.9 1563.9,771.1 1564.4,768.0 1564.9,764.4 1565.4,762.6 1565.4,762.6 1565.9,762.8 1566.4,763.3 1566.9,763.9 1567.2,764.5 1567.4,764.7 1567.9,766.1 1568.4,768.2 1568.9,770.5 1569.4,772.9 1569.9,775.1 1570.0,775.6 1570.4,776.9 1570.9,778.9 1571.4,780.8 1571.9,782.5 1572.4,783.6 1572.8,783.9 1572.9,783.9 1573.4,783.3 1573.9,781.9 1574.4,780.2 1574.6,779.3 1574.9,778.5 1575.4,776.0 1575.9,773.1 1576.4,770.4 1576.9,768.6 1577.0,768.2 1577.4,767.8 1577.9,767.2 1578.4,766.7 1578.9,766.4 1579.3,766.3 1579.4,766.4 1579.9,768.1 1580.4,771.0 1580.9,773.3 1581.1,773.7 1581.4,773.4 1581.9,770.9 1582.4,767.2 1582.9,764.0 1583.3,762.6 1583.4,762.6 1583.9,762.8 1584.4,763.3 1584.9,763.9 1585.2,764.5 1585.4,764.9 1585.9,767.3 1586.4,770.8 1586.9,774.7 1587.4,778.1 1587.6,779.3 1587.9,780.5 1588.4,782.7 1588.9,784.9 1589.4,786.8 1589.9,788.1 1590.4,788.6 1590.4,788.6 1590.9,787.1 1591.4,783.3 1591.9,778.7 1592.2,775.6 1592.4,774.5 1592.9,769.6 1593.4,764.5 1593.9,761.2 1594.1,760.8 1594.4,760.9 1594.9,761.4 1595.4,762.4 1595.9,763.5 1596.3,764.5 1596.4,764.6 1596.9,766.3 1597.4,768.3 1597.9,769.7 1598.1,770.0 1598.4,769.9 1598.9,768.7 1599.4,766.7 1599.9,764.4 1600.4,762.3 1600.9,761.0 1601.1,760.8 1601.4,760.8 1601.9,761.3 1602.4,762.1 1602.9,763.3 1603.3,764.5 1603.4,764.5 1603.9,766.7 1604.4,770.0 1604.9,773.5 1605.2,775.6 1605.4,776.5 1605.9,779.7 1606.4,782.7 1606.9,785.3 1607.4,786.6 1607.4,786.7 1607.9,787.1 1608.4,787.4 1608.9,787.6 1609.3,787.6 1609.4,787.5 1609.9,784.8 1610.4,779.6 1610.9,774.1 1611.1,771.9 1611.4,770.0 1611.9,765.7 1612.4,761.9 1612.9,759.9 1613.0,759.9 1613.4,760.1 1613.9,760.8 1614.4,761.9 1614.9,763.2 1615.4,764.4 1615.4,764.5 1615.9,766.0 1616.4,768.0 1616.9,769.6 1617.2,770.0 1617.4,769.9 1617.9,766.6 1618.4,761.5 1618.9,757.6 1619.1,757.1 1619.4,757.2 1619.9,758.3 1620.4,760.1 1620.9,762.3 1620.9,762.6 1621.4,766.4 1621.9,774.1 1622.4,782.6 1622.9,789.5 1623.3,792.3 1623.4,792.3 1623.9,790.7 1624.4,786.9 1624.9,782.1 1625.4,777.3 1625.6,775.6 1625.9,773.1 1626.4,768.3 1626.9,763.8 1627.4,761.0 1627.4,760.8 1627.9,759.8 1628.4,759.0 1628.9,758.4 1629.4,757.7 1629.6,757.1 1629.9,756.4 1630.4,754.0 1630.9,751.2 1631.4,748.6 1631.9,747.0 1632.0,746.9 1632.4,748.3 1632.9,755.2 1633.4,765.0 1633.9,774.9 1633.9,775.6 1634.4,785.9 1634.9,799.1 1635.4,809.5 1635.7,812.6 1635.9,812.6 1636.4,811.0 1636.9,807.9 1637.4,803.7 1637.6,801.5 1637.9,798.4 1638.4,788.9 1638.9,777.7 1639.4,767.8 1639.4,766.3 1639.9,760.6 1640.4,754.3 1640.9,748.7 1641.3,744.1 1641.4,743.5 1641.9,738.0 1642.4,732.7 1642.9,729.1 1643.1,728.4 1643.4,728.7 1643.9,731.6 1644.4,736.6 1644.9,742.4 1645.0,744.1 1645.4,748.7 1645.9,756.7 1646.4,766.0 1646.9,775.6 1646.9,775.6 1647.4,787.6 1647.9,802.2 1648.4,816.2 1648.9,826.3 1649.3,829.3 1649.4,829.2 1649.9,826.9 1650.4,822.0 1650.9,815.9 1651.1,812.6 1651.4,809.0 1651.9,798.8 1652.4,787.2 1652.9,777.3 1653.0,775.6 1653.4,769.8 1653.9,762.6 1654.4,757.2 1654.8,755.2 1654.9,755.2 1655.4,755.2 1655.9,755.2 1656.4,755.2 1656.9,755.2 1657.0,755.2 1657.4,755.0 1657.9,754.1 1658.4,753.0 1658.9,752.4 1658.9,752.4 1659.4,752.5 1659.9,752.6 1660.4,752.7 1660.9,752.9 1661.4,753.2 1661.7,753.4 1661.9,753.8 1662.4,757.9 1662.9,764.8 1663.4,772.9 1663.5,775.6 1663.9,782.9 1664.4,798.1 1664.9,812.4 1665.4,819.1 1665.4,819.1 1665.9,813.3 1666.4,799.3 1666.9,783.9 1667.2,775.6 1667.4,773.5 1667.9,765.3 1668.4,758.1 1668.9,753.9 1669.1,753.4 1669.4,754.0 1669.9,757.6 1670.4,761.9 1670.9,764.4 1670.9,764.5 1671.4,763.5 1671.9,760.6 1672.4,756.8 1672.9,753.0 1673.4,750.3 1673.7,749.7 1673.9,750.2 1674.4,757.4 1674.9,767.2 1675.3,771.9 1675.4,771.9 1675.9,768.0 1676.4,762.1 1676.6,760.8 1676.9,760.9 1677.4,762.1 1677.9,764.1 1677.9,764.5 1678.4,769.8 1678.9,781.2 1679.4,793.0 1679.4,794.1 1679.9,804.3 1680.4,816.0 1680.9,821.9 1680.9,821.9 1681.4,819.0 1681.9,811.3 1682.4,801.4 1682.7,794.1 1682.9,792.1 1683.4,780.6 1683.9,768.3 1684.4,759.2 1684.6,757.1 1684.9,756.0 1685.4,754.6 1685.9,753.6 1686.4,752.7 1686.8,751.5 1686.9,751.4 1687.4,749.2 1687.9,746.4 1688.4,743.9 1688.9,742.4 1689.0,742.3 1689.4,742.8 1689.9,745.2 1690.4,748.6 1690.5,749.7 1690.9,752.0 1691.4,756.0 1691.9,760.8 1692.4,766.1 1692.4,766.3 1692.9,772.8 1693.4,781.0 1693.9,789.0 1694.2,794.1 1694.4,795.7 1694.9,802.4 1695.4,808.8 1695.9,813.8 1696.4,816.3 1696.4,816.3 1696.9,814.6 1697.4,808.9 1697.9,801.1 1698.3,794.1 1698.4,793.2 1698.9,782.5 1699.4,770.0 1699.9,760.8 1700.1,758.9 1700.4,758.9 1700.9,758.9 1701.4,758.9 1701.6,758.9 1701.9,759.3 1702.4,761.6 1702.9,764.0 1703.1,764.5 1703.4,764.0 1703.9,761.1 1704.4,757.4 1704.4,757.1 1704.9,753.8 1705.4,749.5 1705.9,746.1 1706.3,745.0 1706.4,745.1 1706.9,747.0 1707.4,750.8 1707.9,755.1 1708.1,757.1 1708.4,759.0 1708.9,763.6 1709.4,768.2 1709.9,771.5 1710.0,771.9 1710.4,772.9 1710.9,773.7 1711.4,774.4 1711.8,775.6 1711.9,775.7 1712.4,779.3 1712.9,784.9 1713.4,790.9 1713.7,794.1 1713.9,795.9 1714.4,801.0 1714.9,804.2 1715.0,804.3 1715.4,802.2 1715.9,795.1 1716.4,786.2 1716.8,779.3 1716.9,778.9 1717.4,772.4 1717.9,766.1 1718.4,761.7 1718.7,760.8 1718.9,760.8 1719.4,760.8 1719.9,760.8 1720.4,760.8 1720.5,760.8 1720.9,760.6 1721.4,759.6 1721.9,758.3 1722.4,757.1 1722.4,757.1 1722.9,755.9 1723.4,754.6 1723.9,753.6 1724.2,753.4 1724.4,753.4 1724.9,754.9 1725.4,757.6 1725.9,761.0 1726.1,762.6 1726.4,765.1 1726.9,771.5 1727.4,778.6 1727.9,784.3 1727.9,784.9 1728.4,788.1 1728.9,791.8 1729.4,794.9 1729.9,797.0 1730.3,797.8 1730.4,797.8 1730.9,796.2 1731.4,792.4 1731.9,787.8 1732.2,784.9 1732.4,783.4 1732.9,778.0 1733.4,772.3 1733.9,767.6 1734.0,766.3 1734.4,764.6 1734.9,761.8 1735.4,759.5 1735.9,757.9 1736.4,757.1 1736.4,757.1 1736.9,757.4 1737.4,758.6 1737.9,759.9 1738.3,760.8 1738.4,760.8 1738.9,761.3 1739.4,761.6 1739.9,761.9 1740.4,762.4 1740.5,762.6 1740.9,763.4 1741.4,765.6 1741.9,768.5 1742.4,771.8 1742.4,771.9 1742.9,776.2 1743.4,781.9 1743.9,787.4 1744.2,790.4 1744.4,791.2 1744.9,794.3 1745.4,797.0 1745.9,798.6 1746.1,798.7 1746.4,798.2 1746.9,795.2 1747.4,790.6 1747.9,785.5 1747.9,784.9 1748.4,780.0 1748.9,772.9 1749.4,766.4 1749.8,762.6 1749.9,762.2 1750.4,759.4 1750.9,757.0 1751.4,755.2 1751.9,754.3 1752.0,754.3 1752.4,754.5 1752.9,755.2 1753.4,756.1 1753.9,757.1 1753.9,757.1 1754.4,758.1 1754.9,759.2 1755.4,760.2 1755.7,760.8 1755.9,761.0 1756.4,761.5 1756.9,762.0 1757.4,762.4 1757.6,762.6 1757.9,762.9 1758.4,763.3 1758.9,763.7 1759.4,764.4 1759.4,764.5 1759.9,767.1 1760.4,773.0 1760.9,780.0 1761.3,784.9 1761.4,785.8 1761.9,791.6 1762.4,797.7 1762.9,803.0 1763.4,806.4 1763.7,807.1 1763.9,806.7 1764.4,802.4 1764.9,795.4 1765.4,788.5 1765.5,786.7 1765.9,783.2 1766.4,777.8 1766.9,773.1 1767.4,770.1 1767.4,770.0 1767.9,768.8 1768.4,768.0 1768.9,767.2 1769.2,766.3 1769.4,766.0 1769.9,764.1 1770.4,761.8 1770.9,759.7 1771.1,758.9 1771.4,758.0 1771.9,756.4 1772.4,755.0 1772.9,754.3 1772.9,754.3 1773.4,754.8 1773.9,756.3 1774.4,757.9 1774.8,758.9 1774.9,759.0 1775.4,759.6 1775.9,760.0 1776.4,760.4 1776.6,760.8 1776.9,761.2 1777.4,762.3 1777.9,763.8 1778.4,765.8 1778.5,766.3 1778.9,768.7 1779.4,773.8 1779.9,779.8 1780.4,785.6 1780.9,790.2 1780.9,790.4 1781.4,793.6 1781.9,796.9 1782.4,799.6 1782.9,801.3 1783.1,801.5 1783.4,801.1 1783.9,798.1 1784.4,793.2 1784.9,787.8 1785.0,786.7 1785.4,781.8 1785.9,773.8 1786.4,766.5 1786.8,762.6 1786.9,762.5 1787.4,760.8 1787.9,759.5 1788.4,758.5 1788.9,758.0 1789.0,758.0 1789.4,758.0 1789.9,758.2 1790.4,758.4 1790.9,758.6 1791.4,758.9 1791.4,758.9 1791.9,759.1 1792.4,759.5 1792.9,759.8 1793.4,760.3 1793.9,760.8 1793.9,760.8 1794.4,761.4 1794.9,762.2 1795.4,763.4 1795.7,764.5 1795.9,765.2 1796.4,770.2 1796.9,777.4 1797.4,784.4 1797.6,786.7 1797.9,789.8 1798.4,795.4 1798.9,800.5 1799.4,804.1 1799.8,805.2 1799.9,805.2 1800.4,803.1 1800.9,798.6 1801.4,793.3 1801.6,790.4 1801.9,787.9 1802.4,781.0 1802.9,773.6 1803.4,767.5 1803.5,766.3 1803.9,763.3 1804.4,759.6 1804.9,756.8 1805.3,755.2 1805.4,755.2 1805.9,754.5 1806.4,753.9 1806.9,753.6 1807.2,753.4 1807.4,753.3 1807.9,753.0 1808.4,752.8 1808.9,752.6 1809.4,752.5 1809.9,752.4 1810.0,752.4 1810.4,752.6 1810.9,753.2 1811.4,754.1 1811.8,755.2 1811.9,755.3 1812.4,757.8 1812.9,762.2 1813.4,767.8 1813.7,771.9 1813.9,775.0 1814.4,787.6 1814.9,799.7 1815.0,801.5 1815.4,806.9 1815.9,813.1 1816.4,817.6 1816.8,819.1 1816.9,819.1 1817.4,817.3 1817.9,813.0 1818.4,807.2 1818.7,803.4 1818.9,800.5 1819.4,788.6 1819.9,774.7 1820.4,764.4 1820.5,762.6 1820.9,760.4 1821.4,757.6 1821.9,756.2 1822.0,756.1 1822.4,756.7 1822.9,758.4 1823.4,759.8 1823.5,759.9 1823.9,759.2 1824.4,757.1 1824.9,754.7 1825.3,753.4 1825.4,753.4 1825.9,753.0 1826.4,752.7 1826.9,752.5 1827.4,752.5 1827.6,752.4 1827.9,752.5 1828.4,753.0 1828.9,753.9 1829.4,755.1 1829.4,755.2 1829.9,757.6 1830.4,762.7 1830.9,769.4 1831.3,775.6 1831.4,777.2 1831.9,789.9 1832.4,804.5 1832.7,812.6 1832.9,814.2 1833.4,821.0 1833.9,825.2 1834.0,825.6 1834.4,823.4 1834.9,813.1 1835.4,798.8 1835.9,785.6 1835.9,784.9 1836.4,774.5 1836.9,763.1 1837.4,753.2 1837.7,747.8 1837.9,746.6 1838.4,741.6 1838.9,737.1 1839.4,733.6 1839.9,731.5 1840.1,731.1 1840.4,731.2 1840.9,731.4 1841.4,731.7 1841.9,731.9 1842.4,732.1 1842.4,732.1 1842.9,732.1 1843.4,732.1 1843.9,732.1 1844.4,732.1 1844.6,732.1 1844.9,733.1 1845.4,739.8 1845.9,750.8 1846.4,763.9 1846.4,766.3 1846.9,783.3 1847.4,813.4 1847.9,840.8 1848.3,851.5 1848.4,851.6 1848.9,852.5 1849.4,853.0 1849.9,853.2 1850.1,853.2 1850.4,852.0 1850.9,839.3 1851.4,819.3 1851.9,799.1 1852.0,794.1 1852.4,782.3 1852.9,764.4 1853.4,748.5 1853.9,738.6 1853.9,738.6 1854.4,734.0 1854.9,730.9 1855.4,728.1 1855.7,725.6 1855.9,724.2 1856.4,718.1 1856.9,711.7 1857.4,707.5 1857.6,707.1 1857.9,707.3 1858.4,708.5 1858.9,710.4 1859.4,712.4 1859.4,712.6 1859.9,714.2 1860.4,716.2 1860.9,718.9 1861.3,721.9 1861.4,722.8 1861.9,733.0 1862.4,748.8 1862.9,766.7 1863.1,775.6 1863.4,784.6 1863.9,807.8 1864.4,830.5 1864.9,844.7 1865.0,846.0 1865.4,848.6 1865.9,851.2 1866.4,852.8 1866.8,853.2 1866.9,853.2 1867.4,844.6 1867.9,825.9 1868.4,805.0 1868.7,794.1 1868.9,788.5 1869.4,772.4 1869.9,756.3 1870.4,742.2 1870.9,732.0 1871.1,729.3 1871.4,726.7 1871.9,722.5 1872.4,719.0 1872.9,716.6 1873.4,715.5 1873.5,715.4 1873.9,715.4 1874.4,715.6 1874.9,716.2 1875.3,717.3" fill="none" stroke="#0072BD" stroke-width="3.2" stroke-linejoin="round" stroke-linecap="round"/><rect x="1522.2" y="707.1" width="91.3" height="131.5" rx="14" ry="15" fill="#ff0000" fill-opacity="0.16" stroke="#ff0000" stroke-width="2" stroke-dasharray="5.5 2.2"/><rect x="1678.5" y="707.1" width="128.3" height="131.5" rx="14" ry="15" fill="#ff0000" fill-opacity="0.16" stroke="#ff0000" stroke-width="2" stroke-dasharray="5.5 2.2"/><path d="M1471.5,689.5H1875.5V853.5H1471.5ZM1572.5,853.5v-4.5M1572.5,689.5v4.5M1673.5,853.5v-4.5M1673.5,689.5v4.5M1774.5,853.5v-4.5M1774.5,689.5v4.5M1471.5,771.5h4.5M1875.5,771.5h-4.5" fill="none" stroke="#4a4a4a" stroke-width="1"/><text x="1464.10" y="890.40">0</text><text x="1554.90" y="890.40">20</text><text x="1655.50" y="890.40">40</text><text x="1755.30" y="890.40">60</text><text x="1850.62" y="890.40">80</text><text transform="translate(1447.17,705.50) scale(1,1.05)" clip-path="url(#one)">1</text><text x="1419.30" y="782.98">0.5</text><text x="1444.40" y="868.67">0</text></g>
<text x="146.65" y="26.20">(A) Central apnea</text>
<text x="577.45" y="26.10">(B) Obstructive apnea</text>
<text x="1081.45" y="26.20">(C) Mixed apnea</text>
<text x="1564.35" y="26.20">(D) Hypopnea</text>
<text x="183.00" y="95.50">Nasal airflow</text>
<text x="646.70" y="95.30">Nasal airflow</text>
<text x="1107.90" y="95.30">Nasal airflow</text>
<text x="1572.00" y="95.30">Nasal airflow</text>
<text x="112.70" y="383.50">Abdominal movement</text>
<text x="587.20" y="386.50">Abdominal movement</text>
<text x="1037.40" y="383.50">Abdominal movement</text>
<text x="1498.20" y="383.50">Abdominal movement</text>
<text x="145.97" y="678.50" style="font-size:36.0px">Radar waveform</text>
<text x="614.37" y="674.60" style="font-size:36.0px">Radar waveform</text>
<text x="1076.27" y="676.80" style="font-size:36.0px">Radar waveform</text>
<text x="1540.47" y="679.20" style="font-size:36.0px">Radar waveform</text>
<text x="158.54" y="936.80" style="font-size:36.0px">Time (seconds)</text>
<text x="623.04" y="936.50" style="font-size:36.0px">Time (seconds)</text>
<text x="1085.44" y="936.70" style="font-size:36.0px">Time (seconds)</text>
<text x="1555.44" y="936.70" style="font-size:36.0px">Time (seconds)</text>
<text x="0" y="0" transform="translate(28.10,273.32) rotate(-90)">Amplitude</text>
<text x="0" y="0" transform="translate(26.70,565.62) rotate(-90)">Amplitude</text>
<text x="0" y="0" transform="translate(26.70,856.62) rotate(-90)">Amplitude</text>
<defs><clipPath id="one"><path d="M0,-40H25V-3.3H12.5V2H8.6V-3.3H0Z"/></clipPath></defs>
</svg></body></html>
